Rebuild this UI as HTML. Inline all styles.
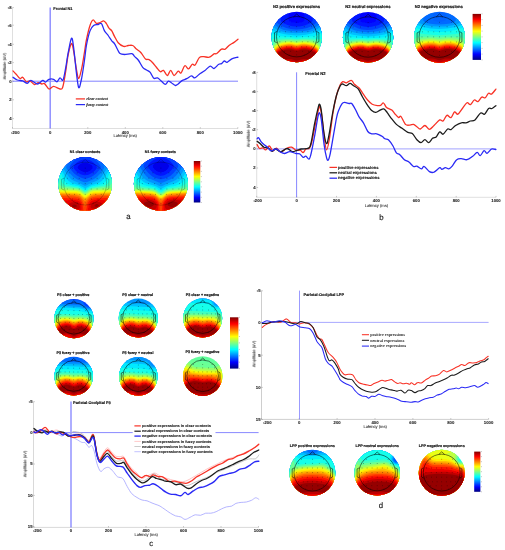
<!DOCTYPE html>
<html><head><meta charset="utf-8"><title>ERP figure</title>
<style>
html,body{margin:0;padding:0;background:#fff}
svg{display:block}
text{font-family:"Liberation Sans",sans-serif;fill:#1a1a1a;filter:url(#tx);text-rendering:geometricPrecision}
.tk{font-size:4.25px;font-weight:bold;fill:#2a2a2a;stroke:#2a2a2a;stroke-width:.1px}
.lb{font-size:4.05px;fill:#222;stroke:#222;stroke-width:.06px}
.tt{font-size:3.9px;font-weight:bold;stroke:#1a1a1a;stroke-width:.16px}
.tp{font-size:3.85px;font-weight:bold;stroke:#1a1a1a;stroke-width:.2px}
.tp2{font-size:3.7px;font-weight:bold;stroke:#1a1a1a;stroke-width:.2px}
.lg{font-size:3.82px;font-weight:bold;stroke:#1a1a1a;stroke-width:.1px}
.ls{font-family:"Liberation Serif",serif;font-size:4.1px;font-weight:bold;font-style:italic;fill:#2a2a2a;stroke:#2a2a2a;stroke-width:.1px}
.ls2{font-family:"Liberation Serif",serif;font-size:4.15px;font-weight:bold;fill:#333}
.lgb{font-size:4.1px;font-weight:bold;stroke:#1a1a1a;stroke-width:.1px}
.ttb{font-size:4.15px;font-weight:bold;stroke:#1a1a1a;stroke-width:.16px}
.tpb{font-size:4.1px;font-weight:bold;stroke:#1a1a1a;stroke-width:.2px}
.tpd{font-size:3.72px;font-weight:bold;stroke:#1a1a1a;stroke-width:.2px}
.tpa{font-size:3.7px;font-weight:bold;stroke:#1a1a1a;stroke-width:.2px}
.pl{font-size:7.8px;fill:#222;stroke:#222;stroke-width:.18px}
</style></head>
<body>
<svg width="505" height="550" viewBox="0 0 505 550">
<defs>
<linearGradient id="jetg" x1="0" y1="0" x2="0" y2="1"><stop offset="0%" stop-color="#800000"/><stop offset="6.2%" stop-color="#bf0000"/><stop offset="12.5%" stop-color="#ff0000"/><stop offset="18.8%" stop-color="#ff4000"/><stop offset="25%" stop-color="#ff8000"/><stop offset="31.2%" stop-color="#ffbf00"/><stop offset="37.5%" stop-color="#ffff00"/><stop offset="43.8%" stop-color="#bfff40"/><stop offset="50%" stop-color="#80ff80"/><stop offset="56.2%" stop-color="#40ffbf"/><stop offset="62.5%" stop-color="#00ffff"/><stop offset="68.8%" stop-color="#00bfff"/><stop offset="75%" stop-color="#0080ff"/><stop offset="81.2%" stop-color="#0040ff"/><stop offset="87.5%" stop-color="#0000ff"/><stop offset="93.8%" stop-color="#0000bf"/><stop offset="100%" stop-color="#000080"/></linearGradient>
<filter id="tb" x="-10%" y="-10%" width="120%" height="120%"><feGaussianBlur stdDeviation="0.55"/></filter>
<filter id="tx" x="-5%" y="-30%" width="110%" height="160%"><feGaussianBlur stdDeviation="0.22"/></filter>
<filter id="tb2" x="-10%" y="-10%" width="120%" height="120%"><feGaussianBlur stdDeviation="0.3"/></filter>
</defs>
<rect width="505" height="550" fill="#fff"/>
<!-- panel a -->
<path d="M12.5 7.5V128.5H238" fill="none" stroke="#cacaca" stroke-width=".6"/>
<path d="M12.5 128.5v-1.4M50.3 128.5v-1.4M87.8 128.5v-1.4M125.3 128.5v-1.4M162.8 128.5v-1.4M200.3 128.5v-1.4M237.8 128.5v-1.4M12.5 7.6h1.4M12.5 25.2h1.4M12.5 44.3h1.4M12.5 62.6h1.4M12.5 81.2h1.4M12.5 99.8h1.4M12.5 118.6h1.4" fill="none" stroke="#8a8a8a" stroke-width=".45"/>
<path d="M12.5 81.2H238" stroke="#5858ff" stroke-width="0.75" fill="none"/>
<path d="M50.2 7.5V128.5" stroke="#8a8aff" stroke-width="1.4" fill="none"/>
<text x="15.3" y="133.6" class="tk" text-anchor="middle">-200</text>
<text x="50.3" y="133.6" class="tk" text-anchor="middle">0</text>
<text x="87.8" y="133.6" class="tk" text-anchor="middle">200</text>
<text x="125.3" y="133.6" class="tk" text-anchor="middle">400</text>
<text x="162.8" y="133.6" class="tk" text-anchor="middle">600</text>
<text x="200.3" y="133.6" class="tk" text-anchor="middle">800</text>
<text x="237.8" y="133.6" class="tk" text-anchor="middle">1000</text>
<text x="11.5" y="8.9" class="tk" text-anchor="end">-8</text>
<text x="11.5" y="26.6" class="tk" text-anchor="end">-6</text>
<text x="11.5" y="45.6" class="tk" text-anchor="end">-4</text>
<text x="11.5" y="64" class="tk" text-anchor="end">-2</text>
<text x="11.5" y="82.5" class="tk" text-anchor="end">0</text>
<text x="11.5" y="101.1" class="tk" text-anchor="end">2</text>
<text x="11.5" y="119.9" class="tk" text-anchor="end">4</text>
<text x="125.2" y="137" class="lb" text-anchor="middle">Latency (ms)</text>
<text transform="translate(5.9 66.3) rotate(-90)" class="lb" text-anchor="middle">Amplitude (uV)</text>
<text x="53.3" y="10.2" class="tt">Frontal N1</text>
<path d="M13 70.9C13.6 71.5 15.2 73.2 16.4 74.5C17.6 75.8 18.9 78 20 78.5C21.1 79 21.6 76.8 22.7 77.3C23.8 77.8 25.2 81.2 26.4 81.8C27.6 82.4 28.6 80.5 30 80.9C31.4 81.4 33.1 84.2 34.5 84.5C35.9 84.8 37 82.8 38.2 82.7C39.4 82.6 40.8 83.8 41.8 84C42.8 84.2 43.3 82.8 44.5 83.6C45.7 84.4 47.5 88.5 49 89C50.5 89.5 51.8 86.4 53.6 86.4C55.4 86.4 58.5 88.8 60 89C61.5 89.2 61.8 90 62.7 87.3C63.6 84.6 64.6 78.2 65.5 72.7C66.4 67.2 67.2 59.4 68.2 54.5C69.2 49.6 70.6 44.2 71.5 43.6C72.4 43 72.8 46.7 73.6 50.9C74.4 55.1 75.6 64.4 76.4 69C77.2 73.6 77.8 78.7 78.7 78.5C79.6 78.3 80.8 72.4 81.8 68C82.8 63.6 83.7 56.7 84.5 52C85.3 47.3 85.5 44.4 86.4 40C87.3 35.6 88.9 28.8 90 25.5C91.1 22.2 91.9 20.4 93 20C94.1 19.6 95.2 22.9 96.4 23.3C97.6 23.8 98.8 23.1 100 22.7C101.2 22.3 102.5 20.8 103.6 20.9C104.7 21 105.5 22.4 106.4 23.6C107.3 24.8 108.1 27 109 28.2C109.9 29.4 110.9 29.5 111.8 30.9C112.7 32.3 113.4 34.4 114.5 36.4C115.6 38.4 116.7 41 118.2 42.7C119.7 44.4 121.9 45.9 123.6 46.4C125.3 46.9 126.7 45.6 128.2 45.5C129.7 45.4 131.3 44.9 132.7 45.5C134.1 46.1 135 47.8 136.4 49C137.8 50.2 139.5 51 141 52.7C142.5 54.4 144.2 57.9 145.5 59C146.8 60.1 147.8 59 149 59.6C150.2 60.2 151.5 61.4 152.7 62.7C153.9 64 155.1 65.8 156.4 67.3C157.7 68.8 159.1 71.2 160.3 71.7C161.5 72.2 162.3 69.8 163.5 70.4C164.7 71 166.1 75.5 167.3 75.5C168.5 75.5 169.6 70.4 170.7 70.4C171.8 70.4 172.8 75.4 174 75.5C175.2 75.6 177 71.6 178.2 71.2C179.4 70.8 179.9 73.9 181 73C182.1 72.1 183.5 66.4 184.8 65.7C186.1 65 187.3 69.2 188.6 68.9C189.8 68.7 191.2 64.8 192.3 64.2C193.4 63.6 193.9 66.2 195.1 65.1C196.3 64 197.9 59 199.3 57.6C200.7 56.2 201.9 56.8 203.6 56.7C205.3 56.6 207.6 57.7 209.3 57.2C211 56.7 212.8 54.5 214 53.9C215.2 53.3 215.6 54.3 216.8 53.5C218.1 52.7 220.1 49.9 221.5 49.2C222.9 48.5 223.9 49.8 225.2 49.2C226.4 48.6 227.6 46.5 229 45.4C230.4 44.3 232.2 43.6 233.7 42.6C235.2 41.6 237.3 39.8 238 39.2" fill="none" stroke="#f83226" stroke-width="1.3" stroke-linejoin="round" stroke-linecap="round"/>
<path d="M13 77.3C13.7 77.8 15.7 79.4 17.3 80C18.9 80.6 21 80.4 22.7 80.9C24.4 81.5 25.9 83.4 27.3 83.3C28.7 83.2 29.2 80.3 30.9 80.4C32.6 80.5 35.3 84 37.3 84C39.3 84 41.3 80.7 42.7 80.4C44.1 80.1 44.5 82.4 45.5 82.2C46.5 82 47.6 79.8 49 79.3C50.4 78.8 52.3 78.9 53.6 79.3C54.9 79.7 55.8 82 56.9 81.8C58 81.5 59 78.1 60 77.8C61 77.5 62.1 81.5 63 80C63.9 78.5 64.6 73.5 65.5 69C66.4 64.5 67.2 57.8 68.2 52.7C69.2 47.6 70.6 39.1 71.5 38.2C72.4 37.3 72.8 41.5 73.6 47.3C74.4 53 75.6 66 76.4 72.7C77.2 79.4 77.9 86.4 78.7 87.6C79.5 88.8 80.3 84.6 81.3 80C82.3 75.4 83.7 65.8 84.5 60C85.3 54.2 85.5 50.4 86.4 45.5C87.3 40.6 88.8 34.2 90 30.9C91.2 27.6 92.2 26.6 93.6 25.5C95 24.4 96.9 24.8 98.2 24.5C99.5 24.2 100.5 22.5 101.5 23.6C102.5 24.7 103.4 28.9 104.5 30.9C105.6 32.9 107 33.8 108.2 35.5C109.4 37.2 110.8 39.5 111.8 40.9C112.8 42.2 113.6 42.2 114.5 43.6C115.4 45 116.4 47.3 117.3 49C118.2 50.7 118.8 52.7 120 53.6C121.2 54.5 122.5 54.5 124.5 54.5C126.5 54.5 130.1 53.3 131.8 53.6C133.5 53.9 133.4 55.3 134.5 56.4C135.6 57.5 136.8 58.2 138.2 60C139.6 61.8 141.3 65.6 142.7 67.3C144.1 69 145.2 69.2 146.4 70C147.6 70.8 148.8 70.8 150 72.2C151.2 73.6 152.6 77.3 153.8 78.3C155.1 79.2 156.2 77.4 157.5 77.9C158.8 78.4 160 80 161.3 81.1C162.6 82.2 164.2 84.3 165.4 84.3C166.6 84.3 167.4 81.3 168.4 81.1C169.4 80.9 170.4 82.3 171.6 83C172.8 83.7 174.3 85.3 175.4 85.5C176.5 85.7 177.1 84.8 178.2 84C179.3 83.2 180.6 81.5 182 80.6C183.4 79.7 185.1 79.5 186.7 78.7C188.3 77.9 190.1 76 191.4 75.9C192.8 75.8 193.5 78.2 194.8 77.9C196.1 77.6 197.7 75.4 199.3 74.2C200.9 73 202.8 72.2 204.6 70.8C206.4 69.4 208.6 66.5 210.2 66.1C211.8 65.7 212.6 68.8 214 68.5C215.4 68.2 217.4 65 218.7 64.2C219.9 63.4 220.6 64.1 221.5 63.6C222.4 63.1 223.4 61.2 224.3 61C225.2 60.8 225.8 62.6 227.1 62.3C228.3 61.9 230 59.8 231.8 58.9C233.6 58 237 57.4 238 57.1" fill="none" stroke="#2a2af5" stroke-width="1.3" stroke-linejoin="round" stroke-linecap="round"/>
<path d="M75.8 98.9H85" stroke="#f83226" stroke-width="1.25" fill="none"/>
<text x="86.2" y="100.1" class="ls">clear context</text>
<path d="M75.8 104.6H85" stroke="#2a2af5" stroke-width="1.25" fill="none"/>
<text x="86.2" y="105.8" class="ls">fuzzy context</text>
<text x="85" y="153.2" class="tpa" text-anchor="middle">N1 clear contexts</text>
<text x="160.3" y="153.2" class="tpa" text-anchor="middle">N1 fuzzy contexts</text>
<clipPath id="tc0"><circle cx="85.2" cy="183.9" r="26.8"/></clipPath>
<g filter="url(#tb)"><g clip-path="url(#tc0)">
<rect x="57.4" y="156.1" width="55.6" height="55.6" fill="#0000e9"/>
<path fill="#0000ea" fill-rule="evenodd" d="M57.4 156.1L113 156.1L113 211.7L57.4 211.7ZM84.2 167.7L84.6 167.9L86.2 167.7L85.8 167.3L84.6 167.3Z"/>
<path fill="#0015ff" fill-rule="evenodd" d="M57.4 156.1L113 156.1L113 211.7L57.4 211.7ZM77.7 167.7L78.4 169L80.7 170.8L82.4 171.6L84.6 172.1L87.1 171.9L89.7 170.8L92 169L92.7 167.7L92.6 166.4L91 164.7L88.4 163.3L85.8 162.7L83.3 162.9L80.7 163.9L78.9 165.2L77.8 166.4Z"/>
<path fill="#0040ff" fill-rule="evenodd" d="M57.4 156.1L113 156.1L113 211.7L57.4 211.7ZM73.6 166.4L73.5 167.7L74.2 169L76.8 171.7L78.4 172.9L80.7 174.2L83.3 175.1L84.6 175.3L87.1 175.1L88.4 174.7L91 173.5L93.6 171.7L94.9 170.5L96.2 169L96.9 167.7L96.8 166.4L96 165.2L93.5 162.6L91.6 161.3L89.7 160.3L87.1 159.5L85.8 159.4L83.3 159.5L80.7 160.3L79.4 160.9L76.9 162.6L75.5 163.9L74.4 165.2Z"/>
<path fill="#006aff" fill-rule="evenodd" d="M57.4 156.1L78.9 156.1L77.9 157.4L74.2 160.6L71.6 163.5L70.4 165.2L69.7 166.4L69.7 167.7L70.3 169L72.4 171.6L74.2 173.4L76.8 175.5L80.7 177.6L83.3 178.6L84.6 178.8L85.8 178.8L88.4 178.1L91 177L93.6 175.5L96.2 173.4L98 171.6L100.1 169L100.7 167.7L100.7 166.4L100 165.2L98.8 163.5L96.2 160.6L92.5 157.4L91.5 156.1L113 156.1L113 211.7L57.4 211.7Z"/>
<path fill="#0095ff" fill-rule="evenodd" d="M57.4 156.1L72.7 156.1L72.3 157.4L69 161.8L66.8 165.2L66.3 166.4L66.2 167.7L66.8 169L70.3 173.7L72.9 176.5L74.2 177.6L77.3 179.4L83.3 181.9L84.6 182.2L85.8 182.2L87.1 181.9L93.1 179.4L95.6 178.1L97.5 176.5L100.1 173.7L103.6 169L104.2 167.7L104.1 166.4L103.6 165.2L101.4 161.8L98.1 157.4L97.7 156.1L113 156.1L113 211.7L57.4 211.7Z"/>
<path fill="#00bfff" fill-rule="evenodd" d="M57.4 156.1L68.5 156.1L68.2 157.4L63.7 165.2L63.3 166.4L63.2 167.7L63.7 169L65.2 171.4L69 177L70 178.1L71.4 179.4L74.2 181L79.4 183L84.6 185.7L85.8 185.7L87.1 185.1L91 183L96.2 181L99 179.4L100.4 178.1L101.4 177L106.5 169.3L107.2 167.7L107.1 166.4L106 163.9L102.2 157.4L101.9 156.1L113 156.1L113 211.7L57.4 211.7Z"/>
<path fill="#00eaff" fill-rule="evenodd" d="M57.4 156.1L65.1 156.1L64.9 157.4L61 165.2L60.6 166.4L60.5 167.7L61.6 170.3L66.1 178.1L67.1 179.4L69 181.3L71.6 182.8L72.9 183.3L79.4 185.2L84.6 188.1L85.8 188.1L91 185.2L97.5 183.3L98.8 182.8L101.4 181.3L103.3 179.4L104.3 178.1L108.8 170.3L109.9 167.7L109.8 166.4L109.4 165.2L105.5 157.4L105.3 156.1L113 156.1L113 211.7L57.4 211.7Z"/>
<path fill="#15ffea" fill-rule="evenodd" d="M57.4 156.1L62.3 156.1L61.5 158.7L57.7 166.4L57.7 167.7L61.9 175.5L63.5 179.4L65.2 181.8L66.9 183.3L69 184.3L71.6 185L78.1 186.2L79.4 186.7L84.6 189.7L85.8 189.7L89.7 187.3L92.3 186.2L98.8 185L101.4 184.3L103.5 183.3L105.2 181.8L106.9 179.4L108.5 175.5L112.7 167.7L112.7 166.4L108.9 158.7L108.1 156.1L113 156.1L113 211.7L57.4 211.7Z"/>
<path fill="#40ffbf" fill-rule="evenodd" d="M59.7 156.1L58.9 158.7L57.4 161.1L57.4 156.1ZM110.7 156.1L113 156.1L113 161.1L111.5 158.7ZM57.4 172.7L58.7 174.3L59.3 175.5L60.5 179.4L61.5 182L62.4 183.3L64 184.5L67.5 185.8L78.1 187.4L80.7 188.5L83.3 190.3L84.6 190.9L85.8 190.9L87.1 190.3L89.7 188.5L92.3 187.4L102.9 185.8L106.4 184.5L108 183.3L108.9 182L109.9 179.4L111.1 175.5L111.7 174.3L113 172.7L113 211.7L57.4 211.7Z"/>
<path fill="#6aff95" fill-rule="evenodd" d="M57.4 180.8L58.4 183.3L59.3 184.5L60.9 185.8L63.9 186.7L66.3 187.1L75.5 187.9L78.1 188.4L80.7 189.5L83.3 191.3L84.6 191.9L85.8 191.9L87.1 191.3L89.7 189.5L92.3 188.4L94.9 187.9L104.1 187.1L106.5 186.7L109.5 185.8L111.1 184.5L112 183.3L113 180.8L113 211.7L57.4 211.7Z"/>
<path fill="#95ff6a" fill-rule="evenodd" d="M57.4 187.4L63.9 188.2L75.5 188.9L78.1 189.3L79.4 189.7L80.7 190.5L83.3 192.3L84.6 192.9L85.8 192.9L87.1 192.3L91 189.7L93.6 189.1L106.5 188.2L113 187.4L113 211.7L57.4 211.7Z"/>
<path fill="#bfff40" fill-rule="evenodd" d="M57.4 189.1L76.8 190.1L79.4 190.8L80.7 191.5L83.3 193.4L84.6 194L85.8 194L87.1 193.4L89.7 191.5L91 190.8L93.6 190.1L113 189.1L113 211.7L57.4 211.7Z"/>
<path fill="#eaff15" fill-rule="evenodd" d="M57.4 190.3L76.8 191.1L79.4 191.8L80.7 192.6L83.3 194.5L84.6 195.2L85.8 195.2L87.1 194.5L89.7 192.6L91 191.8L93.6 191.1L113 190.3L113 211.7L57.4 211.7Z"/>
<path fill="#ffea00" fill-rule="evenodd" d="M57.4 191.4L72.9 191.9L76.8 192.2L79.4 192.9L80.7 193.7L83.3 195.7L84.6 196.4L85.8 196.4L87.1 195.6L89.7 193.7L91 192.9L93.6 192.2L97.5 191.9L113 191.4L113 211.7L57.4 211.7Z"/>
<path fill="#ffbf00" fill-rule="evenodd" d="M57.4 192.4L76.8 193.2L79.4 193.9L80.7 194.7L83.3 196.8L84.6 197.5L85.8 197.5L87.1 196.8L89.7 194.7L91 193.9L93.6 193.2L113 192.4L113 211.7L57.4 211.7Z"/>
<path fill="#ff9500" fill-rule="evenodd" d="M57.4 193.4L76.8 194.2L79.4 195L80.7 195.8L83.3 198.1L84.6 198.9L85.8 198.8L91 195L93.6 194.2L113 193.4L113 211.7L57.4 211.7Z"/>
<path fill="#ff6a00" fill-rule="evenodd" d="M57.4 194.6L72.9 195.1L76.8 195.4L79.4 196.2L80.7 197.1L84.6 201L85.8 200.7L89.2 197.5L91 196.2L93.6 195.4L97.5 195.1L113 194.6L113 211.7L57.4 211.7Z"/>
<path fill="#ff4000" fill-rule="evenodd" d="M57.4 196L74.2 196.6L78.1 197.2L79.4 197.7L80.7 198.6L82 200.1L82.8 201.4L84 203.9L84.6 206.7L85.3 205.2L85.8 204.7L86.5 202.6L88.2 200.1L89.7 198.5L91 197.7L92.3 197.2L96.2 196.6L113 196L113 211.7L57.4 211.7Z"/>
<path fill="#ff1500" fill-rule="evenodd" d="M57.4 197.9L75.5 198.4L78.1 198.9L79.4 199.5L80.7 200.5L82 202.6L82.7 205.2L83.3 209.7L84 211.7L57.4 211.7ZM85.5 211.7L85.8 211.4L86.5 209.1L87.2 205.2L88.1 202.6L89.7 200.4L91 199.4L93.6 198.5L96.2 198.2L113 197.9L113 211.7Z"/>
<path fill="#ea0000" fill-rule="evenodd" d="M88.7 205.2L89.7 202.7L91 201.4L92.3 200.7L94.6 200.1L97.5 199.8L105.2 200.5L113 200.3L113 211.7L88.3 211.7L88.1 209.1ZM57.4 200.3L65.2 200.5L74.2 200.1L76.8 200.4L78.1 200.8L79.4 201.5L80.4 202.6L81 203.9L81.7 207.8L81.6 209.1L81 211.7L57.4 211.7Z"/>
<path fill="#bf0000" fill-rule="evenodd" d="M66.7 205.2L68.5 203.9L71.2 202.6L72.9 202.2L75.5 202.2L77.1 202.6L78.1 203.2L78.9 203.9L79.7 205.2L79.9 206.5L79.8 207.8L79.4 208.5L78.1 209.2L75.5 209.7L72.9 209.6L70.3 208.7L68.5 207.8L66.7 206.5ZM90.5 206.5L91 204.9L92.3 203.2L93.6 202.4L96.2 201.7L97.5 201.7L100.1 202.3L103.1 203.9L104.6 205.2L104.4 206.5L102.1 207.8L100.1 208.6L97.5 209.2L94.9 209.1L92.3 208.6L91 208.1L90.8 207.8Z"/>
<path fill="#950000" fill-rule="evenodd" d="M72.3 205.2L72.9 204.8L74.2 204.5L75.5 204.7L76.5 205.2L76.9 206.5L75.5 207.3L74.2 207.4L72.9 207L72.1 206.5ZM94.5 205.2L96.2 204.1L97.5 204.1L99 205.2L98.4 206.5L97.5 206.8L96.2 206.9L94.9 206.5Z"/>
</g></g>
<g fill="none" stroke="#000" stroke-opacity="0.55" stroke-width="0.45"><circle cx="85.2" cy="183.6" r="21.4"/><path d="M81.8 162.5 L85.2 159.4 L88.6 162.5"/><path d="M64.2 178.1 L61.6 179.3 L61.6 188.8 L64.2 190.1"/><path d="M106.2 178.1 L108.8 179.3 L108.8 188.8 L106.2 190.1"/></g>
<path d="M72.4 168.2h.01M85.2 168.2h.01M98 168.2h.01M69.2 172.9h.01M77.2 172.9h.01M85.2 172.9h.01M93.2 172.9h.01M101.2 172.9h.01M67.3 178.3h.01M73.3 178.3h.01M79.2 178.3h.01M85.2 178.3h.01M91.2 178.3h.01M97.1 178.3h.01M103.1 178.3h.01M66.8 183.6h.01M72.9 183.6h.01M79.1 183.6h.01M85.2 183.6h.01M91.3 183.6h.01M97.5 183.6h.01M103.6 183.6h.01M67.3 189h.01M73.3 189h.01M79.2 189h.01M85.2 189h.01M91.2 189h.01M97.1 189h.01M103.1 189h.01M69.2 194.4h.01M74.6 194.4h.01M79.9 194.4h.01M85.2 194.4h.01M90.5 194.4h.01M95.8 194.4h.01M101.2 194.4h.01M72.4 199.1h.01M78.8 199.1h.01M85.2 199.1h.01M91.6 199.1h.01M98 199.1h.01M77.2 202.9h.01M85.2 202.9h.01M93.2 202.9h.01" stroke="#000" stroke-opacity=".55" stroke-width=".7" stroke-linecap="round" fill="none"/>
<clipPath id="tc1"><circle cx="160.9" cy="183.9" r="27"/></clipPath>
<g filter="url(#tb)"><g clip-path="url(#tc1)">
<rect x="132.9" y="155.9" width="56" height="56" fill="#0000e8"/>
<path fill="#0000ea" fill-rule="evenodd" d="M132.9 155.9L188.9 155.9L188.9 211.9L132.9 211.9ZM159.6 166.3L160.2 167L161.6 167L162.2 166.3L161.6 166L160.2 166Z"/>
<path fill="#0015ff" fill-rule="evenodd" d="M132.9 155.9L188.9 155.9L188.9 211.9L132.9 211.9ZM152.8 166.3L153.2 167.6L154.2 168.9L155.7 170.2L157.6 171.4L160.2 172.1L162.9 171.9L165.5 170.7L166.8 169.7L168.6 167.6L169 166.3L168.6 165L166.8 163.3L164.2 162L161.6 161.5L158.9 161.7L156.3 162.6L155 163.3L153.2 165Z"/>
<path fill="#0040ff" fill-rule="evenodd" d="M132.9 155.9L188.9 155.9L188.9 211.9L132.9 211.9ZM148 166.3L148.5 167.6L149.5 168.9L151.1 170.8L153.3 172.8L156.3 174.7L158.9 175.6L160.2 175.8L161.6 175.8L164.2 175.2L166.5 174.1L168.1 173.1L170 171.5L172 169.4L173.3 167.6L173.8 166.3L173.5 165L172.6 163.7L169.4 160.6L166.8 159L164.2 157.8L161.6 157.3L158.9 157.5L157.6 157.8L153.7 159.7L151.1 161.7L149.2 163.7L148.3 165Z"/>
<path fill="#006aff" fill-rule="evenodd" d="M132.9 155.9L150.3 155.9L149.7 157.2L145.9 161.8L144.5 163.7L143.8 165L143.6 166.3L144.1 167.6L147.2 171.8L149.4 174.1L151.1 175.6L152.8 176.7L155.7 178L158.9 179.1L160.2 179.3L161.6 179.3L164.2 178.7L166.8 177.8L169.4 176.5L170.9 175.4L173.3 173.3L175.9 170.2L177.7 167.6L178.2 166.3L178 165L177.3 163.7L175.9 161.8L172.1 157.2L171.5 155.9L188.9 155.9L188.9 211.9L132.9 211.9Z"/>
<path fill="#0095ff" fill-rule="evenodd" d="M132.9 155.9L144.8 155.9L144.4 157.2L140.7 163.3L139.9 165L139.8 166.3L140.2 167.6L143.3 172.5L145.6 175.4L146.9 176.7L148.5 177.9L151.2 179.3L158.9 182.4L160.2 182.7L161.6 182.7L162.9 182.4L170.6 179.3L173.3 177.9L174.9 176.7L176.2 175.4L178.5 172.5L180.9 168.9L181.6 167.6L182 166.3L181.9 165L181.1 163.3L177.4 157.2L177 155.9L188.9 155.9L188.9 211.9L132.9 211.9Z"/>
<path fill="#00bfff" fill-rule="evenodd" d="M132.9 155.9L140.6 155.9L140.4 157.2L137.1 163.7L136.6 165L136.5 166.3L136.8 167.6L139.4 172.4L141.4 175.4L143.3 177.8L145.1 179.3L147.2 180.7L150 181.9L155 183.7L158.9 185.7L160.2 186.2L161.6 186.2L162.5 185.9L166.8 183.7L173.3 181.3L175.9 179.9L178.5 177.8L180.4 175.4L182.4 172.4L185 167.6L185.3 166.3L185.2 165L184.7 163.7L181.4 157.2L181.2 155.9L188.9 155.9L188.9 211.9L132.9 211.9Z"/>
<path fill="#00eaff" fill-rule="evenodd" d="M132.9 155.9L137.2 155.9L136.5 158.5L133.2 165L133 166.3L133.5 167.6L138.1 175.9L140.5 179.3L143.3 181.8L145.9 183.2L148.5 184.1L153.7 185.4L156.3 186.5L158.9 188.1L160.2 188.7L161.6 188.7L165.5 186.5L168.1 185.4L173.3 184.1L175.9 183.2L178.5 181.8L181.3 179.3L183.7 175.9L188.3 167.6L188.8 166.3L188.6 165L185.3 158.5L184.6 155.9L188.9 155.9L188.9 211.9L132.9 211.9Z"/>
<path fill="#15ffea" fill-rule="evenodd" d="M134 155.9L133.7 157.2L132.9 158.6L132.9 155.9ZM187.8 155.9L188.9 155.9L188.9 158.6L188.1 157.2ZM132.9 172.8L134.2 174.5L137.6 180.6L138.6 181.9L140.1 183.2L142.6 184.6L147 185.9L152.4 186.8L155 187.6L158.9 190L160.2 190.5L161.6 190.5L162.9 190L166.8 187.6L169.4 186.8L174.8 185.9L179.2 184.6L181.7 183.2L183.2 181.9L184.2 180.6L187.6 174.5L188.9 172.8L188.9 211.9L132.9 211.9Z"/>
<path fill="#40ffbf" fill-rule="evenodd" d="M132.9 179.3L135.5 183.2L136.9 184.6L139.5 185.9L143.3 186.9L151.1 187.9L153.7 188.5L155 188.9L158.9 191.4L160.2 191.9L161.6 191.9L162.9 191.3L165.5 189.6L168.1 188.5L170.7 187.9L177 187.2L182.4 185.8L184.9 184.6L186.3 183.3L188.9 179.3L188.9 211.9L132.9 211.9Z"/>
<path fill="#6aff95" fill-rule="evenodd" d="M132.9 185.9L136.2 187.2L139.4 187.8L144.4 188.5L151.1 189L153.7 189.5L156.3 190.7L158.9 192.5L160.2 193L161.6 193L162.9 192.5L165.5 190.7L168.1 189.5L170.7 189L177.4 188.5L182.4 187.8L185.6 187.2L188.9 185.9L188.9 211.9L132.9 211.9Z"/>
<path fill="#95ff6a" fill-rule="evenodd" d="M132.9 188.5L152.4 190.2L155 191L158.9 193.5L160.2 194L161.6 194L162.9 193.5L166.8 191L169.4 190.2L188.9 188.5L188.9 211.9L132.9 211.9Z"/>
<path fill="#bfff40" fill-rule="evenodd" d="M132.9 189.7L149.8 190.7L152.4 191L155 191.8L158.9 194.4L160.2 195L161.6 195L162.9 194.4L166.8 191.8L169.4 191L172 190.7L188.9 189.7L188.9 211.9L132.9 211.9Z"/>
<path fill="#eaff15" fill-rule="evenodd" d="M132.9 190.6L148.5 191.4L152.4 191.8L155 192.6L158.9 195.2L160.2 195.8L161.6 195.8L162.9 195.2L166.8 192.6L169.4 191.8L173.3 191.4L188.9 190.6L188.9 211.9L132.9 211.9Z"/>
<path fill="#ffea00" fill-rule="evenodd" d="M132.9 191.4L148.5 192.2L152.4 192.6L155 193.4L158.9 196.1L160.2 196.7L161.6 196.7L162.9 196.1L166.8 193.4L169.4 192.6L173.3 192.2L188.9 191.4L188.9 211.9L132.9 211.9Z"/>
<path fill="#ffbf00" fill-rule="evenodd" d="M132.9 192.2L148.5 193L152.4 193.4L155 194.3L158.9 197L160.2 197.7L161.6 197.7L162.9 197L166.8 194.3L169.4 193.4L173.3 193L188.9 192.2L188.9 211.9L132.9 211.9Z"/>
<path fill="#ff9500" fill-rule="evenodd" d="M132.9 193L148.5 193.8L152.4 194.2L155 195.1L156.8 196.3L158.9 198L160.2 198.8L161.6 198.8L162.9 198L166.8 195.1L169.4 194.2L173.3 193.8L188.9 193L188.9 211.9L132.9 211.9Z"/>
<path fill="#ff6a00" fill-rule="evenodd" d="M132.9 194L149.8 194.9L152.4 195.2L155.3 196.3L157.1 197.6L160.2 200.3L161.6 200.3L164.7 197.6L166.5 196.3L169.4 195.2L172 194.9L188.9 194L188.9 211.9L132.9 211.9Z"/>
<path fill="#ff4000" fill-rule="evenodd" d="M132.9 195.1L149.8 195.9L152.4 196.3L153.7 196.6L155.6 197.6L157.2 198.9L159.4 201.5L160.2 203.1L161.6 202.9L162.3 201.5L163.3 200.2L165.5 198.1L166.8 197.2L169.3 196.3L172 195.9L188.9 195.1L188.9 211.9L132.9 211.9Z"/>
<path fill="#ff1500" fill-rule="evenodd" d="M132.9 196.4L149.8 197.1L152.4 197.5L155 198.5L157 200.2L158 201.5L158.6 202.8L159.5 206.7L159.7 211.9L132.9 211.9ZM163.1 202.8L164.2 200.9L165.5 199.4L166.8 198.5L169.4 197.5L173.3 197.1L188.9 196.4L188.9 211.9L161.9 211.9L162.2 206.7Z"/>
<path fill="#ea0000" fill-rule="evenodd" d="M132.9 198L140.7 198.4L149.8 198.4L152.4 198.8L155 200L156.6 201.5L157.3 202.8L157.8 204.1L158.2 206.7L157.7 211.9L132.9 211.9ZM163.8 204.1L164.3 202.8L165.5 201.1L166.8 200L169.4 198.8L173.3 198.3L181.1 198.4L188.9 198L188.9 211.9L163.9 211.9L163.5 206.7Z"/>
<path fill="#bf0000" fill-rule="evenodd" d="M132.9 200.3L140.7 200.5L148.5 199.8L151.1 200L152.4 200.4L153.7 201L155 202L156.3 203.8L156.7 205.4L156.7 206.7L156.3 207.9L155 209.2L151.1 209.9L148.5 210L145.9 209.5L141.5 208L139.4 207.5L132.9 206.9ZM164.9 205.4L165.5 203.5L166.8 201.9L168.1 200.9L170.7 200L174.6 199.8L181.1 200.6L188.9 200.3L188.9 206.9L182.4 207.4L179.8 208.1L174.6 209.8L173.3 210L170.7 209.9L166.8 209.4L165.5 208.4L164.9 206.7Z"/>
<path fill="#950000" fill-rule="evenodd" d="M144 202.8L147.2 201.5L149.9 201.5L151.1 201.8L152.9 202.8L153.9 204.1L153.7 205.2L152.4 206.2L151.1 206.7L149.8 207L148.5 207L147.2 206.7L144.9 205.4L143.7 204.1ZM167.7 204.1L168.7 202.8L169.4 202.3L171.7 201.5L173.3 201.4L174.6 201.6L177.5 202.8L177.8 204.1L176.7 205.4L174.6 206.6L173.3 206.9L172 207L170.2 206.7L167.8 205.4Z"/>
</g></g>
<g fill="none" stroke="#000" stroke-opacity="0.55" stroke-width="0.45"><circle cx="160.9" cy="183.6" r="21.6"/><path d="M157.4 162.4 L160.9 159.2 L164.4 162.4"/><path d="M139.7 178 L137.1 179.3 L137.1 188.8 L139.7 190.1"/><path d="M182.1 178 L184.7 179.3 L184.7 188.8 L182.1 190.1"/></g>
<path d="M148 168.1h.01M160.9 168.1h.01M173.8 168.1h.01M144.8 172.8h.01M152.9 172.8h.01M160.9 172.8h.01M168.9 172.8h.01M177 172.8h.01M142.9 178.2h.01M148.9 178.2h.01M154.9 178.2h.01M160.9 178.2h.01M166.9 178.2h.01M172.9 178.2h.01M178.9 178.2h.01M142.3 183.6h.01M148.5 183.6h.01M154.7 183.6h.01M160.9 183.6h.01M167.1 183.6h.01M173.3 183.6h.01M179.5 183.6h.01M142.9 189h.01M148.9 189h.01M154.9 189h.01M160.9 189h.01M166.9 189h.01M172.9 189h.01M178.9 189h.01M144.8 194.4h.01M150.2 194.4h.01M155.5 194.4h.01M160.9 194.4h.01M166.3 194.4h.01M171.6 194.4h.01M177 194.4h.01M148 199.2h.01M154.5 199.2h.01M160.9 199.2h.01M167.3 199.2h.01M173.8 199.2h.01M152.8 203.1h.01M160.9 203.1h.01M169 203.1h.01" stroke="#000" stroke-opacity=".55" stroke-width=".7" stroke-linecap="round" fill="none"/>
<clipPath id="tc2"><circle cx="296.7" cy="37" r="25.2"/></clipPath>
<g filter="url(#tb)"><g clip-path="url(#tc2)">
<rect x="270.5" y="10.8" width="52.4" height="52.4" fill="#0006ff"/>
<path fill="#0015ff" fill-rule="evenodd" d="M270.5 10.8L288.6 10.8L288.6 19.3L288.8 20.5L290 21.8L293.7 22.7L296.1 23L298.5 22.9L302.2 22.2L303.4 21.8L304.6 20.5L304.8 19.3L304.8 10.8L322.9 10.8L322.9 63.2L270.5 63.2Z"/>
<path fill="#0040ff" fill-rule="evenodd" d="M270.5 10.8L280.7 10.8L280.7 19.3L280.8 20.5L281.4 21.8L282.9 23L287.6 25L292.4 26.3L296.1 26.6L299.7 26.4L304.6 25.4L307.1 24.6L310.5 23L312 21.8L312.6 20.5L312.7 19.3L312.7 10.8L322.9 10.8L322.9 63.2L270.5 63.2Z"/>
<path fill="#006aff" fill-rule="evenodd" d="M270.5 10.8L275.6 10.8L275.7 20.5L276.1 21.8L276.6 22.3L278.8 24.2L282.7 26.5L286.3 28L290.9 29.1L296.1 29.5L302.2 29.1L307.1 28L310.7 26.5L314.6 24.2L316.8 22.3L317.3 21.8L317.7 20.5L317.8 10.8L322.9 10.8L322.9 63.2L270.5 63.2Z"/>
<path fill="#0095ff" fill-rule="evenodd" d="M270.5 10.8L271.3 10.8L271.4 20.5L271.9 21.8L272.8 23L275.4 25.2L279.1 27.9L281.5 29.1L283.9 29.9L288.8 30.8L296.1 31.4L303.4 31L307.1 30.5L309.5 29.9L313.2 28.5L315.6 27L317.8 25.4L320.6 23L321.5 21.8L322 20.5L322.1 10.8L322.9 10.8L322.9 63.2L270.5 63.2Z"/>
<path fill="#00bfff" fill-rule="evenodd" d="M270.5 25L271.7 25.7L275.9 29.1L278.2 30.3L280.2 31L282.7 31.7L286.3 32.4L296.1 33.3L299.7 33.1L305.8 32.5L309.5 32L313.2 31L315.2 30.3L317.5 29.1L321.7 25.7L322.9 25L322.9 63.2L270.5 63.2Z"/>
<path fill="#00eaff" fill-rule="evenodd" d="M270.5 28.7L275.4 31.7L280.2 33.3L286.3 34.5L296.1 35.4L298.5 35.4L305.8 34.7L313.2 33.3L318 31.7L322.9 28.7L322.9 63.2L270.5 63.2Z"/>
<path fill="#15ffea" fill-rule="evenodd" d="M270.5 32.5L275.4 34.8L277.8 35.6L280.2 36.2L283.9 36.6L296.1 37.5L309.5 36.6L313.2 36.2L315.6 35.6L318 34.8L322.9 32.5L322.9 63.2L270.5 63.2Z"/>
<path fill="#40ffbf" fill-rule="evenodd" d="M270.5 39.4L279 38.6L287.6 38.4L291.2 38.5L296.1 38.9L303.4 38.4L311.9 38.5L322.9 39.4L322.9 63.2L270.5 63.2Z"/>
<path fill="#6aff95" fill-rule="evenodd" d="M270.5 48.5L272.4 44.9L274.2 42.6L275.4 41.6L276.6 41L279 40.3L282.7 39.8L287.6 39.5L291.2 39.6L297.3 40.1L302.2 39.6L304.6 39.5L310.7 39.8L315.6 40.6L318 41.6L319.2 42.6L321 44.9L322.9 48.5L322.9 63.2L270.5 63.2Z"/>
<path fill="#95ff6a" fill-rule="evenodd" d="M270.5 51L273.3 46.1L275.3 43.7L276.6 42.8L277.8 42.2L280.2 41.4L283.9 40.8L288.8 40.5L291.2 40.6L296.1 41.2L302.2 40.6L305.8 40.5L309.5 40.8L313.2 41.4L315.6 42.2L316.8 42.8L318.1 43.7L320.1 46.1L322.9 51L322.9 63.2L270.5 63.2Z"/>
<path fill="#bfff40" fill-rule="evenodd" d="M270.5 52.6L273.7 47.4L275.4 45.3L276.6 44.2L279 43L281.5 42.3L285.1 41.7L290 41.4L296.1 42.2L297.3 42.2L302.2 41.5L304.6 41.4L308.3 41.7L311.9 42.3L314.4 43L316.8 44.2L318 45.3L319.7 47.4L322.9 52.6L322.9 63.2L270.5 63.2Z"/>
<path fill="#eaff15" fill-rule="evenodd" d="M270.5 53.9L273.8 48.6L275.4 46.5L277.8 44.6L279 44L281.5 43.2L285.1 42.6L288.8 42.3L291.2 42.3L296.1 43.1L297.3 43.1L303.4 42.3L307.1 42.5L310.7 43L314.4 44L315.6 44.6L317.6 46.1L319.2 48L322.9 53.9L322.9 63.2L270.5 63.2Z"/>
<path fill="#ffea00" fill-rule="evenodd" d="M270.5 54.9L273.7 49.8L275.4 47.6L277.8 45.6L281.5 44.1L285.1 43.4L288.8 43.1L291.2 43.1L296.1 44L297.3 44L303.4 43L308.3 43.4L311.9 44.1L315.6 45.6L317.7 47.4L319.2 49.1L322.9 54.9L322.9 63.2L270.5 63.2Z"/>
<path fill="#ffbf00" fill-rule="evenodd" d="M270.5 55.8L274.2 50.1L275.4 48.6L277.8 46.5L279 45.9L281.5 44.9L285.1 44.2L288.8 43.8L291.2 43.9L296.1 44.8L297.3 44.8L301 44L303.4 43.8L308.3 44.2L311.9 44.9L314.4 45.9L316.8 47.4L319.2 50.1L322.9 55.8L322.9 63.2L270.5 63.2Z"/>
<path fill="#ff9500" fill-rule="evenodd" d="M270.5 56.7L271.7 55.1L274.2 51L275.4 49.5L277.8 47.4L279 46.7L281.5 45.7L285.1 44.9L288.8 44.5L291.2 44.6L296.1 45.5L298.5 45.3L302.2 44.6L304.6 44.5L307.1 44.7L310.7 45.4L313.2 46.1L315.6 47.4L318 49.5L319.2 51L321.7 55.1L322.9 56.7L322.9 63.2L270.5 63.2Z"/>
<path fill="#ff6a00" fill-rule="evenodd" d="M270.5 57.5L271.7 55.9L274.2 51.9L275.4 50.4L277.8 48.2L279.3 47.4L281.5 46.5L285.1 45.6L288.8 45.2L291.2 45.3L296.1 46.3L297.3 46.3L302.2 45.3L305.8 45.3L309.5 45.8L313.2 46.9L315.6 48.2L318 50.4L319.2 51.9L321.7 55.9L322.9 57.5L322.9 63.2L270.5 63.2Z"/>
<path fill="#ff4000" fill-rule="evenodd" d="M270.5 58.4L271.7 56.8L274.2 52.8L275.6 51L277.8 49.1L279 48.3L281.5 47.3L285.1 46.3L288.8 45.9L291.2 46L296.1 47.1L298.5 46.8L302.2 46L305.8 46L309.5 46.6L313.2 47.7L315.6 49.1L317.8 51L319.2 52.8L321.7 56.8L322.9 58.4L322.9 63.2L270.5 63.2Z"/>
<path fill="#ff1500" fill-rule="evenodd" d="M270.5 59.2L271.7 57.7L274.2 53.7L275.4 52.2L277.8 50L279 49.2L281.5 48.1L285.1 47.1L288.8 46.7L291.2 46.8L296.1 47.9L298.5 47.7L302.2 46.8L304.6 46.7L308.3 47.1L311.9 48.1L314.4 49.2L316.8 50.9L319.2 53.7L321.7 57.7L322.9 59.2L322.9 63.2L270.5 63.2Z"/>
<path fill="#ea0000" fill-rule="evenodd" d="M270.5 60.2L271.7 58.7L274.2 54.7L276.2 52.2L279 50.1L281.5 49L285.1 48L288.8 47.5L291.2 47.6L296.1 48.7L298.5 48.5L302.2 47.6L304.6 47.5L308.3 48L311.9 49L314.4 50.1L316.8 51.9L319.2 54.7L321.7 58.7L322.9 60.2L322.9 63.2L270.5 63.2Z"/>
<path fill="#bf0000" fill-rule="evenodd" d="M270.5 61.3L271.7 59.9L274.2 55.8L276.6 52.9L279 51.1L281.7 49.8L286.3 48.6L288.8 48.3L291.2 48.4L296.1 49.7L298.5 49.4L302.2 48.4L304.6 48.3L307.1 48.6L311.7 49.8L314.3 51L316 52.2L318 54.2L319.2 55.8L321.7 59.9L322.9 61.3L322.9 63.2L312.8 63.2L310.4 62L305.7 60.8L303.4 60.7L302.2 60.8L297.3 62.3L296.1 62.3L291.2 60.8L288.8 60.7L287.6 60.8L283 62L280.6 63.2L270.5 63.2Z"/>
<path fill="#950000" fill-rule="evenodd" d="M270.5 62.9L272.2 60.8L274.2 57.1L276.1 54.7L279 52.2L281.4 51L285.7 49.8L288.8 49.4L291.2 49.5L294.9 50.6L297.3 50.8L298.5 50.6L301 49.8L303.4 49.4L305.8 49.5L308.3 50L311.9 51L314.4 52.2L316 53.5L318 55.5L319.2 57.1L321.2 60.8L322.9 62.9L322.9 63.2L315.4 63.2L314.2 62L313.2 61.3L310.7 60.3L307.1 59.3L303.4 59L301 59.4L297.3 60.5L296.1 60.5L294.9 60.3L291.2 59.1L290 59L287.6 59.1L285.1 59.6L281.5 60.8L279.2 62L278 63.2L270.5 63.2Z"/>
</g></g>
<g fill="none" stroke="#000" stroke-opacity="0.88" stroke-width="0.6"><circle cx="296.7" cy="36.7" r="20.2"/><path d="M293.5 16.9 L296.7 14 L299.9 16.9"/><path d="M276.9 31.5 L274.5 32.7 L274.5 41.6 L276.9 42.8"/><path d="M316.5 31.5 L318.9 32.7 L318.9 41.6 L316.5 42.8"/></g>
<path d="M284.7 22.2h.01M296.7 22.2h.01M308.7 22.2h.01M281.7 26.7h.01M289.2 26.7h.01M296.7 26.7h.01M304.2 26.7h.01M311.7 26.7h.01M279.9 31.7h.01M285.5 31.7h.01M291.1 31.7h.01M296.7 31.7h.01M302.3 31.7h.01M307.9 31.7h.01M313.5 31.7h.01M279.4 36.7h.01M285.1 36.7h.01M290.9 36.7h.01M296.7 36.7h.01M302.5 36.7h.01M308.3 36.7h.01M314 36.7h.01M279.9 41.8h.01M285.5 41.8h.01M291.1 41.8h.01M296.7 41.8h.01M302.3 41.8h.01M307.9 41.8h.01M313.5 41.8h.01M281.7 46.8h.01M286.7 46.8h.01M291.7 46.8h.01M296.7 46.8h.01M301.7 46.8h.01M306.7 46.8h.01M311.7 46.8h.01M284.7 51.3h.01M290.7 51.3h.01M296.7 51.3h.01M302.7 51.3h.01M308.7 51.3h.01M289.1 54.9h.01M296.7 54.9h.01M304.3 54.9h.01" stroke="#000" stroke-opacity=".55" stroke-width=".7" stroke-linecap="round" fill="none"/>
<clipPath id="tc3"><circle cx="368.1" cy="37.3" r="25.2"/></clipPath>
<g filter="url(#tb)"><g clip-path="url(#tc3)">
<rect x="341.9" y="11.1" width="52.4" height="52.4" fill="#0006ff"/>
<path fill="#0015ff" fill-rule="evenodd" d="M341.9 11.1L360 11.1L360 19.6L360.2 20.8L361.4 22.1L365.1 23L367.5 23.3L369.9 23.2L373.6 22.5L374.8 22.1L376 20.8L376.2 19.6L376.2 11.1L394.3 11.1L394.3 63.5L341.9 63.5Z"/>
<path fill="#0040ff" fill-rule="evenodd" d="M341.9 11.1L352.1 11.1L352.1 19.6L352.2 20.8L352.8 22.1L354.3 23.3L359 25.3L363.8 26.6L367.5 26.9L371.1 26.7L376 25.7L378.5 24.9L381.9 23.3L383.4 22.1L384 20.8L384.1 19.6L384.1 11.1L394.3 11.1L394.3 63.5L341.9 63.5Z"/>
<path fill="#006aff" fill-rule="evenodd" d="M341.9 11.1L347 11.1L347.1 20.8L347.5 22.1L349.2 23.7L352.9 26.1L357.7 28.3L361.7 29.4L367.5 30L372.4 29.7L377.2 28.7L381.8 26.9L386 24.5L388.2 22.6L388.7 22.1L389.1 20.8L389.2 11.1L394.3 11.1L394.3 63.5L341.9 63.5Z"/>
<path fill="#0095ff" fill-rule="evenodd" d="M341.9 11.1L342.7 11.1L342.8 20.8L343.3 22.1L344.2 23.3L345.6 24.5L350.5 28.2L352.7 29.4L355.3 30.4L357.7 31.1L361.4 31.7L367.5 32.2L374 31.8L377.2 31.3L380.3 30.6L384.6 28.8L387 27.3L389.4 25.5L392 23.3L392.9 22.1L393.4 20.8L393.5 11.1L394.3 11.1L394.3 63.5L341.9 63.5Z"/>
<path fill="#00bfff" fill-rule="evenodd" d="M341.9 25.3L343.1 26L348 29.9L351.8 31.8L354.1 32.5L357.7 33.3L362.6 34L367.5 34.3L371.1 34.2L377.2 33.5L380.9 32.9L383.3 32.2L385.8 31.2L388.2 29.9L393.1 26L394.3 25.3L394.3 63.5L341.9 63.5Z"/>
<path fill="#00eaff" fill-rule="evenodd" d="M341.9 29L346.8 32.5L349.2 33.6L351.6 34.4L357.7 35.6L367.5 36.5L369.9 36.4L378.5 35.6L384.6 34.4L387 33.6L389.4 32.5L394.3 29L394.3 63.5L341.9 63.5Z"/>
<path fill="#15ffea" fill-rule="evenodd" d="M341.9 33.5L344.3 35L346.8 36.1L350.4 37L354.1 37.4L367.5 38.3L382.1 37.4L385.8 37L389.4 36.1L391.9 35L394.3 33.5L394.3 63.5L341.9 63.5Z"/>
<path fill="#40ffbf" fill-rule="evenodd" d="M341.9 42.5L342.8 41.6L344.3 40.7L346.8 39.9L349.2 39.5L354.1 39.2L361.4 39.1L367.5 39.6L374.8 39.1L382.1 39.2L388.2 39.7L391.9 40.7L393.4 41.6L394.3 42.5L394.3 63.5L341.9 63.5Z"/>
<path fill="#6aff95" fill-rule="evenodd" d="M341.9 49.3L344.3 45L345.1 44L346.3 42.8L348.5 41.6L351.6 40.7L359 40.1L362.6 40.2L368.7 40.7L373.6 40.2L376 40.1L383.3 40.6L387 41.3L389.4 42.4L390.6 43.4L392 45.2L394.3 49.3L394.3 63.5L341.9 63.5Z"/>
<path fill="#95ff6a" fill-rule="evenodd" d="M341.9 51.6L345 46.4L346.8 44.3L348 43.4L349.2 42.8L351.6 42L355.3 41.4L360.2 41L362.6 41.1L367.5 41.7L369.9 41.6L373.6 41.1L377.2 41.1L380.9 41.4L384.6 42L387 42.8L388.2 43.4L389.4 44.3L391.2 46.4L394.3 51.6L394.3 63.5L341.9 63.5Z"/>
<path fill="#bfff40" fill-rule="evenodd" d="M341.9 53.2L345.3 47.7L346.8 45.8L348 44.8L349.2 44L351.6 43.1L355.3 42.3L360.2 41.9L362.6 42L367.5 42.7L368.7 42.7L374.8 41.9L378.5 42L382.1 42.5L385.8 43.5L388.2 44.8L389.4 45.8L390.9 47.7L394.3 53.2L394.3 63.5L341.9 63.5Z"/>
<path fill="#eaff15" fill-rule="evenodd" d="M341.9 54.3L345.3 48.9L346.8 47L349.2 45.1L350.4 44.5L352.9 43.7L356.5 43L360.2 42.7L362.6 42.8L367.5 43.5L368.7 43.5L374.8 42.7L378.5 42.9L382.1 43.4L385.8 44.5L387 45.1L388.8 46.4L390.6 48.5L394.3 54.3L394.3 63.5L341.9 63.5Z"/>
<path fill="#ffea00" fill-rule="evenodd" d="M341.9 55.3L345.2 50.1L346.8 48.1L349.2 46.1L350.4 45.4L352.9 44.5L356.5 43.8L360.2 43.5L362.6 43.5L367.5 44.4L368.7 44.4L374.8 43.5L379.7 43.8L383.3 44.5L385.8 45.4L388.2 46.9L390.6 49.6L394.3 55.3L394.3 63.5L341.9 63.5Z"/>
<path fill="#ffbf00" fill-rule="evenodd" d="M341.9 56.2L345.6 50.5L346.8 49L349.2 47L350.4 46.3L352.9 45.3L356.5 44.5L360.2 44.2L362.6 44.3L367.5 45.2L368.7 45.2L372.4 44.4L374.8 44.2L379.7 44.5L383.3 45.3L385.8 46.3L388.2 47.9L390.6 50.5L394.3 56.2L394.3 63.5L341.9 63.5Z"/>
<path fill="#ff9500" fill-rule="evenodd" d="M341.9 57L343.1 55.4L345.6 51.4L346.8 49.9L349.2 47.8L350.4 47.1L352.9 46.1L356.5 45.2L360.2 44.8L362.6 44.9L367.5 45.9L369.9 45.7L373.6 44.9L376 44.8L378.5 45.1L382.1 45.7L384.6 46.5L387 47.8L389.4 49.9L390.6 51.4L393.1 55.4L394.3 57L394.3 63.5L341.9 63.5Z"/>
<path fill="#ff6a00" fill-rule="evenodd" d="M341.9 57.8L343.1 56.2L345.6 52.2L346.8 50.7L349.2 48.6L350.4 47.8L352.9 46.8L356.5 45.9L360.2 45.5L362.6 45.6L367.5 46.6L368.7 46.6L373.6 45.6L377.2 45.6L380.9 46.1L384.6 47.2L387 48.6L389.4 50.7L390.6 52.2L393.1 56.2L394.3 57.8L394.3 63.5L341.9 63.5Z"/>
<path fill="#ff4000" fill-rule="evenodd" d="M341.9 58.6L343.1 57L345.6 53L347 51.3L349.2 49.3L350.4 48.6L352.9 47.5L356.5 46.6L360.2 46.2L362.6 46.2L367.5 47.3L369.9 47.1L373.6 46.2L377.2 46.2L380.9 46.8L384.6 48L387 49.3L389.2 51.3L390.6 53L393.1 57L394.3 58.6L394.3 63.5L341.9 63.5Z"/>
<path fill="#ff1500" fill-rule="evenodd" d="M341.9 59.4L343.1 57.9L345.6 53.9L346.8 52.3L349.2 50.1L351.3 48.9L352.9 48.2L356.5 47.3L360.2 46.8L362.6 46.9L367.5 48L369.9 47.8L373.6 46.9L377.2 46.9L380.9 47.5L383.3 48.2L385.8 49.3L388.2 51.1L390.6 53.9L393.1 57.9L394.3 59.4L394.3 63.5L341.9 63.5Z"/>
<path fill="#ea0000" fill-rule="evenodd" d="M341.9 60.3L343.1 58.8L345.6 54.7L347.4 52.5L349.2 50.9L350.4 50.1L352.9 49L356.5 48L360.2 47.5L362.6 47.6L367.5 48.8L369.9 48.5L373.6 47.6L376 47.5L379.7 48L383.3 49L385.8 50.1L388.2 51.9L390.6 54.7L393.1 58.8L394.3 60.3L394.3 63.5L341.9 63.5Z"/>
<path fill="#bf0000" fill-rule="evenodd" d="M341.9 61.2L343.1 59.8L345.6 55.7L348 52.8L350.4 51L352.9 49.8L356.5 48.8L360.2 48.3L362.6 48.4L367.5 49.6L369.9 49.4L373.6 48.4L376 48.3L379.7 48.8L383.3 49.8L385.8 51L387.9 52.5L389.4 54.1L390.6 55.7L393.1 59.8L394.3 61.2L394.3 63.5L384.4 63.5L382.1 62.3L377.2 61L374.8 60.9L373.4 61.1L371.1 61.9L368.7 62.5L367.5 62.5L366.3 62.2L362.6 61L359 61L354.1 62.3L351.8 63.5L341.9 63.5Z"/>
<path fill="#950000" fill-rule="evenodd" d="M341.9 62.4L343.3 61.1L345.6 57.1L348 54L349.7 52.5L351.7 51.3L355.3 50L360.2 49.3L362.6 49.4L367.5 50.6L369.9 50.4L373.6 49.4L376 49.3L381.2 50.1L384.5 51.3L386.5 52.5L388.2 54L390.6 57.1L392.9 61.1L394.3 62.4L394.3 63.5L387 63.5L385.8 62.2L383.3 61L379.7 59.8L376 59.2L373.6 59.3L368.7 60.7L367.5 60.7L366.3 60.4L362.6 59.3L361.4 59.1L359 59.3L356.5 59.8L352.9 61L350.4 62.2L349.2 63.5L341.9 63.5Z"/>
</g></g>
<g fill="none" stroke="#000" stroke-opacity="0.88" stroke-width="0.6"><circle cx="368.1" cy="37" r="20.2"/><path d="M364.9 17.2 L368.1 14.3 L371.3 17.2"/><path d="M348.3 31.8 L345.9 33 L345.9 41.9 L348.3 43.1"/><path d="M387.9 31.8 L390.3 33 L390.3 41.9 L387.9 43.1"/></g>
<path d="M356.1 22.5h.01M368.1 22.5h.01M380.1 22.5h.01M353.1 27h.01M360.6 27h.01M368.1 27h.01M375.6 27h.01M383.1 27h.01M351.3 32h.01M356.9 32h.01M362.5 32h.01M368.1 32h.01M373.7 32h.01M379.3 32h.01M384.9 32h.01M350.8 37h.01M356.5 37h.01M362.3 37h.01M368.1 37h.01M373.9 37h.01M379.7 37h.01M385.4 37h.01M351.3 42.1h.01M356.9 42.1h.01M362.5 42.1h.01M368.1 42.1h.01M373.7 42.1h.01M379.3 42.1h.01M384.9 42.1h.01M353.1 47.1h.01M358.1 47.1h.01M363.1 47.1h.01M368.1 47.1h.01M373.1 47.1h.01M378.1 47.1h.01M383.1 47.1h.01M356.1 51.6h.01M362.1 51.6h.01M368.1 51.6h.01M374.1 51.6h.01M380.1 51.6h.01M360.5 55.2h.01M368.1 55.2h.01M375.7 55.2h.01" stroke="#000" stroke-opacity=".55" stroke-width=".7" stroke-linecap="round" fill="none"/>
<clipPath id="tc4"><circle cx="439.5" cy="37.2" r="25.5"/></clipPath>
<g filter="url(#tb)"><g clip-path="url(#tc4)">
<rect x="413" y="10.7" width="53" height="53" fill="#0062ff"/>
<path fill="#006aff" fill-rule="evenodd" d="M413 10.7L432.9 10.7L433 19.3L433.5 20.6L436.4 21.5L438.9 21.8L442.6 21.5L445.5 20.6L446 19.3L446.1 10.7L466 10.7L466 63.7L413 63.7Z"/>
<path fill="#0095ff" fill-rule="evenodd" d="M413 10.7L423.1 10.7L423.1 19.3L423.3 20.6L424.3 21.8L427.3 23L430.3 23.7L435.1 24.3L438.9 24.4L443.8 24.3L448.7 23.7L451.7 23L454.7 21.8L455.7 20.6L455.9 19.3L455.9 10.7L466 10.7L466 63.7L413 63.7Z"/>
<path fill="#00bfff" fill-rule="evenodd" d="M413 10.7L417.3 10.7L417.4 20.6L418 21.8L419.6 23L422.9 24.4L427.8 25.6L432.7 26.3L438.9 26.6L445 26.4L451.2 25.6L456.1 24.4L459.4 23L461 21.8L461.6 20.6L461.7 10.7L466 10.7L466 63.7L413 63.7Z"/>
<path fill="#00eaff" fill-rule="evenodd" d="M413 22.4L415.8 24.3L417.9 25.3L422.9 27L426.6 27.8L430.3 28.4L438.9 29L447.5 28.5L454.9 27.3L458.6 26.3L461.1 25.3L463.2 24.3L466 22.4L466 63.7L413 63.7Z"/>
<path fill="#15ffea" fill-rule="evenodd" d="M413 26.5L417.9 28.6L422.9 30L430.3 31.3L438.9 32L447.5 31.4L454.9 30.3L461.1 28.6L466 26.5L466 63.7L413 63.7Z"/>
<path fill="#40ffbf" fill-rule="evenodd" d="M413 31.3L417.9 33L421.6 33.8L425.3 34.2L438.9 35.2L453.7 34.2L457.4 33.8L461.1 33L466 31.3L466 63.7L413 63.7Z"/>
<path fill="#6aff95" fill-rule="evenodd" d="M413 40.3L415.5 38.2L416.7 37.7L419.2 37.1L422.9 36.8L431.5 36.7L440.1 37.3L446.3 36.7L453.7 36.7L459.8 37.1L462.6 37.8L464.7 39L466 40.3L466 63.7L413 63.7Z"/>
<path fill="#95ff6a" fill-rule="evenodd" d="M413 45.8L415.1 42.7L416.7 41L419.2 39.6L422.9 38.8L426.6 38.4L431.5 38.3L440.1 39L445 38.4L448.7 38.3L454.9 38.6L459.8 39.6L461.2 40.3L462.9 41.5L463.9 42.7L466 45.8L466 63.7L413 63.7Z"/>
<path fill="#bfff40" fill-rule="evenodd" d="M413 48.2L416 44L417.9 42.1L420.4 40.9L424.1 40.1L429 39.6L432.7 39.6L437.7 40.3L440.1 40.4L445 39.7L448.7 39.6L453.7 39.9L458.6 40.9L461.1 42.1L462.3 43.1L463.5 44.6L466 48.2L466 63.7L413 63.7Z"/>
<path fill="#eaff15" fill-rule="evenodd" d="M413 49.8L416.3 45.2L417.9 43.7L420.4 42.3L424.1 41.3L427.8 40.9L432.7 40.7L435.2 41L437.7 41.5L440.1 41.7L445 40.8L447.5 40.7L452.4 41L457.4 41.9L459.8 42.9L461.1 43.7L462.3 44.8L466 49.8L466 63.7L413 63.7Z"/>
<path fill="#ffea00" fill-rule="evenodd" d="M413 51.1L416.4 46.4L417.9 44.9L420.4 43.4L424.1 42.4L427.8 41.9L432.7 41.7L435.2 42L438.4 42.7L440.1 42.8L445 41.8L447.5 41.7L452.4 42L456.1 42.7L458.6 43.4L461.1 44.9L462.6 46.4L466 51.1L466 63.7L413 63.7Z"/>
<path fill="#ffbf00" fill-rule="evenodd" d="M413 52.3L416.3 47.7L417.9 46L420.4 44.5L424.1 43.3L427.8 42.8L431.5 42.6L434 42.7L438.9 43.8L441.3 43.6L445 42.7L447.5 42.6L451.2 42.8L454.9 43.3L458.6 44.5L461.1 46L462.7 47.7L466 52.3L466 63.7L413 63.7Z"/>
<path fill="#ff9500" fill-rule="evenodd" d="M413 53.3L416.7 48.3L417.9 47.1L420.4 45.4L424.1 44.2L427.8 43.6L431.5 43.4L434 43.6L438.9 44.7L440.1 44.7L446.3 43.4L450 43.5L454.9 44.2L458.6 45.4L461.1 47.1L462.3 48.3L466 53.3L466 63.7L413 63.7Z"/>
<path fill="#ff6a00" fill-rule="evenodd" d="M413 54.3L414.2 52.8L416.7 49.3L417.9 48.1L420.4 46.4L424.1 45.1L427.8 44.5L431.5 44.2L434 44.4L438.9 45.6L440.1 45.6L446.3 44.3L450 44.3L453.7 44.8L457.4 45.8L459.8 47.1L462.3 49.3L464.8 52.8L466 54.3L466 63.7L413 63.7Z"/>
<path fill="#ff4000" fill-rule="evenodd" d="M413 55.2L414.2 53.9L416.7 50.4L417.9 49.1L420.4 47.3L424.1 46L427.8 45.3L431.5 45.1L434 45.3L437.7 46.3L440.1 46.5L445 45.3L446.3 45.1L448.7 45.1L452.4 45.5L456.5 46.4L458.6 47.3L459.8 48.1L462.3 50.4L464.8 53.9L466 55.2L466 63.7L413 63.7Z"/>
<path fill="#ff1500" fill-rule="evenodd" d="M413 56.3L414.2 54.9L416.7 51.4L417.9 50.1L420.4 48.3L424.1 46.9L427.8 46.3L431.5 46L434 46.2L438.9 47.5L440.1 47.5L443.8 46.5L446.3 46.1L451.2 46.3L454.9 46.9L457.4 47.8L459.8 49.1L462.3 51.4L464.8 54.9L466 56.3L466 63.7L413 63.7Z"/>
<path fill="#ea0000" fill-rule="evenodd" d="M413 57.3L414.2 56L416.7 52.4L417.9 51.1L420.4 49.4L424.1 47.9L427.8 47.2L431.5 46.9L434 47.1L438.9 48.5L440.1 48.5L443.8 47.4L446.3 47L448.7 47L451.2 47.2L454.9 47.9L457.4 48.8L459.8 50.1L462.3 52.4L464.8 56L466 57.3L466 63.7L413 63.7Z"/>
<path fill="#bf0000" fill-rule="evenodd" d="M413 58.5L414.2 57.2L416.7 53.6L417.9 52.2L419.2 51.2L420.9 50.1L424.1 48.9L427.8 48.2L431.5 47.9L434 48.1L437.7 49.3L438.9 49.5L440.1 49.5L445 48.1L447.5 47.9L450 48L453.7 48.6L456.1 49.3L458.6 50.4L461.1 52.2L462.3 53.6L464.8 57.2L466 58.5L466 63.7L458.8 63.7L457.1 62.5L453.7 61.2L451.2 60.8L447.5 60.5L445 60.8L441.3 62.1L440.1 62.3L437.7 62.1L435.2 61.1L432.7 60.6L429 60.7L425.3 61.2L421.9 62.5L420.2 63.7L413 63.7Z"/>
<path fill="#950000" fill-rule="evenodd" d="M413 59.8L414.2 58.7L416.7 54.9L417.9 53.5L419.2 52.4L420.8 51.4L423.7 50.1L427.8 49.3L431.5 49L434 49.3L438.9 50.7L440.1 50.7L445 49.3L446.3 49.1L448.7 49L452.4 49.5L455.3 50.1L458.2 51.4L460 52.6L462.3 54.9L464.8 58.7L466 59.8L466 63.7L461.4 63.7L460.5 62.5L459.8 61.9L457.4 60.4L453.7 59.2L448.7 58.4L446.3 58.4L445 58.6L440.1 60.2L438.9 60.2L438 60L435.2 59L432.7 58.4L430.3 58.4L427.8 58.7L424.1 59.5L421.6 60.4L419.2 61.9L418.5 62.5L417.6 63.7L413 63.7Z"/>
</g></g>
<g fill="none" stroke="#000" stroke-opacity="0.88" stroke-width="0.6"><circle cx="439.5" cy="36.9" r="20.4"/><path d="M436.2 16.9 L439.5 13.9 L442.8 16.9"/><path d="M419.5 31.6 L417.1 32.9 L417.1 41.8 L419.5 43.1"/><path d="M459.5 31.6 L461.9 32.9 L461.9 41.8 L459.5 43.1"/></g>
<path d="M427.3 22.3h.01M439.5 22.3h.01M451.7 22.3h.01M424.3 26.7h.01M431.9 26.7h.01M439.5 26.7h.01M447.1 26.7h.01M454.7 26.7h.01M422.5 31.8h.01M428.2 31.8h.01M433.8 31.8h.01M439.5 31.8h.01M445.2 31.8h.01M450.8 31.8h.01M456.5 31.8h.01M422 36.9h.01M427.8 36.9h.01M433.7 36.9h.01M439.5 36.9h.01M445.3 36.9h.01M451.2 36.9h.01M457 36.9h.01M422.5 42h.01M428.2 42h.01M433.8 42h.01M439.5 42h.01M445.2 42h.01M450.8 42h.01M456.5 42h.01M424.3 47.1h.01M429.4 47.1h.01M434.4 47.1h.01M439.5 47.1h.01M444.6 47.1h.01M449.6 47.1h.01M454.7 47.1h.01M427.3 51.6h.01M433.4 51.6h.01M439.5 51.6h.01M445.6 51.6h.01M451.7 51.6h.01M431.9 55.3h.01M439.5 55.3h.01M447.1 55.3h.01" stroke="#000" stroke-opacity=".55" stroke-width=".7" stroke-linecap="round" fill="none"/>
<clipPath id="tc5"><circle cx="73.9" cy="318.6" r="19.6"/></clipPath>
<g filter="url(#tb)"><g clip-path="url(#tc5)">
<rect x="53.3" y="298" width="41.2" height="41.2" fill="#0040ff"/>
<path fill="#006aff" fill-rule="evenodd" d="M53.3 298.8L77.3 300.3L80.1 300.6L82 301.4L82.6 301.8L84.5 304.7L85.6 305.7L87.4 306.6L88.8 306.9L89.7 306.9L91.3 306.6L93.3 305.7L94.5 304.8L94.5 339.2L53.3 339.2Z"/>
<path fill="#0095ff" fill-rule="evenodd" d="M53.3 303.4L79.2 305L81.1 305.4L83 306.1L86.2 307.6L88.8 308.2L90.7 308.1L94.5 307.2L94.5 339.2L53.3 339.2Z"/>
<path fill="#00bfff" fill-rule="evenodd" d="M53.3 305.3L79.2 306.9L82 307.4L86.8 309.1L88.8 309.4L90.7 309.4L94.5 308.7L94.5 339.2L53.3 339.2Z"/>
<path fill="#00eaff" fill-rule="evenodd" d="M53.3 307.1L64.3 307.6L79.2 308.5L82 309L85.9 310.3L88.8 310.8L90.7 310.8L94.5 310.3L94.5 339.2L53.3 339.2Z"/>
<path fill="#15ffea" fill-rule="evenodd" d="M53.3 309.8L63.8 310.1L79.2 311.1L81.4 311.4L87.8 312.9L94.5 313.2L94.5 339.2L53.3 339.2Z"/>
<path fill="#40ffbf" fill-rule="evenodd" d="M53.3 315.3L55.2 314.5L58.1 314L65.8 313.9L68.6 314L73.4 314.7L79.2 314.6L83 314.9L87.8 315.7L90.7 316.6L91.7 317.2L92.6 318.1L93.2 319.1L94.5 323.4L94.5 339.2L53.3 339.2Z"/>
<path fill="#6aff95" fill-rule="evenodd" d="M54.4 318.1L55.2 317.1L57.1 316.2L60 315.7L64.8 315.5L68.6 315.7L74.4 316.5L79.2 316.2L83 316.4L86.8 317.1L89.7 318.1L90.7 318.8L91.8 320L92.6 321.7L94.5 326.9L94.5 339.2L53.3 339.2L53.3 322L53.9 319.1Z"/>
<path fill="#95ff6a" fill-rule="evenodd" d="M55.2 319.6L56.2 318.3L58.1 317.4L61 316.8L64.8 316.6L68.6 316.7L74.4 317.7L79.2 317.3L82 317.4L85.9 318L88.8 319L90.7 320.5L91.6 321.8L94.5 328.5L94.5 339.2L53.3 339.2L53.3 325.2Z"/>
<path fill="#bfff40" fill-rule="evenodd" d="M53.3 326.9L54.3 324.9L55.2 322.1L56.2 320.2L57.1 319.3L58.1 318.7L60 318.1L62.9 317.7L66.7 317.6L69.6 317.9L73.4 318.8L74.4 318.8L78.2 318.3L80.1 318.2L83 318.4L85.9 319.1L88.8 320.3L89.7 321L90.7 322L91.6 323.6L93.5 328.1L94.5 329.9L94.5 339.2L53.3 339.2Z"/>
<path fill="#eaff15" fill-rule="evenodd" d="M53.3 328.3L56.2 322L57.1 320.8L58.1 320L60 319.2L62.9 318.6L66.7 318.4L69.6 318.8L73.4 319.8L74.4 319.9L78.2 319.2L80.1 319.1L83 319.3L84.9 319.7L86.8 320.4L88.8 321.4L90.3 322.9L91.6 325L93.5 329.3L94.5 331L94.5 339.2L53.3 339.2Z"/>
<path fill="#ffea00" fill-rule="evenodd" d="M53.3 329.5L56.2 323.6L57.1 322.2L59 320.6L61 319.9L63.8 319.3L66.7 319.2L69.6 319.6L73.4 320.8L74.4 320.9L79.2 319.9L81.1 319.9L84 320.3L86.8 321.3L88.8 322.5L90.1 323.9L91.6 326.3L93.5 330.5L94.5 332.1L94.5 339.2L53.3 339.2Z"/>
<path fill="#ffbf00" fill-rule="evenodd" d="M53.3 330.6L56.2 324.8L57.1 323.4L59 321.6L61 320.8L63.8 320.1L67.7 320L69.6 320.4L73.4 321.8L74.4 321.8L79.2 320.7L81.1 320.6L83 320.9L85.9 321.8L87.8 322.8L89.7 324.5L90.7 325.8L94.5 333.2L94.5 339.2L53.3 339.2Z"/>
<path fill="#ff9500" fill-rule="evenodd" d="M53.3 331.7L54.3 330.1L56.2 326L57.1 324.5L59 322.6L61 321.6L63.8 320.9L67.7 320.8L69.6 321.1L73.4 322.6L74.4 322.7L79.2 321.4L81.1 321.4L83 321.6L85.9 322.6L87.8 323.7L89.7 325.5L90.7 326.8L94.5 334.2L94.5 339.2L53.3 339.2Z"/>
<path fill="#ff6a00" fill-rule="evenodd" d="M53.3 332.7L54.3 331.1L56.2 327.2L57.8 324.8L59 323.6L60 323L61.9 322.1L64.8 321.5L67.7 321.5L69.6 321.9L73.4 323.6L74.4 323.6L79.2 322.1L82 322.2L84.6 322.9L86.6 323.9L88.8 325.5L89.9 326.7L91.6 329.5L93.5 333.6L94.5 335.2L94.5 339.2L53.3 339.2Z"/>
<path fill="#ff4000" fill-rule="evenodd" d="M53.3 333.7L54.3 332.2L56.2 328.3L57.9 325.8L60 324L61.9 323.1L64.8 322.4L67.7 322.3L69.6 322.8L73.4 324.6L74.4 324.6L79.2 323L82 323.1L84.8 323.9L86.6 324.8L87.9 325.8L89.7 327.6L91.6 330.6L93.5 334.6L94.5 336.2L94.5 339.2L53.3 339.2Z"/>
<path fill="#ff1500" fill-rule="evenodd" d="M53.3 334.8L54.3 333.3L56.2 329.4L58.1 326.7L60 325.1L61.9 324.1L64.8 323.3L67.7 323.2L69.6 323.7L73.4 325.6L74.4 325.7L78.2 324.1L79.2 323.9L81.1 323.8L84 324.5L85.9 325.4L87.8 326.7L89.7 328.7L91.6 331.7L93.5 335.7L94.5 337.2L94.5 339.2L53.3 339.2Z"/>
<path fill="#ea0000" fill-rule="evenodd" d="M53.3 335.9L54.3 334.4L56.2 330.6L58.1 327.9L60 326.2L62.6 324.8L64.8 324.2L67.7 324.1L69.6 324.6L73.4 326.7L74.4 326.8L75.3 326.5L78.2 325.1L79.2 324.8L81.1 324.8L83 325.1L84.9 325.9L86.8 327.1L88.8 328.8L90.7 331.2L91.6 332.8L94.4 338.2L94.5 339.2L53.3 339.2Z"/>
<path fill="#bf0000" fill-rule="evenodd" d="M53.3 337.2L54.3 335.7L56.2 331.8L57.1 330.3L59 328.1L61 326.7L62.9 325.7L64.8 325.2L66.7 325L68.6 325.3L69.6 325.6L72.5 327.5L73.4 327.9L74.4 327.9L75.3 327.6L78.2 326.1L80.1 325.7L82 325.9L84.9 327L87.8 329L89.7 331L91.6 334L93.9 339.2L87.7 339.2L86.8 338.1L84.2 336.3L82.1 335.4L81.1 335.2L79.2 335.3L75.3 337.5L74.4 337.8L73.4 337.8L71.5 336.8L69.6 335.3L67.7 334.4L66.7 334.3L65.6 334.4L62.9 335.4L60 337.3L59 338.2L58.4 339.2L53.3 339.2Z"/>
<path fill="#950000" fill-rule="evenodd" d="M53.3 338.9L54.3 337.3L56.2 333.3L57.1 331.7L59 329.4L61 327.9L62.9 326.9L64.8 326.3L66.7 326.1L67.7 326.2L69.5 326.7L72.5 328.7L73.4 329.1L74.4 329.1L75.3 328.8L78.2 327.3L80.1 326.8L82 327L84.1 327.7L87 329.6L89.7 332.4L91.6 335.5L92.6 337.7L93 339.2L89.4 339.2L88.8 338L86.8 336.3L84.9 335L82 333.7L80.1 333.5L79.2 333.7L78.2 334L75.3 335.7L74.4 336.1L73.4 336L72.5 335.6L69.6 333.5L68.6 333L66.7 332.7L63.8 333.3L61 334.8L58.1 337.2L57.3 338.2L56.8 339.2L53.3 339.2Z"/>
</g></g>
<g fill="none" stroke="#000" stroke-opacity="0.88" stroke-width="0.6"><circle cx="73.9" cy="318.4" r="15.7"/><path d="M71.4 303 L73.9 300.7 L76.4 303"/><path d="M58.6 314.3 L56.7 315.3 L56.7 322.2 L58.6 323.1"/><path d="M89.2 314.3 L91.1 315.3 L91.1 322.2 L89.2 323.1"/></g>
<path d="M64.5 307.1h.01M73.9 307.1h.01M83.3 307.1h.01M62.2 310.6h.01M68.1 310.6h.01M73.9 310.6h.01M79.7 310.6h.01M85.6 310.6h.01M60.8 314.5h.01M65.2 314.5h.01M69.5 314.5h.01M73.9 314.5h.01M78.3 314.5h.01M82.6 314.5h.01M87 314.5h.01M60.4 318.4h.01M64.9 318.4h.01M69.4 318.4h.01M73.9 318.4h.01M78.4 318.4h.01M82.9 318.4h.01M87.4 318.4h.01M60.8 322.3h.01M65.2 322.3h.01M69.5 322.3h.01M73.9 322.3h.01M78.3 322.3h.01M82.6 322.3h.01M87 322.3h.01M62.2 326.2h.01M66.1 326.2h.01M70 326.2h.01M73.9 326.2h.01M77.8 326.2h.01M81.7 326.2h.01M85.6 326.2h.01M64.5 329.7h.01M69.2 329.7h.01M73.9 329.7h.01M78.6 329.7h.01M83.3 329.7h.01M68 332.5h.01M73.9 332.5h.01M79.8 332.5h.01" stroke="#000" stroke-opacity=".55" stroke-width=".7" stroke-linecap="round" fill="none"/>
<clipPath id="tc6"><circle cx="138.3" cy="318" r="19.6"/></clipPath>
<g filter="url(#tb)"><g clip-path="url(#tc6)">
<rect x="117.7" y="297.4" width="41.2" height="41.2" fill="#0095ff"/>
<path fill="#00bfff" fill-rule="evenodd" d="M117.7 302.5L158.9 304.9L158.9 338.6L117.7 338.6Z"/>
<path fill="#00eaff" fill-rule="evenodd" d="M117.7 305.4L146.3 307L158.9 307.9L158.9 338.6L117.7 338.6Z"/>
<path fill="#15ffea" fill-rule="evenodd" d="M117.7 309.2L128.2 309.5L147.4 310.7L154.1 311.3L158.9 312.1L158.9 338.6L117.7 338.6Z"/>
<path fill="#40ffbf" fill-rule="evenodd" d="M117.7 315L119.6 314.2L121.5 313.8L125.4 313.5L130.2 313.5L137.8 314.2L147.4 314.5L152.2 315.3L155.1 316.3L156 317L157.1 318.5L158.9 324.4L158.9 338.6L117.7 338.6Z"/>
<path fill="#6aff95" fill-rule="evenodd" d="M119.3 318.5L119.9 317.5L120.6 316.9L121.5 316.4L124.4 315.8L128.2 315.5L133 315.7L138.8 316.3L143.6 316.2L146.4 316.4L150.3 317L153.2 318L155.1 319.4L155.8 320.4L158.9 327.6L158.9 338.6L117.7 338.6L117.7 324.1Z"/>
<path fill="#95ff6a" fill-rule="evenodd" d="M117.7 326.4L120.6 319.6L121.5 318.6L122.5 318L124.4 317.4L127.3 316.9L131.1 316.8L134 317.1L137.8 317.7L143.6 317.5L146.4 317.7L150.3 318.5L153.2 319.7L155.1 321.6L156.5 324.2L158.9 329.3L158.9 338.6L117.7 338.6Z"/>
<path fill="#bfff40" fill-rule="evenodd" d="M117.7 327.9L120.8 321.4L121.5 320.3L122.5 319.5L124.4 318.6L127.3 318L131.1 317.8L134 318.1L137.8 318.8L144.5 318.6L148.4 319L151.2 320L153.2 321.1L154.4 322.3L156 324.8L158.9 330.6L158.9 338.6L117.7 338.6Z"/>
<path fill="#eaff15" fill-rule="evenodd" d="M117.7 329.1L120.6 323.3L121.5 321.8L122.5 320.8L123.4 320.2L125.4 319.4L128.2 318.8L131.1 318.7L134 319L137.8 319.8L144.5 319.4L148.4 319.9L151.2 321L153.2 322.3L154.9 324.2L156 326L158.9 331.7L158.9 338.6L117.7 338.6Z"/>
<path fill="#ffea00" fill-rule="evenodd" d="M117.7 330.1L120.6 324.6L121.5 323.1L123.4 321.3L125.4 320.3L128.2 319.7L131.1 319.5L134 319.8L137.8 320.7L139.7 320.7L143.6 320.2L147.4 320.5L150.3 321.5L152.2 322.6L154 324.2L155.1 325.6L158.9 332.7L158.9 338.6L117.7 338.6Z"/>
<path fill="#ffbf00" fill-rule="evenodd" d="M117.7 331.1L118.7 329.6L120.6 325.7L121.5 324.2L123.4 322.3L124.4 321.7L126.3 320.9L128.2 320.5L131.1 320.3L133 320.4L136.9 321.4L138.8 321.6L143.6 321L146.4 321.1L149.3 321.9L151.2 322.8L153.2 324.3L155.1 326.6L158.9 333.6L158.9 338.6L117.7 338.6Z"/>
<path fill="#ff9500" fill-rule="evenodd" d="M117.7 332.1L118.7 330.6L120.6 326.7L122.4 324.2L124.4 322.6L126.3 321.7L128.2 321.2L131.1 321L133 321.2L136.9 322.2L138.8 322.4L143.6 321.7L146.4 321.9L149.3 322.7L151.2 323.7L153.2 325.2L155.1 327.6L158.9 334.6L158.9 338.6L117.7 338.6Z"/>
<path fill="#ff6a00" fill-rule="evenodd" d="M117.7 333L118.7 331.6L120.6 327.8L122.5 325.2L124.4 323.6L126.3 322.6L128.2 322.1L131.1 321.8L133 322L136.9 323L138.8 323.3L142.6 322.6L145.5 322.5L148.4 323.2L150.3 324.1L152.2 325.3L154.1 327.2L156 330.1L157.9 334L158.9 335.5L158.9 338.6L117.7 338.6Z"/>
<path fill="#ff4000" fill-rule="evenodd" d="M117.7 333.9L118.7 332.5L120.6 328.8L122.5 326.2L124.4 324.6L126.3 323.6L128.2 323L131.1 322.6L133 322.8L136.9 324L138.8 324.3L142.6 323.5L145.5 323.4L148.4 324.1L150.3 325L152.2 326.3L154.1 328.3L156 331.1L157.9 335L158.9 336.4L158.9 338.6L117.7 338.6Z"/>
<path fill="#ff1500" fill-rule="evenodd" d="M117.7 335L118.7 333.6L120.6 329.9L122.5 327.3L124.4 325.7L127.2 324.2L129.2 323.7L132.1 323.6L134 324L136.9 325L138.8 325.3L142.6 324.4L145.5 324.3L147.4 324.7L149.3 325.5L151.2 326.6L153.2 328.3L155.1 330.6L156 332.1L157.9 336L158.9 337.5L158.9 338.6L117.7 338.6Z"/>
<path fill="#ea0000" fill-rule="evenodd" d="M117.7 336.1L118.7 334.6L120.6 331L122.5 328.4L124.4 326.7L127.3 325.2L130.2 324.5L132.1 324.5L134 324.9L136.9 326L138.8 326.3L142.6 325.4L144.5 325.2L146.4 325.5L149.3 326.5L151.2 327.7L153.2 329.3L155.1 331.6L156 333.2L158.7 338.6L117.7 338.6Z"/>
<path fill="#bf0000" fill-rule="evenodd" d="M117.7 337.3L118.7 335.9L120.6 332.1L121.5 330.7L123.4 328.6L125.4 327.2L127.3 326.3L129.2 325.7L131.1 325.5L134 325.9L137.8 327.3L139.7 327.2L142.6 326.4L144.5 326.2L146.4 326.5L148.4 327.1L151.2 328.8L154.1 331.5L156 334.3L157.9 338.6L150.6 338.6L149.5 337.6L147.7 336.7L146.4 336.3L144.5 336.1L142.6 336.3L139.7 337.2L137.8 337.2L136.9 337L134 335.7L131.1 335.3L128.2 335.7L126.2 336.7L124.8 337.6L123.9 338.6L117.7 338.6Z"/>
<path fill="#950000" fill-rule="evenodd" d="M118.1 338.6L120.6 333.6L121.5 332L123.4 329.8L125.4 328.4L127.3 327.4L129.2 326.8L131.1 326.6L134 327L137.8 328.5L139.7 328.4L142.6 327.6L144.5 327.3L146.4 327.6L148.4 328.2L151.3 330L154.1 332.8L156 335.7L157.2 338.6L152.7 338.6L152 337.6L150.3 336.3L148.4 335.3L146.4 334.6L143.6 334.4L139.7 335.4L137.8 335.5L134 334L131.1 333.5L128.2 334.1L125.4 335.4L123.4 336.8L122.6 337.6L122.1 338.6Z"/>
</g></g>
<g fill="none" stroke="#000" stroke-opacity="0.88" stroke-width="0.6"><circle cx="138.3" cy="317.8" r="15.7"/><path d="M135.8 302.4 L138.3 300.1 L140.8 302.4"/><path d="M123 313.7 L121.1 314.7 L121.1 321.6 L123 322.5"/><path d="M153.6 313.7 L155.5 314.7 L155.5 321.6 L153.6 322.5"/></g>
<path d="M128.9 306.5h.01M138.3 306.5h.01M147.7 306.5h.01M126.6 310h.01M132.5 310h.01M138.3 310h.01M144.1 310h.01M150 310h.01M125.2 313.9h.01M129.6 313.9h.01M133.9 313.9h.01M138.3 313.9h.01M142.7 313.9h.01M147 313.9h.01M151.4 313.9h.01M124.8 317.8h.01M129.3 317.8h.01M133.8 317.8h.01M138.3 317.8h.01M142.8 317.8h.01M147.3 317.8h.01M151.8 317.8h.01M125.2 321.7h.01M129.6 321.7h.01M133.9 321.7h.01M138.3 321.7h.01M142.7 321.7h.01M147 321.7h.01M151.4 321.7h.01M126.6 325.6h.01M130.5 325.6h.01M134.4 325.6h.01M138.3 325.6h.01M142.2 325.6h.01M146.1 325.6h.01M150 325.6h.01M128.9 329.1h.01M133.6 329.1h.01M138.3 329.1h.01M143 329.1h.01M147.7 329.1h.01M132.4 331.9h.01M138.3 331.9h.01M144.2 331.9h.01" stroke="#000" stroke-opacity=".55" stroke-width=".7" stroke-linecap="round" fill="none"/>
<clipPath id="tc7"><circle cx="202.7" cy="318" r="19.5"/></clipPath>
<g filter="url(#tb)"><g clip-path="url(#tc7)">
<rect x="182.2" y="297.5" width="41" height="41" fill="#0078ff"/>
<path fill="#0095ff" fill-rule="evenodd" d="M182.2 297.5L223.2 297.5L223.2 338.5L182.2 338.5ZM216.5 299.9L215.6 300.5L215.1 301.3L215 302.3L215.2 303.2L215.6 303.7L216.5 304.4L217.5 304.4L218.4 303.8L218.8 303.2L219.1 302.3L219 301.3L218.4 300.3L217.5 299.9Z"/>
<path fill="#00bfff" fill-rule="evenodd" d="M182.2 297.5L215.8 297.5L214.6 298.2L213.6 299.4L213.4 300.4L213.5 302.3L214.2 304.2L215 305.1L216.5 305.8L217.5 305.8L219 305.1L219.9 304.2L220.4 303.2L220.8 301.3L220.8 300.4L220.3 299.1L219.4 298.1L218.2 297.5L223.2 297.5L223.2 338.5L182.2 338.5Z"/>
<path fill="#00eaff" fill-rule="evenodd" d="M182.2 298.6L206 299.6L208.9 299.9L209.9 300.2L210.8 300.9L211.8 302.4L212.5 304.2L213.7 305.7L214.6 306.4L216.5 307L218.4 306.9L220 306.1L221 305.1L222.2 302.9L223.2 301.8L223.2 338.5L182.2 338.5Z"/>
<path fill="#15ffea" fill-rule="evenodd" d="M182.2 302.8L207 303.8L208.9 304.3L212.2 307L214.6 308.3L216.5 308.7L218.4 308.6L219.4 308.4L221.3 307.6L223.2 306.4L223.2 338.5L182.2 338.5Z"/>
<path fill="#40ffbf" fill-rule="evenodd" d="M182.2 311.4L186 311.1L192.7 311L208.9 311.7L218.4 312.5L221.3 313.1L223.2 313.8L223.2 338.5L182.2 338.5Z"/>
<path fill="#6aff95" fill-rule="evenodd" d="M182.2 314.9L184.1 314.2L187 313.7L190.8 313.4L195.5 313.5L202.2 313.9L208.9 314L213.7 314.3L217.5 314.9L219.4 315.4L220.3 315.9L221.2 316.6L221.8 317.5L223.2 323.6L223.2 338.5L182.2 338.5Z"/>
<path fill="#95ff6a" fill-rule="evenodd" d="M183.6 317.5L184.3 316.6L186.2 315.6L188.9 315.1L193.6 314.9L197.5 315L203.2 315.4L207.9 315.4L211.8 315.6L215.6 316.1L218.4 317L219.4 317.6L220.3 318.5L220.8 319.4L222.2 324.1L223.2 326.2L223.2 338.5L182.2 338.5L182.2 323.3L183 319.4Z"/>
<path fill="#bfff40" fill-rule="evenodd" d="M184.5 319.4L185.1 318.4L186 317.6L187 317.1L189.8 316.5L193.6 316.2L197.5 316.2L203.2 316.8L207.9 316.6L210.8 316.7L214.6 317.3L217.5 318.3L219.1 319.4L219.8 320.4L220.8 322.3L222.2 326.2L223.2 328L223.2 338.5L182.2 338.5L182.2 325.9L183.2 323.7Z"/>
<path fill="#eaff15" fill-rule="evenodd" d="M182.2 327.6L183.2 325.8L184.5 322.3L185.5 320.4L186 319.7L187 318.9L188.9 318.1L191.7 317.5L195.5 317.3L203.2 318.1L209.9 317.8L212.7 318.2L214.6 318.6L217.5 319.9L218.4 320.6L219.4 321.8L220.3 323.4L222.2 327.8L223.2 329.5L223.2 338.5L182.2 338.5Z"/>
<path fill="#ffea00" fill-rule="evenodd" d="M182.2 329L183.2 327.3L185.1 323.1L186 321.5L187 320.5L187.9 319.9L189.8 319.1L192.7 318.5L195.5 318.4L198.4 318.6L202.2 319.2L208.9 318.8L212.7 319.3L215.6 320.2L217.5 321.3L219.3 323.2L220.3 325L222.2 329.1L223.2 330.8L223.2 338.5L182.2 338.5Z"/>
<path fill="#ffbf00" fill-rule="evenodd" d="M182.2 330.2L183.2 328.6L185.1 324.6L186 323.1L187.9 321.2L189.8 320.2L192.7 319.5L195.5 319.3L198.4 319.5L202.2 320.2L204.1 320.2L207.9 319.7L211.8 320L214.6 320.8L216.5 321.8L218.2 323.2L219.4 324.8L223.2 331.9L223.2 338.5L182.2 338.5Z"/>
<path fill="#ff9500" fill-rule="evenodd" d="M182.2 331.4L183.2 329.8L185.1 325.9L186.9 323.2L188.9 321.7L190.8 320.9L192.9 320.4L195.5 320.2L198.4 320.4L202.2 321.2L204.1 321.1L207.9 320.6L209.9 320.7L211.8 320.9L214.6 321.9L216.5 322.9L218.4 324.7L219.4 326L223.2 333L223.2 338.5L182.2 338.5Z"/>
<path fill="#ff6a00" fill-rule="evenodd" d="M182.2 332.5L183.2 331L185.1 327.2L187 324.5L188.9 322.9L190.8 321.9L192.9 321.3L195.5 321.1L198.4 321.3L202.2 322.2L204.1 322.2L207.9 321.6L210.8 321.7L213.2 322.3L215.6 323.4L217.5 324.9L219.4 327.2L223.2 334.1L223.2 338.5L182.2 338.5Z"/>
<path fill="#ff4000" fill-rule="evenodd" d="M182.2 333.6L183.2 332.1L185.1 328.4L187 325.8L188.9 324.1L190.8 323.1L192.7 322.5L195.5 322.1L197.9 322.3L201.3 323.2L203.2 323.4L207 322.7L209.9 322.6L212.7 323.2L214.6 324.1L216.5 325.3L218.4 327.2L220.3 329.9L222.2 333.8L223.2 335.2L223.2 338.5L182.2 338.5Z"/>
<path fill="#ff1500" fill-rule="evenodd" d="M182.2 334.7L185.1 329.6L187 327.1L188.9 325.4L191.7 323.9L193.6 323.4L196.5 323.2L198.4 323.5L201.3 324.4L203.2 324.6L207 323.8L209.9 323.7L212.7 324.4L214.6 325.3L216.5 326.5L218.4 328.4L220.3 331.1L223.2 336.4L223.2 338.5L182.2 338.5Z"/>
<path fill="#ea0000" fill-rule="evenodd" d="M182.2 335.9L185.1 330.8L187 328.2L188.9 326.5L191.7 325L193.6 324.4L196.5 324.2L198.4 324.5L201.3 325.4L203.2 325.7L207.9 324.7L209.9 324.7L211.8 325.1L213.7 325.8L215.6 327L217.5 328.5L219.4 330.7L220.3 332.2L223.2 337.5L223.2 338.5L182.2 338.5Z"/>
<path fill="#bf0000" fill-rule="evenodd" d="M182.2 337.1L183.2 335.6L185.1 331.8L186.4 329.9L187.9 328.3L189.8 326.9L191.7 325.9L194.6 325.2L196.5 325.1L198.4 325.4L202.2 326.6L204.1 326.5L207 325.8L208.9 325.6L210.8 325.8L213.7 326.8L216.5 328.7L218.4 330.6L220.3 333.3L222.8 338.5L214.9 338.5L213.8 337.5L211.8 336.6L209.9 336.2L207.9 336.2L206 336.5L204.1 337.2L202.2 337.3L201.3 337.1L197.5 335.7L196.5 335.5L194.4 335.6L191.7 336.6L190.1 337.5L189 338.5L182.2 338.5Z"/>
<path fill="#950000" fill-rule="evenodd" d="M182.5 338.5L185.9 331.8L187.9 329.4L189.7 328L191.4 327.1L193.6 326.3L195.5 326L197.5 326.2L202.2 327.6L204.1 327.5L207 326.7L208.9 326.5L211.8 327L213.7 327.8L216.5 329.8L218.4 331.7L220.3 334.7L221.9 338.5L216.9 338.5L215.6 337L213.7 335.9L211.8 335L209.9 334.6L207.9 334.6L204.1 335.6L202.2 335.7L198.4 334.4L195.5 334L193.6 334.3L190.8 335.4L187.9 337.5L187.2 338.5Z"/>
</g></g>
<g fill="none" stroke="#000" stroke-opacity="0.88" stroke-width="0.6"><circle cx="202.7" cy="317.8" r="15.6"/><path d="M200.2 302.4 L202.7 300.2 L205.2 302.4"/><path d="M187.5 313.7 L185.5 314.7 L185.5 321.5 L187.5 322.5"/><path d="M217.9 313.7 L219.9 314.7 L219.9 321.5 L217.9 322.5"/></g>
<path d="M193.4 306.6h.01M202.7 306.6h.01M212 306.6h.01M191.1 310h.01M196.9 310h.01M202.7 310h.01M208.5 310h.01M214.3 310h.01M189.7 313.9h.01M194 313.9h.01M198.4 313.9h.01M202.7 313.9h.01M207 313.9h.01M211.4 313.9h.01M215.7 313.9h.01M189.3 317.8h.01M193.8 317.8h.01M198.2 317.8h.01M202.7 317.8h.01M207.2 317.8h.01M211.6 317.8h.01M216.1 317.8h.01M189.7 321.7h.01M194 321.7h.01M198.4 321.7h.01M202.7 321.7h.01M207 321.7h.01M211.4 321.7h.01M215.7 321.7h.01M191.1 325.6h.01M195 325.6h.01M198.8 325.6h.01M202.7 325.6h.01M206.6 325.6h.01M210.4 325.6h.01M214.3 325.6h.01M193.4 329h.01M198 329h.01M202.7 329h.01M207.4 329h.01M212 329h.01M196.9 331.8h.01M202.7 331.8h.01M208.5 331.8h.01" stroke="#000" stroke-opacity=".55" stroke-width=".7" stroke-linecap="round" fill="none"/>
<clipPath id="tc8"><circle cx="73.7" cy="376.1" r="19.3"/></clipPath>
<g filter="url(#tb)"><g clip-path="url(#tc8)">
<rect x="53.4" y="355.8" width="40.6" height="40.6" fill="#0062ff"/>
<path fill="#006aff" fill-rule="evenodd" d="M53.4 356.9L94 358.5L94 396.4L53.4 396.4Z"/>
<path fill="#0095ff" fill-rule="evenodd" d="M53.4 361.4L94 363L94 396.4L53.4 396.4Z"/>
<path fill="#00bfff" fill-rule="evenodd" d="M53.4 363.5L94 365.1L94 396.4L53.4 396.4Z"/>
<path fill="#00eaff" fill-rule="evenodd" d="M53.4 365.8L69.6 366.2L87.4 367L94 367.4L94 396.4L53.4 396.4Z"/>
<path fill="#15ffea" fill-rule="evenodd" d="M53.4 369.4L58.1 369.2L63.8 369.2L82.7 369.9L89.3 370.5L91.7 370.9L94 371.6L94 396.4L53.4 396.4Z"/>
<path fill="#40ffbf" fill-rule="evenodd" d="M53.8 375.6L54.4 374.7L55.3 373.8L56.2 373.2L59.1 372.5L62.8 372.3L68.5 372.3L74.2 372.8L78.9 372.7L82.7 372.9L86.4 373.4L89.3 374.2L91.2 375.4L91.9 376.6L94 383.4L94 396.4L53.4 396.4L53.4 379.1Z"/>
<path fill="#6aff95" fill-rule="evenodd" d="M55.8 376.6L57.2 375.2L59.1 374.5L61.9 374L64.7 373.8L68.5 373.9L74.2 374.5L78.9 374.2L81.7 374.3L85.5 374.9L88.3 375.8L89.3 376.4L90.2 377.3L91 378.5L94 386L94 396.4L53.4 396.4L53.4 384L54.3 381.3L55.3 377.8Z"/>
<path fill="#95ff6a" fill-rule="evenodd" d="M53.4 385.7L54.3 383.6L55.8 379.4L56.9 377.5L58.1 376.4L60 375.6L62.8 375.1L66.6 374.9L69.5 375.1L74.2 375.7L77.9 375.4L80.8 375.4L85.5 376.1L88.3 377.3L89.3 378.1L90.2 379.2L91.2 380.9L94 387.5L94 396.4L53.4 396.4Z"/>
<path fill="#bfff40" fill-rule="evenodd" d="M53.4 387L54.3 385.2L56.2 380.5L57.2 378.8L58.1 377.8L60 376.8L62.8 376.1L66.6 375.8L69.5 376L73.2 376.7L79.8 376.2L81.7 376.4L84.6 376.9L86.4 377.5L88.3 378.6L89.9 380.3L91.2 382.5L93.1 387L94 388.7L94 396.4L53.4 396.4Z"/>
<path fill="#eaff15" fill-rule="evenodd" d="M53.4 388.1L54.3 386.4L56.2 382L57.2 380.3L58.1 379.2L59 378.5L61 377.5L63.8 376.8L66.6 376.6L69.5 376.9L73.2 377.7L75.1 377.6L78.9 377.1L82.7 377.3L85.5 378.1L87.4 379.1L88.9 380.3L90.2 382.1L94 389.8L94 396.4L53.4 396.4Z"/>
<path fill="#ffea00" fill-rule="evenodd" d="M53.4 389.1L57.2 381.6L59.1 379.5L61 378.4L63.8 377.6L66.6 377.4L69.5 377.7L73.2 378.6L75.1 378.5L78.9 377.9L82.7 378.1L85.5 379L87.4 380.1L88.7 381.3L90.2 383.3L94 390.8L94 396.4L53.4 396.4Z"/>
<path fill="#ffbf00" fill-rule="evenodd" d="M53.4 390.1L54.3 388.5L56.2 384.4L58.1 381.5L60 379.9L61.9 379L63.8 378.4L66.6 378.1L69.5 378.4L72.3 379.3L74.2 379.5L78.9 378.6L81.7 378.7L84.4 379.4L86.4 380.4L88.3 381.9L89.4 383.2L91.2 386L93.1 390.1L94 391.8L94 396.4L53.4 396.4Z"/>
<path fill="#ff9500" fill-rule="evenodd" d="M53.4 391.1L54.3 389.5L56.2 385.5L58.1 382.6L60 380.8L61.9 379.8L63.8 379.2L66.6 378.9L69.5 379.2L73.2 380.3L75.1 380.2L78.9 379.4L81.7 379.5L84.6 380.3L86.4 381.3L88.3 382.9L89.3 384L91.2 387L93.1 391.1L94 392.7L94 396.4L53.4 396.4Z"/>
<path fill="#ff6a00" fill-rule="evenodd" d="M53.4 392.1L54.3 390.6L56.2 386.5L58.1 383.7L60 381.8L61.9 380.7L64.7 379.9L67.6 379.7L69.5 380L72.3 381L74.2 381.3L77.9 380.3L80.8 380.2L82.7 380.5L85.5 381.7L87.4 383L89.3 385L91.2 388L93.1 392.1L94 393.7L94 396.4L53.4 396.4Z"/>
<path fill="#ff4000" fill-rule="evenodd" d="M53.4 393.1L54.3 391.6L56.2 387.7L58.1 384.8L60 382.9L62.8 381.3L65.7 380.7L67.6 380.6L69.5 381L73.2 382.3L74.2 382.3L77.9 381.2L80.8 381.1L82.7 381.4L84.7 382.2L86.4 383.3L88.3 385L90.2 387.5L93.1 393.2L94 394.7L94 396.4L53.4 396.4Z"/>
<path fill="#ff1500" fill-rule="evenodd" d="M53.4 394.2L54.3 392.7L56.2 388.8L58.1 386L60 384.1L62.8 382.4L65.7 381.6L67.6 381.6L69.5 382L73.2 383.4L74.2 383.5L77.9 382.3L80.8 382.1L82.7 382.5L84.6 383.3L86.4 384.5L88.3 386.2L90.2 388.6L91.2 390.2L93.8 395.5L94 396.4L53.4 396.4Z"/>
<path fill="#ea0000" fill-rule="evenodd" d="M53.4 395.4L57.2 388.4L59.2 386L61 384.6L62.8 383.5L65.7 382.7L67.6 382.6L69.5 383L73.2 384.6L74.2 384.6L75.1 384.4L77.9 383.3L79.8 383.1L81.7 383.3L84.6 384.4L87.4 386.4L89.3 388.4L91.2 391.4L93.4 396.4L53.4 396.4Z"/>
<path fill="#bf0000" fill-rule="evenodd" d="M53.8 396.4L56.2 391.2L57.2 389.6L59.1 387.3L61 385.7L62.8 384.6L64.7 383.9L66.6 383.6L68.5 383.8L69.5 384.1L73.2 385.7L74.2 385.7L75.1 385.5L77.9 384.4L79.8 384.1L81.7 384.3L83.6 385L86.4 386.7L89.3 389.6L91.2 392.6L92.8 396.4L86.4 396.4L85.5 395.5L84.1 394.5L82.1 393.6L80.8 393.3L78.9 393.3L77.9 393.5L75.1 394.8L73.2 395L72.3 394.7L69.5 393.3L67.6 392.8L66.6 392.7L63.5 393.6L61.8 394.5L60.6 395.5L59.8 396.4Z"/>
<path fill="#950000" fill-rule="evenodd" d="M54.8 396.4L55.3 394.7L56.2 392.7L57.2 391L59.1 388.6L61 386.9L62.8 385.8L64.7 385L66.6 384.8L69 385.1L72.3 386.6L73.2 386.8L75.1 386.7L77.9 385.6L79.8 385.2L81.7 385.5L83.3 386L86.4 387.9L88.3 389.8L90.2 392.4L91.2 394.1L92.1 396.4L88.2 396.4L87.4 395.2L85.5 393.7L83.6 392.6L81.7 391.8L79.8 391.6L78.9 391.7L77 392.3L75.1 393.1L74.2 393.4L73.2 393.3L69.5 391.6L68.5 391.3L66.6 391.1L64.7 391.4L61.9 392.7L59.1 395L58.1 396.4Z"/>
</g></g>
<g fill="none" stroke="#000" stroke-opacity="0.88" stroke-width="0.6"><circle cx="73.7" cy="375.9" r="15.4"/><path d="M71.2 360.7 L73.7 358.5 L76.2 360.7"/><path d="M58.7 371.9 L56.7 372.8 L56.7 379.6 L58.7 380.5"/><path d="M88.7 371.9 L90.7 372.8 L90.7 379.6 L88.7 380.5"/></g>
<path d="M64.5 364.8h.01M73.7 364.8h.01M82.9 364.8h.01M62.2 368.2h.01M68 368.2h.01M73.7 368.2h.01M79.4 368.2h.01M85.2 368.2h.01M60.8 372h.01M65.1 372h.01M69.4 372h.01M73.7 372h.01M78 372h.01M82.3 372h.01M86.6 372h.01M60.4 375.9h.01M64.8 375.9h.01M69.3 375.9h.01M73.7 375.9h.01M78.1 375.9h.01M82.6 375.9h.01M87 375.9h.01M60.8 379.8h.01M65.1 379.8h.01M69.4 379.8h.01M73.7 379.8h.01M78 379.8h.01M82.3 379.8h.01M86.6 379.8h.01M62.2 383.6h.01M66 383.6h.01M69.9 383.6h.01M73.7 383.6h.01M77.5 383.6h.01M81.4 383.6h.01M85.2 383.6h.01M64.5 387h.01M69.1 387h.01M73.7 387h.01M78.3 387h.01M82.9 387h.01M67.9 389.8h.01M73.7 389.8h.01M79.5 389.8h.01" stroke="#000" stroke-opacity=".55" stroke-width=".7" stroke-linecap="round" fill="none"/>
<clipPath id="tc9"><circle cx="138.3" cy="376.3" r="19.3"/></clipPath>
<g filter="url(#tb)"><g clip-path="url(#tc9)">
<rect x="118" y="356" width="40.6" height="40.6" fill="#0082ff"/>
<path fill="#0095ff" fill-rule="evenodd" d="M118 356L158.6 356L158.6 396.6L118 396.6ZM152.9 360.5L152 360.9L151.3 361.7L151 362.6L151.3 363.6L152 364.5L152.9 364.9L153.9 364.9L154.8 364.3L155.4 363.6L155.6 362.6L155.3 361.7L154.8 361.1L153.9 360.6Z"/>
<path fill="#00bfff" fill-rule="evenodd" d="M118 359.1L141.6 360.5L145.4 360.9L146.3 361.2L147.3 361.8L151 366L152 366.6L152.9 366.8L153.9 366.8L155 366.4L158.6 363.5L158.6 396.6L118 396.6Z"/>
<path fill="#00eaff" fill-rule="evenodd" d="M118 362.6L144.4 364.2L146.3 364.7L147.3 365.2L149.7 367.3L151 368.1L152.9 368.6L153.9 368.6L155.8 368.1L158.6 366.4L158.6 396.6L118 396.6Z"/>
<path fill="#15ffea" fill-rule="evenodd" d="M118 367.6L128.4 367.9L143.5 368.8L146.3 369.2L152 370.8L153.9 371L158.6 370.9L158.6 396.6L118 396.6Z"/>
<path fill="#40ffbf" fill-rule="evenodd" d="M118 373.6L119.9 372.7L121.8 372.2L125.6 371.9L129.3 371.9L138.8 372.7L143.5 372.6L146.3 372.8L152 373.7L154.8 374.7L155.8 375.4L156.8 376.8L158.6 382.6L158.6 396.6L118 396.6Z"/>
<path fill="#6aff95" fill-rule="evenodd" d="M119.3 375.8L120 374.9L120.8 374.4L122 373.9L124.6 373.5L129.3 373.3L133.1 373.5L138.8 374.2L143.5 374L147.3 374.3L151 375L153.9 376L154.9 376.8L155.8 377.9L158.6 385.3L158.6 396.6L118 396.6L118 381.1L118.7 377.7Z"/>
<path fill="#95ff6a" fill-rule="evenodd" d="M120 377.7L120.8 376.4L121.8 375.7L122.7 375.3L124.6 374.8L128.4 374.5L133.1 374.6L138.8 375.5L143.5 375.1L146.3 375.3L150.1 375.9L152.5 376.8L154 377.7L155.4 379.6L157.7 385L158.6 386.8L158.6 396.6L118 396.6L118 383.7L118.9 381.5Z"/>
<path fill="#bfff40" fill-rule="evenodd" d="M118 385.4L118.9 383.5L120.9 378.7L121.8 377.5L122.7 376.8L124.6 376.1L127.4 375.7L131.2 375.5L134.1 375.8L137.8 376.6L144.4 376.2L147.3 376.4L149.2 376.8L151 377.4L152.9 378.4L154.2 379.6L155.8 382.1L157.7 386.5L158.6 388.2L158.6 396.6L118 396.6Z"/>
<path fill="#eaff15" fill-rule="evenodd" d="M118 386.8L118.9 385.1L120.8 380.7L121.8 379.3L122.7 378.4L123.7 377.8L125.6 377.1L128.4 376.6L131.2 376.5L134.1 376.8L137.8 377.8L139.7 377.8L143.5 377.1L146.3 377.3L148.2 377.6L151 378.6L152.9 379.8L154.5 381.5L155.8 383.6L158.6 389.4L158.6 396.6L118 396.6Z"/>
<path fill="#ffea00" fill-rule="evenodd" d="M118 388L120.8 382.2L121.8 380.7L123.7 379L125.6 378.1L128.4 377.5L131.2 377.3L134.1 377.7L137.8 378.8L139.7 378.8L143.5 378L145.4 378L147.3 378.3L150.1 379.2L152 380.2L153.5 381.5L154.8 383.2L158.6 390.5L158.6 396.6L118 396.6Z"/>
<path fill="#ffbf00" fill-rule="evenodd" d="M118 389.1L120.8 383.5L121.8 381.9L123.7 380L125.6 379L128.4 378.3L131.2 378.1L134.1 378.5L136.9 379.5L138.8 379.8L143.5 378.8L146.3 378.9L149.2 379.7L151 380.6L152.9 382L154.8 384.3L158.6 391.6L158.6 396.6L118 396.6Z"/>
<path fill="#ff9500" fill-rule="evenodd" d="M118 390.1L118.9 388.5L120.8 384.6L122.3 382.4L123.7 381L124.6 380.4L126.3 379.6L129.3 378.9L132.2 378.9L134.1 379.2L137.8 380.6L138.8 380.6L143.5 379.5L146.3 379.6L149.2 380.4L151 381.4L152.9 382.9L154.1 384.3L155.8 386.9L157.7 390.9L158.6 392.6L158.6 396.6L118 396.6Z"/>
<path fill="#ff6a00" fill-rule="evenodd" d="M118 391L118.9 389.6L120.8 385.6L122.7 382.9L124.6 381.3L126.5 380.4L129.3 379.7L132.2 379.6L134.1 380L136.9 381.2L138.8 381.5L143.5 380.3L146.3 380.4L148.2 380.9L150.1 381.7L152 383L153.9 385L155.8 387.9L157.7 392L158.6 393.5L158.6 396.6L118 396.6Z"/>
<path fill="#ff4000" fill-rule="evenodd" d="M118 392L118.9 390.6L120.8 386.7L122.7 384L124.6 382.3L126.5 381.3L129.3 380.5L132.2 380.5L134.1 380.9L137.8 382.4L138.8 382.5L142.5 381.3L145.4 381.1L147.3 381.5L150.1 382.7L152 384L153.9 386L155.8 389L157.7 393L158.6 394.5L158.6 396.6L118 396.6Z"/>
<path fill="#ff1500" fill-rule="evenodd" d="M118 393.1L118.9 391.6L120.8 387.9L122.7 385.2L124.6 383.5L127.4 382L130.3 381.4L132.2 381.4L134.1 381.8L137.8 383.5L138.8 383.6L142.5 382.3L143.5 382.1L145.4 382.1L147.3 382.4L149.2 383.2L151 384.4L152.9 386L154.8 388.4L155.8 390L157.7 394L158.6 395.6L158.6 396.6L118 396.6Z"/>
<path fill="#ea0000" fill-rule="evenodd" d="M118 394.2L118.9 392.7L120.8 389L122.7 386.3L124.6 384.6L127.4 383L130.3 382.3L132.2 382.3L134.1 382.8L137.8 384.6L138.8 384.7L142.5 383.3L143.5 383L145.4 383L147.3 383.4L149.2 384.2L151 385.4L152.9 387.1L154.8 389.5L155.8 391.1L158.3 396.6L118 396.6Z"/>
<path fill="#bf0000" fill-rule="evenodd" d="M118 395.5L118.9 394L120.8 390.1L121.8 388.6L123.7 386.4L125.6 385L127.4 384L129.3 383.4L131.2 383.2L132.8 383.4L134.1 383.8L137.8 385.7L138.8 385.7L139.7 385.5L142.5 384.2L144.4 383.9L146.3 384.1L149.2 385.3L152 387.3L153.9 389.3L155.8 392.3L157.6 396.6L151.3 396.6L150.4 395.7L149.1 394.7L147.3 393.7L145.4 393.3L143.5 393.3L142.1 393.8L139.7 395L138.8 395.2L137.8 395.2L135.9 394.3L133.5 392.8L131.2 392.4L128.8 392.8L126.8 393.8L124.6 395.4L123.5 396.6L118 396.6Z"/>
<path fill="#950000" fill-rule="evenodd" d="M118.5 396.6L120.8 391.6L121.8 390L123.7 387.7L125.4 386.2L127 385.3L129.3 384.4L131.2 384.2L133.1 384.5L137.8 386.8L138.8 386.8L139.7 386.6L142.5 385.3L144.4 385L146.3 385.2L148.2 385.9L150.1 387L151.5 388.1L153.9 390.6L155.8 393.7L156.9 396.6L153.1 396.6L152 395.1L150.1 393.6L148.2 392.5L146.3 391.8L144.4 391.5L143.5 391.6L141.6 392.3L139.7 393.3L138.8 393.5L137.8 393.5L136.9 393.1L134.1 391.4L132.2 390.8L131.2 390.7L128.4 391.3L125.6 392.8L123.2 394.7L122.4 395.7L121.9 396.6Z"/>
</g></g>
<g fill="none" stroke="#000" stroke-opacity="0.88" stroke-width="0.6"><circle cx="138.3" cy="376.1" r="15.4"/><path d="M135.8 360.9 L138.3 358.7 L140.8 360.9"/><path d="M123.3 372.1 L121.3 373 L121.3 379.8 L123.3 380.7"/><path d="M153.3 372.1 L155.3 373 L155.3 379.8 L153.3 380.7"/></g>
<path d="M129.1 365h.01M138.3 365h.01M147.5 365h.01M126.8 368.4h.01M132.6 368.4h.01M138.3 368.4h.01M144 368.4h.01M149.8 368.4h.01M125.4 372.2h.01M129.7 372.2h.01M134 372.2h.01M138.3 372.2h.01M142.6 372.2h.01M146.9 372.2h.01M151.2 372.2h.01M125 376.1h.01M129.4 376.1h.01M133.9 376.1h.01M138.3 376.1h.01M142.7 376.1h.01M147.2 376.1h.01M151.6 376.1h.01M125.4 380h.01M129.7 380h.01M134 380h.01M138.3 380h.01M142.6 380h.01M146.9 380h.01M151.2 380h.01M126.8 383.8h.01M130.6 383.8h.01M134.5 383.8h.01M138.3 383.8h.01M142.1 383.8h.01M146 383.8h.01M149.8 383.8h.01M129.1 387.2h.01M133.7 387.2h.01M138.3 387.2h.01M142.9 387.2h.01M147.5 387.2h.01M132.5 390h.01M138.3 390h.01M144.1 390h.01" stroke="#000" stroke-opacity=".55" stroke-width=".7" stroke-linecap="round" fill="none"/>
<clipPath id="tc10"><circle cx="202.7" cy="376" r="19.7"/></clipPath>
<g filter="url(#tb)"><g clip-path="url(#tc10)">
<rect x="182" y="355.3" width="41.4" height="41.4" fill="#62ff9d"/>
<path fill="#6aff95" fill-rule="evenodd" d="M182 356.3L184.5 355.3L187.8 355.4L190.8 357.2L195.5 361.2L197.2 362L199.3 362.4L208.6 363L211.5 363L212.8 362.7L216.7 360.6L218.6 360L220.5 359.9L223.4 360.6L223.4 396.7L182 396.7Z"/>
<path fill="#95ff6a" fill-rule="evenodd" d="M182 363.1L184.9 361.4L185.9 361.2L186.8 361.3L187.8 361.7L188.7 362.4L192.6 365.9L194.7 366.9L197.4 367.3L205.3 367.8L212.8 368.1L214.7 367.8L217.6 366.3L219.5 365.6L220.5 365.7L221.5 366L223.4 367.1L223.4 396.7L182 396.7Z"/>
<path fill="#bfff40" fill-rule="evenodd" d="M182 366.1L184.9 364.5L185.9 364.3L186.8 364.4L187.8 364.9L191.7 367.8L194.8 368.8L202.2 369.4L212.8 370L215.7 369.7L219.5 368.6L220.5 368.8L221.5 369.2L223.4 370.4L223.4 396.7L182 396.7Z"/>
<path fill="#eaff15" fill-rule="evenodd" d="M182 368.2L184.9 366.9L185.9 366.7L187.8 367.2L190.7 368.9L192.6 369.8L195.5 370.4L202.2 371L212.8 371.4L214.7 371.4L218.6 370.8L219.5 370.8L220.5 371L221.5 371.6L223.4 373.3L223.4 396.7L182 396.7Z"/>
<path fill="#ffea00" fill-rule="evenodd" d="M182 370.2L184.7 368.8L185.9 368.6L187.8 369L191.6 371L194.5 371.7L203.2 372.5L214.7 373L218.6 372.9L219.5 373.1L220.5 373.6L221.3 374.6L221.8 375.5L223.4 381L223.4 396.7L182 396.7Z"/>
<path fill="#ffbf00" fill-rule="evenodd" d="M182 373.3L183.9 371.3L184.9 370.7L185.9 370.5L186.8 370.5L190.7 372.2L193.6 372.9L202.2 373.7L211.8 374.1L216.7 374.6L218.6 375L219.5 375.5L220.5 376.6L221.4 378.4L222.4 381.4L223.4 383.5L223.4 396.7L182 396.7Z"/>
<path fill="#ff9500" fill-rule="evenodd" d="M183.7 374.6L184.9 373.2L185.9 372.8L186.8 372.7L192.6 373.9L202.2 375L209 375L212.8 375.3L216.7 376L218.6 376.8L219.5 377.6L220.5 379L222.4 383.5L223.4 385.2L223.4 396.7L182 396.7L182 381.1L183.3 375.5Z"/>
<path fill="#ff6a00" fill-rule="evenodd" d="M184.7 376.5L185.9 375.1L186.8 374.7L187.8 374.6L197.4 375.5L202.2 376.2L208 376.1L211.8 376.4L215.7 377.2L217.6 378L218.6 378.6L219.5 379.6L220.5 381.1L222.4 385.2L223.4 386.8L223.4 396.7L182 396.7L182 383.6L183 381.7Z"/>
<path fill="#ff4000" fill-rule="evenodd" d="M182 385.5L183 383.9L184.9 379.5L185.9 377.9L186.8 377.1L187.8 376.7L189.7 376.5L195.5 376.7L203.2 377.7L207 377.4L209.9 377.5L212.8 377.9L214.7 378.4L217.6 379.7L219.3 381.3L220.5 383L222.4 386.8L223.4 388.3L223.4 396.7L182 396.7Z"/>
<path fill="#ff1500" fill-rule="evenodd" d="M182 387.1L184.9 381.9L185.9 380.5L186.8 379.5L188.7 378.5L191.6 378.1L195.5 378L198.4 378.3L202.2 379.1L209 378.7L212.8 379.3L215.7 380.2L217.6 381.4L219.5 383.3L220.5 384.7L223.4 389.7L223.4 396.7L182 396.7Z"/>
<path fill="#ea0000" fill-rule="evenodd" d="M182 388.6L184.9 383.7L185.9 382.4L187.8 380.7L189.7 379.8L192.6 379.3L195.5 379.2L198.4 379.5L202.2 380.4L204.1 380.4L208 379.9L211.8 380.3L213.8 380.8L216.7 382.2L218.6 383.7L219.8 385.1L223.4 391.1L223.4 396.7L182 396.7Z"/>
<path fill="#bf0000" fill-rule="evenodd" d="M182 389.9L184.9 385L185.9 383.8L187.8 382L190.7 380.8L192.6 380.4L195.5 380.2L198.4 380.5L202.2 381.5L204.1 381.5L208 381L210.9 381.1L213.8 381.9L215.7 382.7L217.6 384L219.5 386L223.4 392.4L223.4 396.7L182 396.7Z"/>
<path fill="#950000" fill-rule="evenodd" d="M182 391.3L183.1 390L184.9 386.5L186.7 384.2L188.7 382.7L190.7 381.9L193.5 381.3L195.5 381.2L197.4 381.4L202.2 382.6L204.1 382.6L208 382L210.9 382.2L212.8 382.6L214.7 383.4L216.7 384.5L218.6 386.2L220.5 388.8L222.4 392.6L223.4 393.8L223.4 396.7L216.7 396.7L215.7 395.7L213.8 394.7L211.8 394L209.9 393.6L208 393.5L204.1 394.3L202.2 394.3L197.4 392.9L195.5 392.7L193.5 392.8L190.3 393.8L187.8 395.3L186.5 396.7L182 396.7Z"/>
</g></g>
<g fill="none" stroke="#000" stroke-opacity="0.88" stroke-width="0.6"><circle cx="202.7" cy="375.8" r="15.8"/><path d="M200.2 360.3 L202.7 358 L205.2 360.3"/><path d="M187.3 371.7 L185.4 372.7 L185.4 379.6 L187.3 380.5"/><path d="M218.1 371.7 L220 372.7 L220 379.6 L218.1 380.5"/></g>
<path d="M193.3 364.5h.01M202.7 364.5h.01M212.1 364.5h.01M191 367.9h.01M196.8 367.9h.01M202.7 367.9h.01M208.6 367.9h.01M214.4 367.9h.01M189.6 371.9h.01M194 371.9h.01M198.3 371.9h.01M202.7 371.9h.01M207.1 371.9h.01M211.4 371.9h.01M215.8 371.9h.01M189.1 375.8h.01M193.7 375.8h.01M198.2 375.8h.01M202.7 375.8h.01M207.2 375.8h.01M211.7 375.8h.01M216.3 375.8h.01M189.6 379.7h.01M194 379.7h.01M198.3 379.7h.01M202.7 379.7h.01M207.1 379.7h.01M211.4 379.7h.01M215.8 379.7h.01M191 383.7h.01M194.9 383.7h.01M198.8 383.7h.01M202.7 383.7h.01M206.6 383.7h.01M210.5 383.7h.01M214.4 383.7h.01M193.3 387.2h.01M198 387.2h.01M202.7 387.2h.01M207.4 387.2h.01M212.1 387.2h.01M196.8 390h.01M202.7 390h.01M208.6 390h.01" stroke="#000" stroke-opacity=".55" stroke-width=".7" stroke-linecap="round" fill="none"/>
<clipPath id="tc11"><circle cx="312.4" cy="472.8" r="23"/></clipPath>
<g filter="url(#tb)"><g clip-path="url(#tc11)">
<rect x="288.4" y="448.8" width="48" height="48" fill="#0068ff"/>
<path fill="#006aff" fill-rule="evenodd" d="M288.4 448.8L336.4 448.8L336.4 496.8L288.4 496.8ZM311.8 448.9L311.2 449.9L311.8 450.8L313 450.8L313.6 449.9L313 448.9Z"/>
<path fill="#0095ff" fill-rule="evenodd" d="M288.4 448.8L305.9 448.8L306 449.9L306.6 451L307.9 452.1L309.6 452.9L311.8 453.3L314.1 453.2L316.9 452.1L318.2 451L318.8 449.9L318.9 448.8L336.4 448.8L336.4 496.8L288.4 496.8Z"/>
<path fill="#00bfff" fill-rule="evenodd" d="M288.4 450.6L290.6 450.3L292.9 450.5L298.3 452.1L302.9 452.8L309.1 454.4L311.8 454.7L315.7 454.4L321.9 452.8L324.1 452.5L329.7 452.4L336.4 452.7L336.4 496.8L288.4 496.8Z"/>
<path fill="#00eaff" fill-rule="evenodd" d="M288.4 453.6L290.6 453.2L291.7 453.2L298.4 454.9L304 455.3L310.7 456.1L314.1 456.1L320.8 455.3L325.2 455.2L330.8 455.4L336.4 456.1L336.4 496.8L288.4 496.8Z"/>
<path fill="#15ffea" fill-rule="evenodd" d="M288.4 455.6L290.6 455L292.9 455.2L295.1 456L299.6 458.7L300.7 459L311.8 459.3L320.8 459.1L324.1 459.2L329.7 459.9L331.9 460.6L333.1 461.2L334.1 462.2L334.7 463.3L336.4 467.7L336.4 496.8L288.4 496.8Z"/>
<path fill="#40ffbf" fill-rule="evenodd" d="M288.4 457.5L290.6 456.7L291.7 456.7L292.9 457L294 457.7L295.5 460L296.9 463.3L297.3 463.8L298.4 464.4L300.1 464.4L306.3 463.7L315.2 463.4L319.7 462.9L321.9 462.9L324.1 463.3L326.4 464L328.6 465.2L330.8 466.8L333.8 470L336.4 474L336.4 496.8L288.4 496.8Z"/>
<path fill="#6aff95" fill-rule="evenodd" d="M289.5 460L290.6 459.1L291.7 459.1L292.9 460L293.9 462.2L294.8 465.5L296.2 466.2L298.4 466.1L306.3 465.2L321.9 464.4L324.1 464.8L326.4 465.7L328.6 467L330.8 468.6L333.1 471L336.4 475.9L336.4 496.8L288.4 496.8L288.4 475.3L289.5 472.9L290.1 470L289.9 468.9L288.4 465.3L288.4 461.7Z"/>
<path fill="#95ff6a" fill-rule="evenodd" d="M336.4 477.1L336.4 496.8L288.4 496.8L288.4 476.8L289.5 475.1L291.7 470.4L292.9 468.9L294 468.2L301.8 466.8L306.3 466.3L315.2 465.9L319.7 465.5L321.9 465.5L323 465.7L326.4 467.1L328.6 468.4L330.8 470L333.1 472.3Z"/>
<path fill="#bfff40" fill-rule="evenodd" d="M336.4 478.2L336.4 496.8L288.4 496.8L288.4 478L289.5 476.6L291.7 472.4L292.9 470.9L294 470L295.1 469.4L300.7 468.1L305.1 467.5L319.7 466.6L321.9 466.7L324.1 467.4L328.6 469.6L330.8 471.2L333.1 473.5L335.3 476.9Z"/>
<path fill="#eaff15" fill-rule="evenodd" d="M288.4 479.2L289.5 477.8L291.7 474L292.9 472.5L294 471.5L295.1 470.8L297.3 470L302.9 468.8L309.6 468.2L320.8 467.9L321.9 468.1L324.1 468.8L328.6 470.8L330.8 472.4L333.1 474.7L335.3 478L336.4 479.3L336.4 496.8L288.4 496.8Z"/>
<path fill="#ffea00" fill-rule="evenodd" d="M288.4 480.4L289.5 479.1L291.7 475.4L292.9 474L294 472.9L295.1 472.2L297.8 471.1L302.9 470L310.7 469.3L319.7 469.3L321.9 469.6L324.1 470.2L328.6 472.1L330.8 473.6L333.1 475.9L335.3 479.2L336.4 480.5L336.4 496.8L288.4 496.8Z"/>
<path fill="#ffbf00" fill-rule="evenodd" d="M288.4 481.7L289.5 480.4L291.7 476.9L294 474.4L296.2 473.1L299.6 472L305.1 471L313 470.5L319.7 470.8L323 471.4L325.2 472L328.6 473.4L330.8 474.9L333.1 477.2L335.3 480.5L336.4 481.7L336.4 496.8L288.4 496.8Z"/>
<path fill="#ff9500" fill-rule="evenodd" d="M288.4 483.1L289.5 481.8L291.7 478.4L294 476L296.2 474.6L299.6 473.4L302.9 472.7L306 472.2L313 471.9L319.7 472.3L325.2 473.4L328.6 474.8L330.8 476.3L333.1 478.6L335.3 481.9L336.4 483.1L336.4 496.8L288.4 496.8Z"/>
<path fill="#ff6a00" fill-rule="evenodd" d="M288.4 484.6L289.5 483.3L291.7 480L294 477.6L296.2 476.2L299.6 474.9L305.1 473.8L311.8 473.4L318.5 473.7L324.1 474.6L327.5 475.8L329.7 477L330.8 477.8L333.1 480.1L335.3 483.3L336.4 484.6L336.4 496.8L288.4 496.8Z"/>
<path fill="#ff4000" fill-rule="evenodd" d="M288.4 486.2L289.5 484.9L291.7 481.6L294 479.3L296.2 477.8L299.6 476.5L304 475.6L310.7 475L317.4 475.2L323 476L325.2 476.6L327.5 477.4L329.7 478.6L330.8 479.4L333.1 481.7L335.3 484.9L336.4 486.2L336.4 496.8L288.4 496.8Z"/>
<path fill="#ff1500" fill-rule="evenodd" d="M288.4 487.9L289.5 486.6L291.7 483.4L294 481.1L296.2 479.6L299.6 478.2L304 477.3L310.7 476.7L316.3 476.8L321.9 477.5L325.2 478.3L328.6 479.6L330.8 481.1L333.1 483.4L335.3 486.6L336.4 487.9L336.4 496.8L288.4 496.8Z"/>
<path fill="#ea0000" fill-rule="evenodd" d="M288.4 489.7L289.5 488.5L291.7 485.2L294 482.9L296.2 481.4L299.6 480.1L304 479.1L309.6 478.5L315.2 478.5L319.9 478.9L324.1 479.8L327.5 480.9L329.7 482.1L331.9 484L336.4 489.7L336.4 496.8L288.4 496.8Z"/>
<path fill="#bf0000" fill-rule="evenodd" d="M288.4 491.8L292.9 486.1L295.1 484.2L298.4 482.5L302.9 481.4L307.4 480.8L313 480.6L318.5 480.9L321.9 481.4L325.6 482.3L328.6 483.6L330.8 485.1L333.1 487.3L335.3 490.6L336.4 491.8L336.4 496.8L327.3 496.8L325.3 495.7L321.9 494.8L317.4 494.2L313 494L307.4 494.2L302.9 494.8L299.5 495.7L297.5 496.8L288.4 496.8Z"/>
<path fill="#950000" fill-rule="evenodd" d="M288.4 494.3L289.5 493.1L291.7 489.7L292.9 488.5L295.1 486.6L297.3 485.3L300.7 484.2L305.1 483.3L310.7 482.9L315.2 482.9L320.1 483.4L324.1 484.2L327.5 485.3L329.7 486.6L331.9 488.5L333.1 489.7L335.3 493.1L336.4 494.3L336.4 496.8L331 496.8L330.1 495.7L328.6 494.7L325.2 493.4L321.9 492.5L315.2 491.8L308.5 491.9L301.8 492.8L297.3 494.1L295.1 495.4L293.8 496.8L288.4 496.8Z"/>
</g></g>
<g fill="none" stroke="#000" stroke-opacity="0.88" stroke-width="0.6"><circle cx="312.4" cy="472.6" r="18.4"/><path d="M309.5 454.4 L312.4 451.8 L315.3 454.4"/><path d="M294.4 467.8 L292.2 468.9 L292.2 477 L294.4 478.1"/><path d="M330.4 467.8 L332.6 468.9 L332.6 477 L330.4 478.1"/></g>
<path d="M301.4 459.3h.01M312.4 459.3h.01M323.4 459.3h.01M298.7 463.4h.01M305.5 463.4h.01M312.4 463.4h.01M319.3 463.4h.01M326.1 463.4h.01M297.1 468h.01M302.2 468h.01M307.3 468h.01M312.4 468h.01M317.5 468h.01M322.6 468h.01M327.7 468h.01M296.6 472.6h.01M301.9 472.6h.01M307.1 472.6h.01M312.4 472.6h.01M317.7 472.6h.01M322.9 472.6h.01M328.2 472.6h.01M297.1 477.2h.01M302.2 477.2h.01M307.3 477.2h.01M312.4 477.2h.01M317.5 477.2h.01M322.6 477.2h.01M327.7 477.2h.01M298.7 481.8h.01M303.3 481.8h.01M307.8 481.8h.01M312.4 481.8h.01M317 481.8h.01M321.5 481.8h.01M326.1 481.8h.01M301.4 485.8h.01M306.9 485.8h.01M312.4 485.8h.01M317.9 485.8h.01M323.4 485.8h.01M305.5 489.1h.01M312.4 489.1h.01M319.3 489.1h.01" stroke="#000" stroke-opacity=".55" stroke-width=".7" stroke-linecap="round" fill="none"/>
<clipPath id="tc12"><circle cx="377.2" cy="472.8" r="22.8"/></clipPath>
<g filter="url(#tb)"><g clip-path="url(#tc12)">
<rect x="353.4" y="449" width="47.6" height="47.6" fill="#0050ff"/>
<path fill="#006aff" fill-rule="evenodd" d="M353.4 449L401 449L401 496.6L353.4 496.6ZM395.5 458L394.4 459L394.4 460.1L395.5 461.3L396.6 461.3L397.3 460.1L397.1 459L396.6 458.2Z"/>
<path fill="#0095ff" fill-rule="evenodd" d="M353.4 449L401 449L401 496.6L353.4 496.6ZM395.5 456.7L394.4 457.2L393.8 457.9L393.3 459L393.3 460.1L393.9 461.2L394.4 461.7L395.5 462.4L396.6 462.5L397.7 461.9L398.2 461.2L398.4 460.1L398.3 459L397.7 457.6L396.6 456.8Z"/>
<path fill="#00bfff" fill-rule="evenodd" d="M353.4 449L401 449L401 496.6L353.4 496.6ZM395.5 455.5L394.4 455.9L393.3 456.8L392.7 457.9L392.4 459L392.4 460.1L392.9 461.2L394.4 462.7L395.5 463.2L396.6 463.4L397.7 463.1L398.7 462.3L399.3 461.2L399.4 460.1L399.3 459L398.8 457.5L397.7 456.1L396.6 455.6Z"/>
<path fill="#00eaff" fill-rule="evenodd" d="M353.4 449L401 449L401 496.6L353.4 496.6ZM394.4 454.4L393.3 455.1L392.7 455.6L391.9 456.7L391.5 457.9L391.3 459L391.5 460.1L392 461.2L393.3 462.7L394.4 463.5L395.5 464L396.6 464.2L397.7 464.2L398.8 463.8L399.3 463.4L400.1 462.3L400.5 461.2L400.6 459L400.3 457.9L398.9 455.6L397.7 454.6L396.6 454.2L395.5 454.1Z"/>
<path fill="#15ffea" fill-rule="evenodd" d="M353.4 449L401 449L401 454.9L398.8 452.7L397.7 452.1L396.6 451.8L395.5 451.7L394.4 451.9L393.3 452.5L392.1 453.4L391.2 454.5L390.2 456.7L390 459L390.3 460.1L391.8 462.3L392.9 463.4L394.4 464.4L396.6 465.1L398.8 465.3L399.9 465.1L401 464.4L401 496.6L353.4 496.6Z"/>
<path fill="#40ffbf" fill-rule="evenodd" d="M353.4 455.6L355.6 454.9L356.7 454.9L357.8 455.3L359.7 456.7L362.2 460.1L363.4 460.6L364.5 460.7L382.2 459.4L384.4 459.3L386.6 459.6L388.8 460.6L391.7 463.4L393.3 464.6L395.5 465.7L398.3 466.7L399.7 467.8L401 469.6L401 496.6L353.4 496.6Z"/>
<path fill="#6aff95" fill-rule="evenodd" d="M353.4 460.9L354.5 459.9L355.6 459.3L356.7 459.3L357.8 460.1L359.5 462.3L360 462.8L361.1 463.3L362.3 463.5L370 462.6L381.1 461.6L384.4 461.5L386.6 461.7L388.8 462.4L393.3 465.5L397.6 467.8L398.8 469.2L401 473.2L401 496.6L353.4 496.6L353.4 474L353.7 472.2L353.4 469.9Z"/>
<path fill="#95ff6a" fill-rule="evenodd" d="M401 475.1L401 496.6L353.4 496.6L353.4 476.8L354.5 474.5L355.1 472.2L355.4 470L355.6 465.3L356.2 464.5L356.7 464.2L360 465.4L362.3 465.6L368.9 464.5L382.2 462.9L384.4 462.8L386.6 463.1L388.8 463.9L396.6 468.5L398 470Z"/>
<path fill="#bfff40" fill-rule="evenodd" d="M401 476.8L401 496.6L353.4 496.6L353.4 478.6L354.5 476.7L357 470L357.8 468.6L358.9 468L362.3 467.5L367.8 466.2L376.6 465.1L382.2 464.1L384.4 464.1L386.6 464.4L389.9 465.8L394.4 468.3L396.6 469.9L397.7 471.2Z"/>
<path fill="#eaff15" fill-rule="evenodd" d="M401 478.3L401 496.6L353.4 496.6L353.4 480.2L354.5 478.4L356.7 473.5L357.8 471.6L358.9 470.4L360 469.9L364.5 468.5L368.9 467.5L376.6 466.5L382.2 465.4L384.4 465.3L385.5 465.4L388.8 466.6L393.3 468.9L395.5 470.4L397.7 472.9L399.9 476.7Z"/>
<path fill="#ffea00" fill-rule="evenodd" d="M401 479.8L401 496.6L353.4 496.6L353.4 481.6L354.5 480L356.7 475.6L357.8 473.7L358.9 472.5L360 471.7L362.3 470.7L365.6 469.6L370 468.7L377.8 467.7L382.2 466.8L384.4 466.7L385.5 466.9L392.1 469.7L394.4 471L395.5 471.8L397.7 474.4L399.9 478.2Z"/>
<path fill="#ffbf00" fill-rule="evenodd" d="M401 481.2L401 496.6L353.4 496.6L353.4 483.1L354.5 481.5L356.7 477.3L358.9 474.3L361.1 472.8L364.5 471.5L370 470.2L382.2 468.6L384.4 468.6L385.5 468.9L391 470.7L394.4 472.5L396.6 474.5L397.7 475.9L399.9 479.7Z"/>
<path fill="#ff9500" fill-rule="evenodd" d="M353.4 484.5L354.5 483L356.7 478.9L358.9 476.1L361.1 474.4L363.4 473.4L366.7 472.3L370 471.6L378.9 470.7L382.2 470.6L384.4 470.7L388.8 471.6L392.1 472.7L394.4 474L395.5 474.9L397.7 477.4L399.9 481.2L401 482.7L401 496.6L353.4 496.6Z"/>
<path fill="#ff6a00" fill-rule="evenodd" d="M353.4 486L354.5 484.5L356.7 480.5L358.9 477.7L361.1 476L364.5 474.5L370 473.1L376.6 472.4L383.3 472.3L388.8 473.1L392.1 474.2L394.4 475.5L395.5 476.4L397.7 478.9L399.9 482.7L401 484.2L401 496.6L353.4 496.6Z"/>
<path fill="#ff4000" fill-rule="evenodd" d="M353.4 487.5L354.5 486L356.7 482.1L358.9 479.3L361.1 477.6L364.5 476L368.9 474.8L375.5 474L382.2 473.9L387.7 474.5L389.9 475L392.1 475.8L394.4 477L395.5 477.9L397.7 480.5L399.9 484.2L401 485.7L401 496.6L353.4 496.6Z"/>
<path fill="#ff1500" fill-rule="evenodd" d="M353.4 489.1L354.5 487.6L356.7 483.7L358.9 480.9L361.1 479.2L363.9 477.8L368.9 476.4L374.4 475.6L381.1 475.4L386.6 475.8L389.9 476.5L393.3 477.9L395.5 479.5L397.7 482.1L399.9 485.8L401 487.3L401 496.6L353.4 496.6Z"/>
<path fill="#ea0000" fill-rule="evenodd" d="M353.4 490.9L354.5 489.4L356.7 485.4L358.9 482.7L361.1 480.9L363.4 479.7L365.6 478.9L367.8 478.3L373.3 477.4L380 477L385.5 477.4L388.8 477.9L392.1 479L394.4 480.3L396.6 482.4L397.7 483.8L399.9 487.5L401 489L401 496.6L353.4 496.6Z"/>
<path fill="#bf0000" fill-rule="evenodd" d="M353.4 492.9L354.5 491.4L356.7 487.5L357.8 485.9L360 483.7L363.4 481.7L367.8 480.3L372.2 479.5L377.8 479.1L383.3 479.2L387.7 479.7L391 480.6L393.3 481.6L395.5 483.2L397.7 485.8L399.9 489.5L401 491L401 496.6L392.9 496.6L391 495.3L387.7 494.4L384.4 494L380 493.8L374.4 494L370 494.6L366.1 495.5L364 496.6L353.4 496.6Z"/>
<path fill="#950000" fill-rule="evenodd" d="M353.4 495.4L354.5 494L356.7 489.9L357.8 488.4L360 486.1L362.3 484.6L365.3 483.3L368.9 482.4L372.2 481.9L376.6 481.5L381.1 481.4L385.5 481.7L388.8 482.3L392.1 483.4L394.4 484.7L396.6 486.8L397.7 488.3L399.9 492.1L401 493.5L401 496.6L396 496.6L395.3 495.5L393.3 494L391 493L386.6 492L381.1 491.5L374.4 491.7L367.8 492.7L364.5 493.7L362.3 494.7L361 495.5L360.1 496.6L353.4 496.6Z"/>
</g></g>
<g fill="none" stroke="#000" stroke-opacity="0.88" stroke-width="0.6"><circle cx="377.2" cy="472.6" r="18.2"/><path d="M374.3 454.6 L377.2 452 L380.1 454.6"/><path d="M359.4 467.8 L357.1 468.9 L357.1 476.9 L359.4 478"/><path d="M395 467.8 L397.3 468.9 L397.3 476.9 L395 478"/></g>
<path d="M366.3 459.4h.01M377.2 459.4h.01M388.1 459.4h.01M363.6 463.5h.01M370.4 463.5h.01M377.2 463.5h.01M384 463.5h.01M390.8 463.5h.01M362 468h.01M367.1 468h.01M372.1 468h.01M377.2 468h.01M382.3 468h.01M387.3 468h.01M392.4 468h.01M361.5 472.6h.01M366.7 472.6h.01M372 472.6h.01M377.2 472.6h.01M382.4 472.6h.01M387.7 472.6h.01M392.9 472.6h.01M362 477.1h.01M367.1 477.1h.01M372.1 477.1h.01M377.2 477.1h.01M382.3 477.1h.01M387.3 477.1h.01M392.4 477.1h.01M363.6 481.7h.01M368.1 481.7h.01M372.7 481.7h.01M377.2 481.7h.01M381.7 481.7h.01M386.3 481.7h.01M390.8 481.7h.01M366.3 485.7h.01M371.8 485.7h.01M377.2 485.7h.01M382.6 485.7h.01M388.1 485.7h.01M370.4 489h.01M377.2 489h.01M384 489h.01" stroke="#000" stroke-opacity=".55" stroke-width=".7" stroke-linecap="round" fill="none"/>
<clipPath id="tc13"><circle cx="441.7" cy="472.8" r="23"/></clipPath>
<g filter="url(#tb)"><g clip-path="url(#tc13)">
<rect x="417.7" y="448.8" width="48" height="48" fill="#1fffe0"/>
<path fill="#40ffbf" fill-rule="evenodd" d="M417.7 448.8L465.7 448.8L465.7 496.8L417.7 496.8ZM460.1 457.7L459 458.3L458.7 458.8L458.5 460L459.1 461.1L460.1 461.6L461.2 461.5L461.8 461.1L462.2 460L461.9 458.8L461.2 458Z"/>
<path fill="#6aff95" fill-rule="evenodd" d="M417.7 448.8L465.7 448.8L465.7 496.8L417.7 496.8ZM459 456.5L457.9 457.5L457.3 458.8L457.3 460L457.8 461.1L459 462.2L460.1 462.6L461.2 462.6L462.2 462.2L463.1 461.1L463.3 460L463.2 458.8L462.7 457.7L462.4 457.2L461.2 456.4L460.1 456.2Z"/>
<path fill="#95ff6a" fill-rule="evenodd" d="M417.7 448.8L465.7 448.8L465.7 496.8L417.7 496.8ZM457.9 455.4L456.8 456.6L456.3 457.7L456.1 458.8L456.2 460L456.8 461.1L457.9 462.3L459 463L460.1 463.4L461.8 463.3L463.5 462.4L464.3 461.1L464.5 460L464.1 457.7L463.5 456.5L462.4 455.3L461.2 454.8L460.1 454.6L459 454.8Z"/>
<path fill="#bfff40" fill-rule="evenodd" d="M417.7 448.8L465.7 448.8L465.7 456.7L465.1 455.5L463.5 454L461.2 453.1L459 453L456.8 453.8L455.8 454.4L455 455.5L454.6 457.7L454.7 458.8L455 460L455.7 461.1L456.8 462.3L457.9 463.2L459 463.8L460.1 464.1L461.2 464.2L463.5 463.7L464.2 463.3L465.4 462.2L465.7 461.6L465.7 496.8L417.7 496.8Z"/>
<path fill="#eaff15" fill-rule="evenodd" d="M417.7 448.8L465.7 448.8L465.7 451.7L461.2 450.4L457.9 450.4L453.4 451.4L447.5 453.3L446.4 454.4L447.8 454.8L450.1 456.1L451.2 457.1L453.2 460L456.8 463.3L457.9 464.1L459 464.6L461.2 464.9L465.7 464.4L465.7 496.8L417.7 496.8Z"/>
<path fill="#ffea00" fill-rule="evenodd" d="M421 450L422.2 449.1L423.1 448.8L424.9 448.8L425.5 449L426.6 449.7L427.7 450.8L429.8 454.4L430.8 455.5L433.3 457.8L434.4 458.4L436.7 458.9L444.5 459.1L447.8 459.6L450.1 460.2L452.3 461.2L456.8 464.2L459 465.3L461.2 465.7L463.5 465.8L465.7 466.2L465.7 496.8L417.7 496.8L417.7 454.6L418.7 453.3L419.9 451.2Z"/>
<path fill="#ffbf00" fill-rule="evenodd" d="M419.9 455.9L421 454.8L422.2 454L423.3 453.6L424.4 453.5L425.5 453.8L426.6 454.5L428.9 456.5L431.1 459.2L432.1 460L433.3 460.5L436.7 460.9L445.6 461.1L450.1 461.8L452.3 462.5L457.9 465.7L460.1 466.4L463.5 466.8L465.7 467.8L465.7 496.8L417.7 496.8L417.7 458.8Z"/>
<path fill="#ff9500" fill-rule="evenodd" d="M421 457.2L422.2 456.3L423.3 455.9L424.4 455.8L425.5 456.1L426.6 456.8L427.6 457.7L429.4 460L431.1 461.2L432.2 461.7L435.6 462.3L445.6 462.5L450.1 463.1L452.3 463.9L457.9 466.6L463.5 468L465.7 469.4L465.7 496.8L417.7 496.8L417.7 467.3L418.6 464.4L419.5 460L420 458.8Z"/>
<path fill="#ff6a00" fill-rule="evenodd" d="M422.2 458.8L423.3 458L424.4 457.9L425.5 458.3L428.4 461.1L430 462.2L431.1 462.7L433.3 463.4L435.6 463.6L445.6 463.8L450.1 464.5L452.3 465.2L457.9 467.5L462.4 468.7L463.5 469.3L465.7 471L465.7 496.8L417.7 496.8L417.7 470L419 467.8L421 460.8Z"/>
<path fill="#ff4000" fill-rule="evenodd" d="M422.2 462.2L423.3 461L424.4 460.6L425.5 460.9L430 463.8L432.2 464.7L434.4 465.1L444.5 465.2L449 465.7L452.3 466.6L456.8 468.3L462.4 470L463.5 470.7L465.7 472.6L465.7 496.8L417.7 496.8L417.7 472.1L418.8 470.8L419.7 468.9L421.2 464.4Z"/>
<path fill="#ff1500" fill-rule="evenodd" d="M423.3 464.1L424.4 463.2L425.5 463.2L430 465.8L431.1 466.2L433.3 466.7L444.5 466.9L450.1 467.6L461.2 471L463.2 472.2L465.7 474.4L465.7 496.8L417.7 496.8L417.7 474.2L418.8 473L420.6 470Z"/>
<path fill="#ea0000" fill-rule="evenodd" d="M417.7 476.6L418.8 475.6L420.5 473.4L423.3 469L424.4 467.5L425.5 467L426.6 467.1L431.1 468.7L433.3 469.1L443.4 469.2L449 469.7L453.4 470.7L460.1 472.6L462.4 473.7L465.7 476.8L465.7 496.8L417.7 496.8Z"/>
<path fill="#bf0000" fill-rule="evenodd" d="M417.7 479.3L421 475.7L423.3 473.8L425.5 472.5L427.7 472L440 471.7L446.7 471.8L453.4 472.7L459 474.1L461.2 475.2L462.4 476L465.7 479.3L465.7 496.8L417.7 496.8Z"/>
<path fill="#950000" fill-rule="evenodd" d="M417.7 481.6L418.8 480.6L421 478.1L423.3 476.3L425.5 475.2L428.9 474.4L437.8 473.8L445.6 473.9L452.3 474.5L457.6 475.6L460.1 476.6L462.4 478.2L464.6 480.6L465.7 481.6L465.7 496.8L458.3 496.8L456 495.7L453.4 495.2L447.8 494.6L442.3 494.5L436.7 494.6L430 495.2L427.4 495.7L425.1 496.8L417.7 496.8Z"/>
</g></g>
<g fill="none" stroke="#000" stroke-opacity="0.88" stroke-width="0.6"><circle cx="441.7" cy="472.6" r="18.4"/><path d="M438.8 454.4 L441.7 451.8 L444.6 454.4"/><path d="M423.7 467.8 L421.5 468.9 L421.5 477 L423.7 478.1"/><path d="M459.7 467.8 L461.9 468.9 L461.9 477 L459.7 478.1"/></g>
<path d="M430.7 459.3h.01M441.7 459.3h.01M452.7 459.3h.01M428 463.4h.01M434.8 463.4h.01M441.7 463.4h.01M448.6 463.4h.01M455.4 463.4h.01M426.4 468h.01M431.5 468h.01M436.6 468h.01M441.7 468h.01M446.8 468h.01M451.9 468h.01M457 468h.01M425.9 472.6h.01M431.2 472.6h.01M436.4 472.6h.01M441.7 472.6h.01M447 472.6h.01M452.2 472.6h.01M457.5 472.6h.01M426.4 477.2h.01M431.5 477.2h.01M436.6 477.2h.01M441.7 477.2h.01M446.8 477.2h.01M451.9 477.2h.01M457 477.2h.01M428 481.8h.01M432.6 481.8h.01M437.1 481.8h.01M441.7 481.8h.01M446.3 481.8h.01M450.8 481.8h.01M455.4 481.8h.01M430.7 485.8h.01M436.2 485.8h.01M441.7 485.8h.01M447.2 485.8h.01M452.7 485.8h.01M434.8 489.1h.01M441.7 489.1h.01M448.6 489.1h.01" stroke="#000" stroke-opacity=".55" stroke-width=".7" stroke-linecap="round" fill="none"/>
<rect x="193.8" y="161" width="6.5" height="41.5" fill="url(#jetg)" filter="url(#tb2)"/><path d="M200.8 161h1.1M200.8 166.2h1.1M200.8 171.4h1.1M200.8 176.6h1.1M200.8 181.8h1.1M200.8 186.9h1.1M200.8 192.1h1.1M200.8 197.3h1.1M200.8 202.5h1.1" stroke="#555" stroke-opacity=".6" stroke-width=".55" fill="none"/>
<text x="128.3" y="219.1" class="pl" text-anchor="middle">a</text>
<!-- panel b -->
<path d="M256.7 72.3V197.3H496" fill="none" stroke="#cacaca" stroke-width=".6"/>
<path d="M256.7 197.3v-1.4M296.6 197.3v-1.4M336.5 197.3v-1.4M376.4 197.3v-1.4M416.3 197.3v-1.4M456.2 197.3v-1.4M496 197.3v-1.4M256.7 72.4h1.4M256.7 91.6h1.4M256.7 110.6h1.4M256.7 129.7h1.4M256.7 148.8h1.4M256.7 168h1.4M256.7 187.5h1.4" fill="none" stroke="#8a8a8a" stroke-width=".45"/>
<path d="M256.7 148.9H496" stroke="#8c8cff" stroke-width="0.8" fill="none"/>
<path d="M296.6 72.3V197.3" stroke="#7070ff" stroke-width="0.85" fill="none"/>
<text x="257.7" y="201.9" class="tk" text-anchor="middle">-200</text>
<text x="296.6" y="201.9" class="tk" text-anchor="middle">0</text>
<text x="336.5" y="201.9" class="tk" text-anchor="middle">200</text>
<text x="376.4" y="201.9" class="tk" text-anchor="middle">400</text>
<text x="416.3" y="201.9" class="tk" text-anchor="middle">600</text>
<text x="456.2" y="201.9" class="tk" text-anchor="middle">800</text>
<text x="496" y="201.9" class="tk" text-anchor="middle">1000</text>
<text x="255.7" y="73.8" class="tk" text-anchor="end">-8</text>
<text x="255.7" y="92.9" class="tk" text-anchor="end">-6</text>
<text x="255.7" y="111.9" class="tk" text-anchor="end">-4</text>
<text x="255.7" y="131" class="tk" text-anchor="end">-2</text>
<text x="255.7" y="150.2" class="tk" text-anchor="end">0</text>
<text x="255.7" y="169.3" class="tk" text-anchor="end">2</text>
<text x="255.7" y="188.8" class="tk" text-anchor="end">4</text>
<text x="376.4" y="206.6" class="lb" text-anchor="middle">Latency (ms)</text>
<text transform="translate(249.7 134) rotate(-90)" class="lb" text-anchor="middle">Amplitude (uV)</text>
<text x="305.2" y="74.6" class="ttb">Frontal N2</text>
<path d="M257.1 144.6C257.5 145.2 258.5 148 259.5 148.5C260.5 149 262 147.6 263 147.8C264 148 264.6 150.2 265.7 149.9C266.8 149.6 268.1 145.8 269.3 146C270.5 146.2 271.6 150.5 272.8 150.8C274 151.2 275.1 147.9 276.4 148.1C277.7 148.3 279.2 151.9 280.8 152C282.4 152.1 284.4 149.3 286.2 148.5C288 147.7 289.9 146.9 291.5 147.2C293.1 147.5 294.5 149.8 296 150.3C297.5 150.8 299.2 149.9 300.4 150.3C301.6 150.7 302.2 152.8 303.1 152.6C304 152.4 304.8 149.8 305.8 149C306.9 148.2 308.4 149.4 309.4 148.1C310.4 146.8 311 145.2 312 141C313 136.8 314.5 128.7 315.6 123.2C316.7 117.7 318.1 110.7 318.8 108C319.5 105.3 319.5 105.8 320 107.1C320.5 108.4 321.1 110.7 321.8 116C322.6 121.3 323.7 133.5 324.5 139.2C325.3 144.8 325.8 149.8 326.6 149.9C327.4 150 328.1 146.2 329.2 140C330.3 133.8 331.8 120.3 333 112.8C334.2 105.3 335.4 99.6 336.6 95C337.8 90.4 339.1 87.3 340.1 85.1C341.1 82.9 341.8 82 342.8 81.6C343.9 81.2 345 83 346.4 82.8C347.8 82.6 350.1 80 351.4 80.3C352.7 80.5 353.1 83 354.4 84.3C355.6 85.5 357.4 86.2 358.9 87.8C360.4 89.4 361.8 92 363.3 94.1C364.8 96.2 366.3 98.6 367.8 100.3C369.3 102 370.6 103.3 372.2 104.2C373.8 105.1 376.2 105.4 377.6 105.6C379 105.8 379.6 105.7 380.6 105.3C381.6 104.9 382.5 102.7 383.5 103C384.5 103.3 385.1 106.2 386.5 107.4C387.9 108.6 390.4 109 391.8 110.1C393.2 111.2 394.1 113 395.2 114.2C396.3 115.5 397.8 117.2 398.7 117.6C399.6 118 399.8 115.3 400.9 116.4C402 117.5 404 123 405.5 124.4C407 125.9 408.7 125.1 410 125.1C411.3 125.1 412.4 124.1 413.5 124.4C414.6 124.7 415.8 125.9 416.9 126.7C418 127.5 419 129.2 420.3 129C421.6 128.8 423.4 125.4 424.9 125.5C426.4 125.6 427.9 129.4 429.4 129.4C430.9 129.4 432.3 127.1 434 125.5C435.7 123.9 438.2 120.7 439.7 119.9C441.2 119.2 441.9 121.8 443.1 121C444.3 120.2 445.6 115.9 446.9 115.3C448.2 114.7 449.7 118.2 451 117.6C452.3 117 453.4 112.5 454.5 111.9C455.6 111.3 456.6 114.8 457.9 114.2C459.2 113.6 460.9 110.4 462.4 108.5C463.9 106.6 465.7 103.5 467 102.8C468.3 102.1 469.2 105.1 470.4 104.6C471.6 104.1 473.1 100.5 474.3 100C475.6 99.5 476.6 102.1 477.9 101.6C479.1 101.1 480.6 97.7 481.8 97.1C483 96.5 484.1 98.4 485.2 97.8C486.3 97.2 487.5 93.8 488.6 93.2C489.7 92.6 490.4 94.8 491.6 94.1C492.8 93.4 495.2 89.9 495.9 89.1" fill="none" stroke="#f83226" stroke-width="1.3" stroke-linejoin="round" stroke-linecap="round"/>
<path d="M257.1 141.3C257.6 141.7 259.2 142.7 260.3 143.7C261.4 144.7 262.5 146.5 263.9 147.2C265.2 147.9 267.1 147.4 268.4 148.1C269.7 148.8 270.7 151.2 271.9 151.3C273.1 151.5 274 148.9 275.5 149C277 149.1 278.9 151.8 280.8 151.7C282.7 151.6 285.2 148.5 287.1 148.5C289 148.5 290.8 151.4 292.4 151.7C294 152 295.4 150.8 296.9 150.4C298.4 150 299.4 149.4 301.3 149C303.2 148.6 306.9 149.1 308.5 148.1C310.1 147.1 310.1 147 311.1 142.8C312.1 138.7 313.5 129.2 314.7 123.2C315.9 117.2 317.5 110.2 318.3 107.1C319.1 104 319.2 103.9 319.7 104.5C320.2 105.1 320.6 105.8 321.3 110.7C322 115.6 323.2 128.4 324.1 133.9C325 139.4 325.8 143.5 326.6 143.7C327.4 143.9 327.9 140.4 329 135C330.1 129.6 331.7 117.7 333 111C334.3 104.3 335.4 99.2 336.6 95C337.8 90.8 339.2 87.8 340.1 86C341.1 84.2 341.2 84 342.3 83.9C343.4 83.9 345.1 85.8 346.4 85.7C347.7 85.6 348.8 83.4 350 83.4C351.2 83.4 352.2 84.8 353.5 85.7C354.8 86.6 356.5 86.9 358 88.7C359.5 90.5 360.8 93.9 362.4 96.7C364 99.5 366.2 103.3 367.8 105.6C369.4 107.9 370.4 109.5 371.7 110.6C373 111.7 374.4 112.5 375.8 112.4C377.2 112.3 378.9 110.7 380.2 110.1C381.5 109.5 382.6 108.5 383.8 108.9C385 109.4 386.2 111.3 387.4 112.8C388.5 114.2 389.2 115.7 390.7 117.6C392.2 119.5 394.5 122.6 396.4 124.4C398.3 126.2 400.2 127 402.1 128.3C404 129.6 406.1 131.5 407.8 132.4C409.5 133.3 410.8 132.3 412.3 133.5C413.8 134.7 415.4 138.2 416.9 139.7C418.3 141.2 419.7 142.6 421 142.6C422.3 142.6 423.6 139.7 424.9 139.7C426.2 139.7 427.4 142.9 428.7 142.6C430 142.3 431.6 139 432.8 138.1C434.1 137.2 435.1 137.9 436.2 136.9C437.3 135.9 438.5 132.4 439.7 131.9C440.9 131.4 441.8 134.7 443.1 134.2C444.4 133.7 446.3 129.8 447.6 129C448.9 128.2 449.7 130.2 451 129.6C452.3 129 453.9 126.6 455.6 125.5C457.3 124.4 459.6 123.2 461.3 122.8C463 122.3 464.3 123.1 465.8 122.8C467.3 122.5 468.9 121.5 470.4 121C471.9 120.5 473.3 121.2 475 119.9C476.7 118.6 479 114 480.6 113C482.2 112 483.2 115 484.5 114.2C485.8 113.5 487.4 109.5 488.6 108.5C489.9 107.5 490.8 109 492 108.5C493.2 108 495.2 106.2 495.9 105.7" fill="none" stroke="#1c1c1c" stroke-width="1.3" stroke-linejoin="round" stroke-linecap="round"/>
<path d="M257.1 138.9C257.4 138.7 257.9 137.3 258.6 137.8C259.3 138.3 260.3 140.8 261.2 141.9C262.1 143 262.8 143.7 263.9 144.6C264.9 145.5 266.3 146.2 267.5 147.2C268.7 148.2 269.5 150.5 271 150.8C272.5 151.1 274.9 148.8 276.4 149C277.9 149.2 278.7 150.9 280 151.7C281.3 152.4 282.8 153.5 284.4 153.5C286 153.5 287.9 151.7 289.8 151.7C291.7 151.7 294.4 153.2 296 153.5C297.6 153.8 298.4 153.2 299.6 153.8C300.8 154.5 302.1 157 303.1 157.4C304.1 157.8 304.8 155.8 305.8 156.1C306.8 156.4 308.1 159.6 309 159.2C309.9 158.8 310.2 157.4 311.1 153.5C312.1 149.6 313.6 141.5 314.7 135.6C315.8 129.7 316.9 121.6 317.7 117.8C318.5 114 318.9 112.5 319.5 112.8C320.1 113.1 320.5 114.3 321.3 119.6C322.1 124.9 323.2 138.2 324.1 144.6C325 151 325.9 155.3 326.6 157.9C327.3 160.5 327.6 160.6 328.1 160.2C328.7 159.8 329 159.3 329.9 155.2C330.8 151.1 332.3 141.8 333.4 135.6C334.5 129.4 335.7 122.1 336.5 118C337.3 113.9 337.5 113.3 338.4 111C339.3 108.7 340.9 105.3 341.9 103.9C342.9 102.5 343.4 102.5 344.6 102.4C345.8 102.3 347.9 103.3 349.1 103.5C350.3 103.7 350.7 102.5 351.7 103.5C352.7 104.5 354.1 107 355.3 109.2C356.5 111.4 357.6 114.5 358.9 116.7C360.2 118.9 361.8 120.1 363.3 122.6C364.8 125.1 366.4 129.6 367.8 131.5C369.2 133.4 370.2 133.4 371.7 133.8C373.2 134.2 375 133.4 376.7 133.8C378.4 134.2 380.6 135.5 382 136.3C383.4 137.1 383.9 138.2 385 138.8C386.1 139.4 387.1 138.5 388.4 139.7C389.7 140.9 391.7 143.8 393 146C394.3 148.2 395.3 151.5 396.4 152.9C397.5 154.3 398.5 153.6 399.8 154.7C401.1 155.8 402.9 158.5 404.4 159.7C405.9 160.9 407.4 160.9 408.9 162C410.4 163.1 412.2 165.8 413.5 166.5C414.8 167.2 415.6 165.7 416.9 166.1C418.2 166.5 420.2 168.7 421.4 168.8C422.6 168.9 422.9 166 424.2 166.5C425.5 167 427.8 170.7 429.4 171.6C431 172.5 432.3 172.8 434 172.2C435.7 171.5 438.4 168.2 439.7 167.7C441 167.2 440.9 169.3 441.9 169.3C442.8 169.3 444.2 167.8 445.4 167.7C446.5 167.6 447.7 169.1 448.8 168.8C449.9 168.5 450.9 167.6 452.2 166.1C453.5 164.6 455.2 160.9 456.7 159.7C458.2 158.4 459.6 158.6 461.3 158.6C463 158.6 465.1 160.1 467 159.7C468.9 159.3 471 157.5 472.7 156.3C474.4 155.1 475.9 152.5 477.2 152.4C478.4 152.3 479 155.9 480.2 155.6C481.4 155.3 483 151 484.1 150.6C485.2 150.2 485.8 153.6 487 153.3C488.2 153 490.1 149.6 491.6 149C493.1 148.4 495.2 149.4 495.9 149.5" fill="none" stroke="#2a2af5" stroke-width="1.3" stroke-linejoin="round" stroke-linecap="round"/>
<path d="M329.5 167.4H337.1" stroke="#f83226" stroke-width="1.25" fill="none"/>
<text x="338" y="168.6" class="lgb">positive expressions</text>
<path d="M329.5 172.8H337.1" stroke="#1c1c1c" stroke-width="1.25" fill="none"/>
<text x="338" y="174" class="lgb">neutral expressions</text>
<path d="M329.5 178.2H337.1" stroke="#2a2af5" stroke-width="1.25" fill="none"/>
<text x="338" y="179.4" class="lgb">negative expressions</text>
<text x="296.5" y="7.6" class="tpb" text-anchor="middle">N2 positive expressions</text>
<text x="367.9" y="7.6" class="tpb" text-anchor="middle">N2 neutral expressions</text>
<text x="438.8" y="7.6" class="tpb" text-anchor="middle">N2 negative expressions</text>
<rect x="472.6" y="13.9" width="8.4" height="46" fill="url(#jetg)" filter="url(#tb2)"/><path d="M481.5 13.9h1.1M481.5 19.6h1.1M481.5 25.4h1.1M481.5 31.1h1.1M481.5 36.9h1.1M481.5 42.6h1.1M481.5 48.4h1.1M481.5 54.1h1.1M481.5 59.9h1.1" stroke="#555" stroke-opacity=".6" stroke-width=".55" fill="none"/>
<text x="381.5" y="220.1" class="pl" text-anchor="middle">b</text>
<!-- panel c -->
<path d="M33.5 401.6V527.4H258.6" fill="none" stroke="#c0c0c0" stroke-width=".6"/>
<path d="M33.5 527.4v-1.4M71 527.4v-1.4M108.5 527.4v-1.4M146 527.4v-1.4M183.5 527.4v-1.4M221 527.4v-1.4M258.5 527.4v-1.4M33.5 401.7h1.4M33.5 432.7h1.4M33.5 464h1.4M33.5 495.4h1.4M33.5 527h1.4" fill="none" stroke="#8a8a8a" stroke-width=".45"/>
<path d="M33.5 432.6H132.7" stroke="#6a6aff" stroke-width="0.8" fill="none"/>
<path d="M215.5 432.6H258.6" stroke="#6a6aff" stroke-width="0.8" fill="none"/>
<path d="M71 401.6V527.4" stroke="#9a9aff" stroke-width="1.6" fill="none"/>
<text x="33" y="532" class="tk" text-anchor="start">-200</text>
<text x="71" y="532" class="tk" text-anchor="middle">0</text>
<text x="108.5" y="532" class="tk" text-anchor="middle">200</text>
<text x="146" y="532" class="tk" text-anchor="middle">400</text>
<text x="183.5" y="532" class="tk" text-anchor="middle">600</text>
<text x="221" y="532" class="tk" text-anchor="middle">800</text>
<text x="258.5" y="532" class="tk" text-anchor="middle">1000</text>
<text x="32.5" y="403.1" class="tk" text-anchor="end">-5</text>
<text x="32.5" y="434.1" class="tk" text-anchor="end">0</text>
<text x="32.5" y="465.4" class="tk" text-anchor="end">5</text>
<text x="32.5" y="496.8" class="tk" text-anchor="end">10</text>
<text x="32.5" y="528.4" class="tk" text-anchor="end">15</text>
<text x="146.1" y="536" class="lb" text-anchor="middle">Latency (ms)</text>
<text transform="translate(26.4 464) rotate(-90)" class="lb" text-anchor="middle">Amplitude (uV)</text>
<text x="73.1" y="404.4" class="tt">Parietal-Occipital P3</text>
<path d="M34 431C35 430.9 38 430.2 40 430.5C42 430.8 44 432.8 46 433C48 433.2 50 431.8 52 432C54 432.2 56.3 433.8 58 434.5C59.7 435.2 60.7 436.1 62 436C63.3 435.9 64.5 433.8 66 434C67.5 434.2 69.3 436.2 71 437C72.7 437.8 74.2 438.1 76 439C77.8 439.9 80.2 441.7 81.7 442.3C83.2 442.9 84.1 442 85.3 442.8C86.5 443.6 87.9 446.9 88.9 447.3C90 447.8 90.7 444.8 91.6 445.5C92.5 446.2 93.4 448.7 94.3 451.7C95.2 454.7 95.9 460 96.9 463.3C97.9 466.6 99.3 470.4 100.5 471.3C101.7 472.2 102.8 469.4 104.1 468.7C105.4 468 107 467 108.5 467.4C110 467.8 111.5 469.8 113 471.3C114.5 472.9 115.8 475.5 117.4 476.7C119 477.9 121.2 476.9 122.8 478.5C124.4 480.1 125.7 484 127.2 486.5C128.7 489 130.1 491.8 131.7 493.6C133.3 495.4 135.3 496.4 137 497.5C138.7 498.6 140.3 499.4 142 500C143.7 500.6 145.3 500.3 147 500.8C148.7 501.3 150.5 502.4 152 503C153.5 503.6 154.7 504 156 504.5C157.3 505 158.5 505.2 160 506.1C161.5 507 163.5 508.4 165.2 509.6C166.9 510.8 168.7 512.2 170.4 513.2C172.1 514.2 173.9 515.3 175.6 515.9C177.3 516.5 179.2 516.3 180.8 516.9C182.4 517.5 183.4 519.3 185 519.4C186.6 519.5 188.4 518.1 190.1 517.3C191.8 516.5 193.6 515.1 195.3 514.8C197 514.5 198.8 515.6 200.5 515.3C202.2 515 204 513.6 205.7 513.2C207.4 512.9 209.2 513.5 210.9 513.2C212.6 513 214.4 512.4 216.1 511.7C217.8 511 219.6 509.8 221.3 509C223 508.2 224.8 507.4 226.5 506.9C228.2 506.4 230.1 506.7 231.7 506.1C233.3 505.5 234.3 504 235.9 503.4C237.5 502.8 239.4 502.6 241.1 502.4C242.8 502.2 244.6 502.4 246.3 502C248 501.6 249.9 501 251.5 500.3C253.1 499.6 254.4 498 255.6 497.8C256.8 497.6 258.3 499.1 258.8 499.3" fill="none" stroke="#a8a8ff" stroke-width="0.85" stroke-linejoin="round" stroke-linecap="round"/>
<path d="M34 432C35 431.8 38 431.4 40 431C42 430.6 44.3 429.3 46 429.5C47.7 429.7 48.3 431.9 50 432C51.7 432.1 54.3 430.1 56 430C57.7 429.9 58.3 430.8 60 431.5C61.7 432.2 64.2 433.3 66 434C67.8 434.7 69.3 435.5 71 435.5C72.7 435.5 74.5 434.2 76 434C77.5 433.8 78.6 433.6 80 434C81.4 434.4 83 435.4 84.5 436.5C86 437.6 87.6 440.9 88.9 440.5C90.2 440.1 91.6 434.3 92.5 433.8C93.4 433.3 93.6 434.4 94.3 437.4C95 440.4 96 448.6 96.9 452C97.8 455.4 98.4 458.1 99.6 458C100.8 457.9 102.8 453.2 104.1 451.5C105.4 449.8 106.4 447.8 107.6 447.8C108.8 447.8 109.9 450.1 111.2 451.5C112.5 452.9 114.1 455.1 115.6 456C117.1 456.9 118.8 456.6 120.1 456.7C121.4 456.8 122.5 455.5 123.7 456.5C124.9 457.5 125.9 460.5 127.2 462.5C128.5 464.5 130.1 466.7 131.7 468.5C133.3 470.3 135.4 471.4 137 473.1C138.6 474.8 140 477.9 141.5 478.5C143 479.1 144.5 477.2 146 476.5C147.5 475.8 148.9 475.1 150.4 474.5C151.9 473.9 153.3 472.9 154.9 473.1C156.5 473.3 157.4 474.7 160 475.8C162.6 476.9 166.9 478.5 170.4 479.5C173.9 480.5 178 481.4 180.8 481.6C183.6 481.8 184.4 481.6 187 480.5C189.6 479.4 193.1 477.2 196.4 475.3C199.7 473.4 203.3 471 206.8 469.1C210.3 467.2 213.7 465.6 217.2 463.9C220.7 462.2 224.1 460.5 227.6 459.1C231.1 457.7 234.5 457 238 455.6C241.5 454.2 244.9 452.5 248.4 450.8C251.9 449.1 257.1 446.1 258.8 445.2" fill="none" stroke="#ffb0b0" stroke-width="0.75" stroke-linejoin="round" stroke-linecap="round"/>
<path d="M34 430C35 430.3 38 431.8 40 432C42 432.2 44 430.9 46 431C48 431.1 50 432.5 52 432.5C54 432.5 56 430.9 58 431C60 431.1 62 432.5 64 433C66 433.5 68.5 434.2 70 434C71.5 433.8 71.8 431.8 73 431.5C74.2 431.2 75.7 431.8 77 432C78.3 432.2 79.8 432.3 81 433C82.2 433.7 83.2 434.8 84.5 436C85.8 437.2 87.6 440.8 88.9 440.5C90.2 440.2 91.6 434.9 92.5 434.5C93.4 434.1 93.6 434.9 94.3 438C95 441.1 96 449.3 96.9 453C97.8 456.7 98.4 459.8 99.6 460C100.8 460.2 102.8 455.9 104.1 454.5C105.4 453.1 106.3 451.3 107.6 451.7C108.9 452.1 110.6 455.4 112.1 457C113.6 458.6 115 460.4 116.5 461C118 461.6 119.8 460.7 121 460.6C122.2 460.5 122.7 459.6 123.7 460.5C124.7 461.4 125.9 464.1 127.2 466C128.5 467.9 130.1 470.1 131.7 472C133.3 473.9 135.2 476 137 477.5C138.8 479 140.8 480.6 142.4 480.8C144 481.1 145.2 480.1 146.8 479C148.4 477.9 150.8 475.3 152.2 474.5C153.5 473.7 153.6 473.3 154.9 474C156.2 474.7 157.4 477.3 160 478.5C162.6 479.7 166.9 480.3 170.4 481.2C173.9 482.1 178 482.9 180.8 483.7C183.6 484.4 184.4 486 187 485.7C189.6 485.4 193.1 483 196.4 481.6C199.7 480.2 203.3 479 206.8 477.4C210.3 475.8 213.7 473.8 217.2 472.2C220.7 470.6 224.1 469.6 227.6 468.1C231.1 466.6 234.5 464.8 238 463.3C241.5 461.8 245.5 459.9 248.4 459.1C251.3 458.3 253.9 459.4 255.6 458.7C257.3 458 258.3 455.6 258.8 455" fill="none" stroke="#b4b4b4" stroke-width="0.75" stroke-linejoin="round" stroke-linecap="round"/>
<path d="M34 431.4C34.3 431.6 34.9 432.9 35.9 432.9C36.9 432.9 38.4 432.3 39.9 431.4C41.4 430.5 43.6 427.6 44.9 427.4C46.2 427.1 47 429.1 47.8 429.9C48.6 430.7 49 432.1 49.8 432.4C50.6 432.6 51.7 431.1 52.8 431.4C53.9 431.6 55.1 433.7 56.2 433.9C57.4 434.1 58.6 432.6 59.7 432.4C60.8 432.2 61.6 432.5 62.7 432.9C63.9 433.3 65.2 434.2 66.6 434.9C67.9 435.5 69.3 436.4 70.8 436.8C72.3 437.2 74 437.4 75.5 437.3C77 437.2 78.5 436.5 80 436.5C81.5 436.5 83 436.6 84.5 437.5C86 438.4 87.6 442.3 88.9 441.9C90.2 441.4 91.6 435.4 92.5 434.8C93.4 434.2 93.6 435.3 94.3 438.4C95 441.5 96 449.9 96.9 453.5C97.8 457.1 98.4 459.8 99.6 459.8C100.8 459.8 102.8 455.1 104.1 453.5C105.4 451.9 106.4 450 107.6 450C108.8 450 109.9 452.2 111.2 453.5C112.5 454.8 114.1 457.1 115.6 458C117.1 458.9 118.8 458.9 120.1 458.9C121.4 458.9 122.5 457.1 123.7 458C124.9 458.9 125.9 462.1 127.2 464.2C128.5 466.3 130.1 468.6 131.7 470.4C133.3 472.2 135.4 473.7 137 474.9C138.6 476.1 140 477.5 141.5 477.6C143 477.7 144.4 475.5 145.9 475.4C147.4 475.2 149.2 476.8 150.4 476.7C151.6 476.6 151.8 474.9 153.1 474.9C154.4 474.9 156.9 476.4 158.4 476.7C159.9 477 160.7 476.2 162 476.7C163.3 477.1 165.2 478.6 166.4 479.4C167.6 480.2 168 481.3 169.4 481.6C170.8 481.9 172.7 481 174.6 481.2C176.5 481.4 178.7 482.3 180.8 482.6C182.9 482.9 185.1 483.6 187 483.2C188.9 482.8 190.6 481.5 192.2 480.5C193.8 479.5 194.8 478 196.4 477C198 476 199.9 475.3 201.6 474.3C203.3 473.3 205.1 472.2 206.8 471.2C208.5 470.2 210.3 469.1 212 468.1C213.7 467.1 215.5 466.2 217.2 465.4C218.9 464.6 220.7 464.2 222.4 463.3C224.1 462.4 225.9 460.6 227.6 459.8C229.3 459 231.1 459.4 232.8 458.7C234.5 458 236.3 456.4 238 455.6C239.7 454.8 241.5 454.8 243.2 454.1C244.9 453.4 246.7 452.4 248.4 451.4C250.1 450.4 251.9 449.5 253.6 448.3C255.3 447.1 257.9 444.9 258.8 444.2" fill="none" stroke="#f83226" stroke-width="1.3" stroke-linejoin="round" stroke-linecap="round"/>
<path d="M34 428.4C34.5 428.8 35.6 430.1 36.9 430.9C38.2 431.6 40.6 432.9 41.9 432.9C43.2 432.9 43.8 431 44.9 430.9C46 430.8 47.6 432.4 48.8 432.4C49.9 432.4 50.6 431 51.8 431.1C52.9 431.2 54.4 432.8 55.7 432.9C57 433 58.4 432 59.7 431.9C61 431.8 62.4 431.8 63.7 432.4C65 433 66.4 435.2 67.6 435.8C68.8 436.4 69.5 435.9 70.8 435.8C72.1 435.7 74 435.1 75.5 435C77 434.9 78.5 434.4 80 434.9C81.5 435.4 83 436.5 84.5 437.8C86 439.1 87.6 443.1 88.9 442.8C90.2 442.5 91.6 436.6 92.5 436C93.4 435.4 93.6 436.2 94.3 439.3C95 442.4 96 450.7 96.9 454.4C97.8 458.1 98.4 461.2 99.6 461.5C100.8 461.8 102.8 457.5 104.1 456.2C105.4 454.9 106.3 453.1 107.6 453.5C108.9 453.9 110.6 457.3 112.1 458.9C113.6 460.5 115 462.6 116.5 463.3C118 464 119.8 463.5 121 463.3C122.2 463.1 122.7 461.6 123.7 462.4C124.7 463.1 125.9 465.9 127.2 467.8C128.5 469.7 130.1 472.1 131.7 474C133.3 475.9 135.2 477.9 137 479.4C138.8 480.9 140.8 482.6 142.4 482.9C144 483.2 145.2 482.1 146.8 481.1C148.4 480.1 150.6 477.1 152.2 476.7C153.8 476.3 155 478 156.6 478.5C158.2 479 160.6 479.4 162 479.9C163.4 480.3 163.8 480.9 165.2 481.2C166.6 481.5 168.7 481 170.4 481.6C172.1 482.2 173.9 484.3 175.6 484.7C177.3 485.1 178.9 483.5 180.8 484.1C182.7 484.7 185.3 487.6 187 488.2C188.7 488.8 189.6 488.6 191.2 487.8C192.8 487.1 194.7 484.9 196.4 483.7C198.1 482.5 199.9 481.4 201.6 480.5C203.3 479.6 205.1 479.4 206.8 478.5C208.5 477.6 210.3 476.5 212 475.3C213.7 474.1 215.5 472.2 217.2 471.2C218.9 470.2 220.7 469.8 222.4 469.1C224.1 468.4 225.9 467.8 227.6 467C229.3 466.2 231.1 465.4 232.8 464.5C234.5 463.6 236.3 462.6 238 461.8C239.7 461 241.5 460.7 243.2 459.8C244.9 458.9 246.7 457.8 248.4 456.6C250.1 455.4 251.9 453.6 253.6 452.5C255.3 451.4 257.9 450.4 258.8 450" fill="none" stroke="#1c1c1c" stroke-width="1.3" stroke-linejoin="round" stroke-linecap="round"/>
<path d="M34 431.9C34.3 432 35 432.7 36 432.4C37 432.1 38.8 430.2 39.9 429.9C41 429.6 41.7 429.6 42.9 430.4C44.1 431.1 46 434.2 47.3 434.4C48.6 434.6 49.5 431.6 50.8 431.4C52 431.1 53.5 432.7 54.8 432.9C56.1 433.1 57.4 432.1 58.7 432.4C60 432.7 61.6 434.7 62.7 434.9C63.9 435.1 64.4 433.2 65.6 433.4C66.8 433.5 68.1 435.6 69.6 435.8C71.1 436.1 72.9 435 74.6 434.9C76.3 434.8 78.3 434.7 80 435.3C81.7 435.9 83 437.1 84.5 438.4C86 439.6 87.6 442.9 88.9 442.8C90.2 442.7 91.6 437.9 92.5 437.5C93.4 437.1 93.6 437.1 94.3 440.1C95 443.1 96 451.6 96.9 455.3C97.9 459 98.8 461.8 100 462.4C101.2 463 102.8 459.9 104.1 458.9C105.4 457.9 106.3 455.8 107.6 456.2C108.9 456.6 110.6 459.9 112.1 461.5C113.6 463.1 114.7 465.1 116.5 466C118.3 466.9 121 465.7 122.8 466.9C124.6 468.1 125.7 471 127.2 473.1C128.7 475.2 130.1 477.3 131.7 479.4C133.3 481.5 135.5 484.3 137 485.6C138.5 486.9 139.3 487.4 140.6 487.4C141.9 487.4 143.5 486 145 485.6C146.5 485.2 148.2 485.5 149.5 485.2C150.8 484.9 151.6 483.6 153.1 483.8C154.6 484 156.8 485.4 158.4 486.5C160 487.6 161.6 489.1 162.9 490.1C164.2 491.1 165.2 491.7 166.4 492.4C167.7 493.1 168.9 493.8 170.4 494.1C171.9 494.5 173.9 494.2 175.6 494.5C177.3 494.8 179.2 496.1 180.8 495.7C182.4 495.3 183.8 492.6 185 492.4C186.2 492.2 186.7 494.8 188.1 494.5C189.5 494.2 191.6 492 193.3 490.9C195 489.8 196.8 488.5 198.5 487.8C200.2 487.1 202 487.3 203.7 486.8C205.4 486.3 207.2 485.6 208.9 484.7C210.6 483.8 212.4 483 214.1 481.6C215.8 480.2 217.6 477.5 219.3 476.4C221 475.3 222.7 475.4 224.4 474.9C226.1 474.4 227.9 473.8 229.6 473.3C231.3 472.9 233.1 472.9 234.8 472.2C236.5 471.5 238.3 469.8 240 469.1C241.7 468.4 243.5 468.8 245.2 468.1C246.9 467.4 248.8 465.9 250.4 464.9C252 463.8 253.2 462.4 254.6 461.8C256 461.2 258.1 461.3 258.8 461.2" fill="none" stroke="#2a2af5" stroke-width="1.4" stroke-linejoin="round" stroke-linecap="round"/>
<path d="M134.4 425.9H140.8" stroke="#f83226" stroke-width="1.2" fill="none"/>
<text x="142" y="427.1" class="lg">positive expressions in clear contexts</text>
<path d="M134.4 431.2H140.8" stroke="#1c1c1c" stroke-width="1.2" fill="none"/>
<text x="142" y="432.4" class="lg">neutral expressions in clear contexts</text>
<path d="M134.4 436.1H140.8" stroke="#2a2af5" stroke-width="1.3" fill="none"/>
<text x="142" y="437.3" class="lg">negative expressions in clear contexts</text>
<path d="M134.4 441.4H140.8" stroke="#ffb0b0" stroke-width="0.7" fill="none"/>
<text x="142" y="442.6" class="lg">positive expressions in fuzzy contexts</text>
<path d="M134.4 446.5H140.8" stroke="#b4b4b4" stroke-width="0.7" fill="none"/>
<text x="142" y="447.7" class="lg">neutral expressions in fuzzy contexts</text>
<path d="M134.4 451.7H140.8" stroke="#a8a8ff" stroke-width="0.7" fill="none"/>
<text x="142" y="452.9" class="lg">negative expressions in fuzzy contexts</text>
<text x="73.2" y="295.6" class="tp2" text-anchor="middle">P3  clear + positive</text>
<text x="137.7" y="295.6" class="tp2" text-anchor="middle">P3 clear + neutral</text>
<text x="202.4" y="295.6" class="tp2" text-anchor="middle">P3 clear + negative</text>
<text x="73" y="353.6" class="tp2" text-anchor="middle">P3 fuzzy + positive</text>
<text x="137.8" y="353.6" class="tp2" text-anchor="middle">P3 fuzzy + neutral</text>
<text x="202.4" y="353.2" class="tp2" text-anchor="middle">P3 fuzzy + negative</text>
<rect x="230" y="317.3" width="8.4" height="51.3" fill="url(#jetg)" filter="url(#tb2)"/><path d="M238.9 317.3h1.1M238.9 323.7h1.1M238.9 330.1h1.1M238.9 336.5h1.1M238.9 342.9h1.1M238.9 349.4h1.1M238.9 355.8h1.1M238.9 362.2h1.1M238.9 368.6h1.1" stroke="#555" stroke-opacity=".6" stroke-width=".55" fill="none"/>
<text x="151.1" y="546.3" class="pl" text-anchor="middle">c</text>
<!-- panel d -->
<path d="M261.5 290.6V419.4H488.6" fill="none" stroke="#acacac" stroke-width=".6"/>
<path d="M261.5 419.4v-1.4M299.2 419.4v-1.4M337.1 419.4v-1.4M375 419.4v-1.4M412.9 419.4v-1.4M450.8 419.4v-1.4M488.6 419.4v-1.4M261.5 290.8h1.4M261.5 322.6h1.4M261.5 355.2h1.4M261.5 387.4h1.4M261.5 419.5h1.4" fill="none" stroke="#8a8a8a" stroke-width=".45"/>
<path d="M261.5 322.4H488.6" stroke="#7a7aff" stroke-width="0.65" fill="none"/>
<path d="M299.5 290.6V419.4" stroke="#7070ff" stroke-width="0.7" fill="none"/>
<text x="263" y="424.2" class="tk" text-anchor="start">-200</text>
<text x="299.2" y="424.2" class="tk" text-anchor="middle">0</text>
<text x="337.1" y="424.2" class="tk" text-anchor="middle">200</text>
<text x="375" y="424.2" class="tk" text-anchor="middle">400</text>
<text x="412.9" y="424.2" class="tk" text-anchor="middle">600</text>
<text x="450.8" y="424.2" class="tk" text-anchor="middle">800</text>
<text x="488.6" y="424.2" class="tk" text-anchor="middle">1000</text>
<text x="260.5" y="292.2" class="tk" text-anchor="end">-5</text>
<text x="260.5" y="324" class="tk" text-anchor="end">0</text>
<text x="260.5" y="356.6" class="tk" text-anchor="end">5</text>
<text x="260.5" y="388.8" class="tk" text-anchor="end">10</text>
<text x="260.5" y="420.9" class="tk" text-anchor="end">15</text>
<text x="375.1" y="428.4" class="lb" text-anchor="middle">Latency (ms)</text>
<text transform="translate(255.4 354) rotate(-90)" class="lb" text-anchor="middle">Amplitude (uV)</text>
<text x="303.6" y="295.7" class="tt">Parietal-Occipital LPP</text>
<path d="M262.3 327.5C262.8 327.1 263.7 325.9 265.1 325.1C266.5 324.3 268.7 323.4 270.5 322.8C272.3 322.2 274 321.7 275.8 321.6C277.6 321.5 279.4 322.6 281.2 322.1C283 321.7 284.9 318.8 286.5 318.9C288.1 319 289.5 321.9 291 322.5C292.5 323.1 294 322.6 295.4 322.8C296.8 323 297.8 323.9 299.3 323.9C300.8 323.9 302.7 322.8 304.3 322.8C305.9 322.8 307.3 323.1 308.8 323.9C310.3 324.7 311.9 325.9 313.2 327.8C314.5 329.7 315.8 333.1 316.8 335C317.9 336.9 318.7 338.2 319.5 338.9C320.3 339.6 320.9 338.3 321.8 339.4C322.7 340.5 323.7 343.4 324.8 345.6C325.9 347.8 327 350.9 328.4 352.8C329.8 354.7 331.6 355.7 332.9 357.2C334.2 358.7 335.2 359.7 336.4 361.7C337.6 363.7 339 367.5 340 369.3C341 371.1 341.6 371.8 342.4 372.7C343.2 373.6 343.8 374.5 344.8 374.8C345.9 375.1 347.4 374.3 348.7 374.3C350 374.3 351.5 373.9 352.7 374.8C353.9 375.7 354.8 378.3 355.8 379.6C356.9 380.9 357.7 381.9 359 382.7C360.3 383.5 362.4 383.9 363.8 384.3C365.2 384.7 366.5 384.9 367.7 385.1C368.9 385.3 369.8 385.7 370.9 385.4C372 385.1 372.9 384.1 374.1 383.5C375.3 382.9 376.7 382.4 378 381.9C379.3 381.4 380.8 380.4 382 380.3C383.2 380.2 384.1 381.1 385.1 381.1C386.2 381.1 387.2 380.6 388.3 380.3C389.4 380.1 390.4 379.3 391.5 379.6C392.6 379.9 393.6 381.2 394.7 381.9C395.8 382.5 396.9 383.4 397.8 383.5C398.7 383.6 399.3 382.6 400.2 382.7C401.1 382.8 402.3 383.7 403.4 383.8C404.4 383.9 405.4 383.1 406.5 383.2C407.6 383.3 408.9 384.4 409.7 384.3C410.5 384.2 410.5 382.6 411.3 382.7C412.1 382.8 413.6 384.7 414.5 384.8C415.4 384.9 415.9 383.6 416.5 383.2C417.1 382.8 417.4 382.5 418.2 382.5C419 382.5 420.1 383.4 421.3 383C422.5 382.6 424.1 380.9 425.3 380.1C426.5 379.3 427.4 378.9 428.5 378.2C429.6 377.5 430.4 376.5 431.6 376.1C432.8 375.7 434.3 376 435.6 375.7C436.9 375.4 438.3 375 439.6 374.1C440.9 373.2 442.3 371 443.5 370.6C444.7 370.2 445.5 371.9 446.7 371.9C447.9 371.8 449.3 370.9 450.6 370.3C451.9 369.7 453.3 368.9 454.6 368.2C455.9 367.5 457.4 366.8 458.6 366.2C459.8 365.6 460.6 364.7 461.7 364.6C462.8 364.5 463.7 365.8 464.9 365.5C466.1 365.2 467.6 363.1 468.9 362.7C470.2 362.3 471.5 363.1 472.8 363C474.1 362.9 475.5 362.8 476.8 362.4C478.1 362 479.5 361.2 480.7 360.8C481.9 360.4 483 360.3 483.9 359.8C484.8 359.3 485.6 358.2 486.3 357.6C487 357 487.9 356.5 488.2 356.3" fill="none" stroke="#f83226" stroke-width="1.05" stroke-linejoin="round" stroke-linecap="round"/>
<path d="M262.3 323.4C263.1 323.4 265.2 323.6 266.9 323.4C268.6 323.2 270.2 322.4 272.3 322.1C274.4 321.8 277.3 321.7 279.4 321.6C281.5 321.5 282.9 321.4 284.7 321.6C286.5 321.8 288.2 322.4 290.1 322.8C292 323.2 294.5 324.1 296.3 323.9C298.1 323.7 299.3 321.8 300.8 321.6C302.3 321.4 303.7 322.4 305.2 322.8C306.7 323.2 308.4 323.1 309.7 323.9C311 324.7 312 325.7 313.2 327.8C314.4 329.9 315.6 334.7 316.8 336.7C318 338.7 319.2 338.3 320.4 339.9C321.6 341.5 322.7 343.6 323.9 346.5C325.1 349.4 326.6 354.8 327.5 357.2C328.4 359.6 328.6 360.4 329.3 360.8C330.1 361.2 331.1 359.6 332 359.9C332.9 360.2 333.6 361.1 334.6 362.6C335.6 364.1 337.3 366.9 338.2 368.8C339.1 370.8 339.2 372.9 340 374.3C340.8 375.7 342 376.4 343.2 377.2C344.4 378 345.7 378.7 347.1 379.1C348.6 379.5 350.6 378.9 351.9 379.6C353.2 380.3 353.8 382.2 355 383.5C356.2 384.8 357.5 386.4 359 387.5C360.5 388.6 362.2 389.5 363.8 390.2C365.4 390.9 367.2 391.5 368.5 391.8C369.8 392.1 370.5 392.2 371.7 392.2C372.9 392.2 374.3 392.3 375.6 391.8C376.9 391.3 378.4 389.8 379.6 389.1C380.8 388.4 381.8 387.6 382.8 387.5C383.9 387.4 384.8 388 385.9 388.3C386.9 388.6 387.9 389.2 389.1 389.5C390.3 389.8 391.8 389.9 393.1 390.2C394.4 390.5 395.7 391.1 397 391.1C398.3 391.1 399.7 389.9 401 390.2C402.3 390.5 403.8 393 405 393C406.2 393 407.1 390.6 408.1 390.2C409.2 389.8 410.2 390.2 411.3 390.6C412.4 391 413.9 392.6 415 392.6C416.1 392.7 417.1 391.3 418.2 390.9C419.2 390.5 420.2 390.8 421.3 390.4C422.4 390 423.4 389.6 424.5 388.8C425.6 388 426.6 386.1 427.7 385.6C428.8 385.1 429.6 386 430.8 385.6C432 385.2 433.5 384 434.8 383.3C436.1 382.6 437.4 382.3 438.8 381.7C440.2 381.1 442.1 380.5 443.5 379.8C444.9 379.1 446.2 378.4 447.5 377.7C448.8 376.9 450.2 375.8 451.4 375.3C452.6 374.9 453.4 375.4 454.6 375C455.8 374.6 457.3 373.7 458.6 373C459.9 372.3 461.2 371.3 462.5 370.6C463.8 369.9 465.2 369.5 466.5 369C467.8 368.5 469.1 368.4 470.4 367.7C471.7 367 473.1 365.6 474.4 365C475.7 364.4 477.2 364.4 478.4 363.9C479.6 363.4 480.4 362.3 481.5 361.9C482.6 361.5 483.6 361.9 484.7 361.4C485.8 360.9 487.6 359.1 488.2 358.7" fill="none" stroke="#1c1c1c" stroke-width="1.05" stroke-linejoin="round" stroke-linecap="round"/>
<path d="M262.3 322.8C263.1 322.4 265.2 320.8 266.9 320.7C268.6 320.6 270.2 322.1 272.3 322.1C274.4 322.1 277.3 320.7 279.4 320.7C281.5 320.7 282.9 321.3 284.7 322.1C286.5 322.9 288.3 325.3 290.1 325.7C291.9 326.1 293.8 324.4 295.4 324.6C297 324.8 298.3 326.4 299.9 326.9C301.5 327.4 303.6 327.5 305.2 327.8C306.8 328.1 308.4 327.8 309.7 328.7C311 329.6 312 331.1 313.2 333.2C314.4 335.3 315.8 339.3 316.8 341.2C317.9 343.1 318.6 343.6 319.5 344.8C320.4 346 321.2 345.9 322.2 348.3C323.2 350.7 324.4 356.5 325.4 359C326.4 361.5 327.3 362.3 328.4 363.5C329.5 364.7 330.8 364.8 332 366.1C333.2 367.4 334.3 369.6 335.5 371.5C336.7 373.4 338.4 376.3 339.1 377.7C339.9 379.1 339.3 378.9 340 379.6C340.7 380.4 342 381.4 343.2 382.2C344.4 383 345.7 383.6 347.1 384.3C348.6 385.1 350.6 385.6 351.9 386.7C353.2 387.8 353.9 389.4 355 390.6C356.1 391.8 357 392.9 358.2 393.8C359.4 394.7 360.9 395.4 362.2 395.9C363.5 396.3 365 396.1 366.1 396.5C367.2 396.9 367.9 398.2 368.8 398.1C369.7 398.1 370.7 396.5 371.7 396.2C372.7 395.9 373.7 396.8 374.9 396.5C376.1 396.2 377.6 394.5 378.8 394.3C380 394.1 380.8 395 382 395.4C383.2 395.8 384.6 396.2 385.9 396.5C387.2 396.8 388.6 396.7 389.9 397C391.2 397.3 392.6 397.7 393.9 398.1C395.2 398.5 396.5 398.9 397.8 399.4C399.1 399.9 400.4 400.9 401.8 401.3C403.2 401.7 404.9 401.6 406.5 401.7C408.1 401.8 409.9 402.2 411.3 402.2C412.7 402.2 413.9 401.6 415 401.6C416.1 401.6 417.1 402.2 418.2 402C419.2 401.8 420.1 400.9 421.3 400.4C422.5 399.9 424 399.2 425.3 398.8C426.6 398.4 428 398.1 429.3 397.8C430.6 397.5 431.9 397.6 433.2 397.2C434.5 396.8 435.9 395.6 437.2 395.1C438.5 394.6 439.8 394.6 441.1 394C442.4 393.4 443.8 392.3 445.1 391.5C446.4 390.7 447.8 389.8 449.1 389.3C450.4 388.9 451.8 389 453 388.8C454.2 388.6 455.3 388 456.2 388C457.1 388 457.7 388.9 458.6 388.8C459.5 388.7 460.5 387.4 461.7 387.2C462.9 387 464.4 387.8 465.7 387.7C467 387.6 468.2 387.1 469.7 386.8C471.1 386.5 473.1 385.5 474.4 385.6C475.7 385.7 476.6 387.1 477.6 387.2C478.7 387.3 479.6 386.6 480.7 386.1C481.8 385.6 483 384.7 483.9 384.1C484.8 383.5 485.3 382.6 486 382.5C486.7 382.4 487.8 383.4 488.2 383.6" fill="none" stroke="#2a2af5" stroke-width="1.05" stroke-linejoin="round" stroke-linecap="round"/>
<path d="M361.9 334.7H369" stroke="#f83226" stroke-width="1.05" fill="none"/>
<text x="370.2" y="335.9" class="ls2">positive expressions</text>
<path d="M361.9 340.3H369" stroke="#1c1c1c" stroke-width="1.05" fill="none"/>
<text x="370.2" y="341.5" class="ls2">neutral expressions</text>
<path d="M361.9 346.1H369" stroke="#2a2af5" stroke-width="1.05" fill="none"/>
<text x="370.2" y="347.3" class="ls2">negative expressions</text>
<text x="312.3" y="446.8" class="tpd" text-anchor="middle">LPP positive expressions</text>
<text x="377.1" y="446.8" class="tpd" text-anchor="middle">LPP neutral expressions</text>
<text x="441.7" y="446.8" class="tpd" text-anchor="middle">LPP negative expressions</text>
<rect x="474.2" y="451.6" width="6.2" height="40.2" fill="url(#jetg)" filter="url(#tb2)"/><path d="M480.9 451.6h1.1M480.9 456.6h1.1M480.9 461.7h1.1M480.9 466.7h1.1M480.9 471.7h1.1M480.9 476.7h1.1M480.9 481.8h1.1M480.9 486.8h1.1M480.9 491.8h1.1" stroke="#555" stroke-opacity=".6" stroke-width=".55" fill="none"/>
<text x="381" y="507.9" class="pl" text-anchor="middle">d</text>
</svg>
</body></html>
